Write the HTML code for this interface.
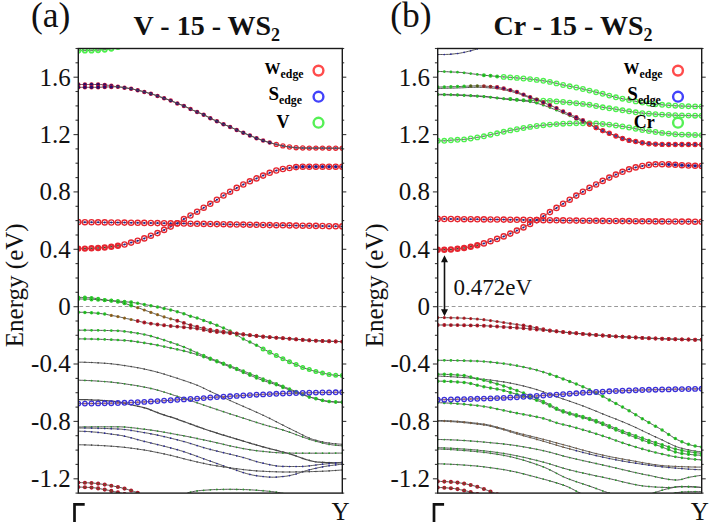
<!DOCTYPE html>
<html><head><meta charset="utf-8"><title>Band structure</title>
<style>html,body{margin:0;padding:0;background:#fff;}svg{display:block;}</style>
</head><body>
<svg width="712" height="526" viewBox="0 0 712 526">
<rect width="712" height="526" fill="#fff"/>
<defs>
<clipPath id="ca"><rect x="78.3" y="48.5" width="264" height="444.6"/></clipPath>
<clipPath id="cb"><rect x="437.7" y="48.5" width="264" height="444.6"/></clipPath>
</defs>
<line x1="79.3" y1="306.5" x2="342.3" y2="306.5" stroke="#999" stroke-width="1.1" stroke-dasharray="3.8 2.7"/>
<g clip-path="url(#ca)"><path d="M78.3,50.6 L79.8,50.6 L81.4,50.6 L82.9,50.6 L84.4,50.5 L85.9,50.5 L87.5,50.5 L89,50.5 L90.5,50.4 L92,50.4 L93.6,50.3 L95.1,50.3 L96.6,50.2 L98.1,50.1 L99.7,50 L101.2,49.9 L102.7,49.8 L104.2,49.6 L105.8,49.5 L107.3,49.3 L108.8,49 L110.3,48.8 L111.9,48.5 L113.4,48.2 L114.9,47.8 L116.4,47.4 L118,47 L119.5,46.6 L121,46.2 L122.5,45.7 L124.1,45.2 L125.6,44.8 L127.1,44.3 L128.6,43.8 L130.2,43.3 L131.7,42.8 L133.2,42.3 L134.7,41.7 L136.3,41.2 L137.8,40.7 L139.3,40.1 L140.8,39.5 L142.4,39 L143.9,38.4 L145.4,37.8 L146.9,37.2 L148.5,36.6 L150,36" fill="none" stroke="#525252" stroke-width="1.0"/><circle cx="78.3" cy="50.6" r="2.2" fill="none" stroke="#4ef04e" stroke-width="1.8"/><circle cx="78.3" cy="50.6" r="0.8" fill="#6a9a6a"/><circle cx="84.9" cy="50.5" r="2.2" fill="none" stroke="#4ef04e" stroke-width="1.8"/><circle cx="84.9" cy="50.5" r="0.8" fill="#6a9a6a"/><circle cx="91.5" cy="50.4" r="2.2" fill="none" stroke="#4ef04e" stroke-width="1.8"/><circle cx="91.5" cy="50.4" r="0.8" fill="#6a9a6a"/><circle cx="98.1" cy="50.1" r="2.2" fill="none" stroke="#4ef04e" stroke-width="1.8"/><circle cx="98.1" cy="50.1" r="0.8" fill="#6a9a6a"/><circle cx="104.7" cy="49.6" r="2.2" fill="none" stroke="#4ef04e" stroke-width="1.8"/><circle cx="104.7" cy="49.6" r="0.8" fill="#6a9a6a"/><circle cx="111.3" cy="48.6" r="2.2" fill="none" stroke="#4ef04e" stroke-width="1.8"/><circle cx="111.3" cy="48.6" r="0.8" fill="#6a9a6a"/><circle cx="117.9" cy="47" r="2.2" fill="none" stroke="#4ef04e" stroke-width="1.8"/><circle cx="117.9" cy="47" r="0.8" fill="#6a9a6a"/><circle cx="124.5" cy="45.1" r="2.2" fill="none" stroke="#4ef04e" stroke-width="1.8"/><circle cx="124.5" cy="45.1" r="0.8" fill="#6a9a6a"/><circle cx="131.1" cy="43" r="2.2" fill="none" stroke="#4ef04e" stroke-width="1.8"/><circle cx="131.1" cy="43" r="0.8" fill="#6a9a6a"/><circle cx="137.7" cy="40.7" r="2.2" fill="none" stroke="#4ef04e" stroke-width="1.8"/><circle cx="137.7" cy="40.7" r="0.8" fill="#6a9a6a"/><circle cx="144.3" cy="38.2" r="2.2" fill="none" stroke="#4ef04e" stroke-width="1.8"/><circle cx="144.3" cy="38.2" r="0.8" fill="#6a9a6a"/><path d="M78.3,84.5 L79.8,84.5 L81.3,84.5 L82.8,84.5 L84.3,84.5 L85.8,84.5 L87.3,84.5 L88.8,84.5 L90.3,84.5 L91.8,84.5 L93.3,84.5 L94.8,84.5 L96.3,84.5 L97.8,84.5 L99.3,84.5 L100.8,84.6 L102.3,84.7 L103.8,84.8 L105.3,85 L106.8,85.1 L108.3,85.3 L109.8,85.6 L111.3,85.8 L112.8,86 L114.3,86.3 L115.8,86.5 L117.3,86.7 L118.8,86.9 L120.3,87.1 L121.8,87.3 L123.3,87.5 L124.8,87.7 L126.3,88 L127.8,88.2 L129.3,88.5 L130.8,88.7 L132.3,89 L133.8,89.3 L135.3,89.7 L136.8,90 L138.3,90.3 L139.8,90.7 L141.3,91.1 L142.8,91.5 L144.3,91.9 L145.8,92.3 L147.3,92.7 L148.8,93.2 L150.3,93.6 L151.8,94.1 L153.3,94.5 L154.8,95 L156.3,95.5 L157.8,96 L159.3,96.5 L160.8,97.1 L162.3,97.6 L163.8,98.2 L165.3,98.7 L166.8,99.2 L168.3,99.7 L169.8,100.3 L171.3,100.8 L172.8,101.5 L174.3,102.1 L175.8,102.8 L177.3,103.4 L178.8,104 L180.3,104.5 L181.8,105.1 L183.3,105.7 L184.8,106.3 L186.3,107 L187.8,107.8 L189.3,108.5 L190.8,109.2 L192.3,109.9 L193.8,110.6 L195.3,111.2 L196.8,111.9 L198.3,112.5 L199.8,113.1 L201.3,113.7 L202.8,114.4 L204.3,115.1 L205.8,115.8 L207.3,116.6 L208.8,117.4 L210.3,118.2 L211.8,118.9 L213.3,119.6 L214.8,120.3 L216.3,120.9 L217.8,121.6 L219.3,122.3 L220.8,123.1 L222.3,123.8 L223.8,124.4 L225.3,125 L226.8,125.6 L228.3,126.2 L229.8,126.8 L231.3,127.4 L232.8,128.1 L234.3,128.9 L235.8,129.6 L237.3,130.3 L238.8,130.9 L240.3,131.6 L241.8,132.2 L243.3,132.8 L244.8,133.4 L246.3,134 L247.8,134.6 L249.3,135.3 L250.8,135.9 L252.3,136.5 L253.8,137.1 L255.3,137.7 L256.8,138.3 L258.3,138.9 L259.8,139.4 L261.3,140 L262.8,140.5 L264.3,141 L265.8,141.5 L267.3,141.9 L268.8,142.3 L270.3,142.8 L271.8,143.2 L273.3,143.6 L274.8,144 L276.3,144.4 L277.8,144.8 L279.3,145.1 L280.8,145.5 L282.3,145.8 L283.8,146.1 L285.3,146.3 L286.8,146.6 L288.3,146.8 L289.8,147 L291.3,147.2 L292.8,147.4 L294.3,147.6 L295.8,147.7 L297.3,147.8 L298.8,147.9 L300.3,147.9 L301.8,148 L303.3,148 L304.8,148 L306.3,148 L307.8,148.1 L309.3,148.1 L310.8,148.1 L312.3,148.1 L313.8,148.1 L315.3,148.1 L316.8,148.1 L318.3,148.1 L319.8,148.1 L321.3,148.1 L322.8,148.1 L324.3,148.1 L325.8,148.1 L327.3,148.2 L328.8,148.2 L330.3,148.2 L331.8,148.2 L333.3,148.2 L334.8,148.2 L336.3,148.2 L337.8,148.2 L339.3,148.2 L340.8,148.2 L342.3,148.2" fill="none" stroke="#525252" stroke-width="1.0"/><circle cx="78.3" cy="84.5" r="2.25" fill="#d0203c"/><circle cx="78.3" cy="84.5" r="1.7" fill="#2a0c6a"/><circle cx="84.9" cy="84.5" r="2.25" fill="#d0203c"/><circle cx="84.9" cy="84.5" r="1.7" fill="#2a0c6a"/><circle cx="91.5" cy="84.5" r="2.25" fill="#d0203c"/><circle cx="91.5" cy="84.5" r="1.7" fill="#2a0c6a"/><circle cx="98.1" cy="84.5" r="2.25" fill="#d0203c"/><circle cx="98.1" cy="84.5" r="1.7" fill="#2a0c6a"/><circle cx="104.7" cy="84.9" r="2.25" fill="#d0203c"/><circle cx="104.7" cy="84.9" r="1.7" fill="#2a0c6a"/><circle cx="111.3" cy="85.8" r="2.25" fill="#d0203c"/><circle cx="111.3" cy="85.8" r="1.7" fill="#2a0c6a"/><circle cx="117.9" cy="86.8" r="2.25" fill="#d0203c"/><circle cx="117.9" cy="86.8" r="1.7" fill="#2a0c6a"/><circle cx="124.5" cy="87.7" r="2.25" fill="#d0203c"/><circle cx="124.5" cy="87.7" r="1.7" fill="#2a0c6a"/><circle cx="131.1" cy="88.8" r="2.25" fill="#d0203c"/><circle cx="131.1" cy="88.8" r="1.7" fill="#2a0c6a"/><circle cx="137.7" cy="90.2" r="2.25" fill="#d0203c"/><circle cx="137.7" cy="90.2" r="1.7" fill="#2a0c6a"/><circle cx="144.3" cy="91.9" r="2.25" fill="#d0203c"/><circle cx="144.3" cy="91.9" r="1.7" fill="#2a0c6a"/><circle cx="150.9" cy="93.8" r="2.25" fill="#d0203c"/><circle cx="150.9" cy="93.8" r="1.7" fill="#2a0c6a"/><circle cx="157.5" cy="95.9" r="2.25" fill="#d0203c"/><circle cx="157.5" cy="95.9" r="1.7" fill="#2a0c6a"/><circle cx="164.1" cy="98.3" r="2.25" fill="#d0203c"/><circle cx="164.1" cy="98.3" r="1.7" fill="#2a0c6a"/><circle cx="170.7" cy="100.6" r="2.25" fill="#d0203c"/><circle cx="170.7" cy="100.6" r="1.7" fill="#2a0c6a"/><circle cx="177.3" cy="103.4" r="2.25" fill="#d0203c"/><circle cx="177.3" cy="103.4" r="1.7" fill="#2a0c6a"/><circle cx="183.9" cy="105.9" r="2.25" fill="#d0203c"/><circle cx="183.9" cy="105.9" r="1.7" fill="#2a0c6a"/><circle cx="190.5" cy="109.1" r="2.25" fill="#d0203c"/><circle cx="190.5" cy="109.1" r="1.7" fill="#2a0c6a"/><circle cx="197.1" cy="112" r="2.25" fill="#d0203c"/><circle cx="197.1" cy="112" r="1.7" fill="#2a0c6a"/><circle cx="203.7" cy="114.8" r="2.25" fill="#d0203c"/><circle cx="203.7" cy="114.8" r="1.7" fill="#2a0c6a"/><circle cx="210.3" cy="118.2" r="2.25" fill="#d0203c"/><circle cx="210.3" cy="118.2" r="1.7" fill="#2a0c6a"/><circle cx="216.9" cy="121.2" r="2.25" fill="#d0203c"/><circle cx="216.9" cy="121.2" r="1.7" fill="#2a0c6a"/><circle cx="223.5" cy="124.3" r="2.25" fill="#d0203c"/><circle cx="223.5" cy="124.3" r="1.7" fill="#2a0c6a"/><circle cx="230.1" cy="126.9" r="2.25" fill="#d0203c"/><circle cx="230.1" cy="126.9" r="1.7" fill="#2a0c6a"/><circle cx="236.7" cy="130" r="2.25" fill="#d0203c"/><circle cx="236.7" cy="130" r="1.7" fill="#2a0c6a"/><circle cx="243.3" cy="132.8" r="2.25" fill="#d0203c"/><circle cx="243.3" cy="132.8" r="1.7" fill="#2a0c6a"/><circle cx="249.9" cy="135.5" r="2.25" fill="#d0203c"/><circle cx="249.9" cy="135.5" r="1.7" fill="#2a0c6a"/><circle cx="256.5" cy="138.2" r="2.25" fill="#d0203c"/><circle cx="256.5" cy="138.2" r="1.7" fill="#2a0c6a"/><circle cx="263.1" cy="140.6" r="2.25" fill="#d0203c"/><circle cx="263.1" cy="140.6" r="1.7" fill="#2a0c6a"/><circle cx="269.7" cy="142.6" r="2.25" fill="#d0203c"/><circle cx="269.7" cy="142.6" r="1.7" fill="#2a0c6a"/><circle cx="276.3" cy="144.4" r="2.05" fill="none" stroke="#e62630" stroke-width="1.3"/><circle cx="276.3" cy="144.4" r="1.1" fill="#4a4aa0"/><circle cx="282.9" cy="145.9" r="2.05" fill="none" stroke="#e62630" stroke-width="1.3"/><circle cx="282.9" cy="145.9" r="1.1" fill="#4a4aa0"/><circle cx="289.5" cy="147" r="2.05" fill="none" stroke="#e62630" stroke-width="1.3"/><circle cx="289.5" cy="147" r="1.1" fill="#4a4aa0"/><circle cx="296.1" cy="147.7" r="2.05" fill="none" stroke="#e62630" stroke-width="1.3"/><circle cx="296.1" cy="147.7" r="1.1" fill="#4a4aa0"/><circle cx="302.7" cy="148" r="2.05" fill="none" stroke="#e62630" stroke-width="1.3"/><circle cx="302.7" cy="148" r="1.1" fill="#4a4aa0"/><circle cx="309.3" cy="148.1" r="2.05" fill="none" stroke="#e62630" stroke-width="1.3"/><circle cx="309.3" cy="148.1" r="1.1" fill="#4a4aa0"/><circle cx="315.9" cy="148.1" r="2.05" fill="none" stroke="#e62630" stroke-width="1.3"/><circle cx="315.9" cy="148.1" r="1.1" fill="#4a4aa0"/><circle cx="322.5" cy="148.1" r="2.05" fill="none" stroke="#e62630" stroke-width="1.3"/><circle cx="322.5" cy="148.1" r="1.1" fill="#4a4aa0"/><circle cx="329.1" cy="148.2" r="2.05" fill="none" stroke="#e62630" stroke-width="1.3"/><circle cx="329.1" cy="148.2" r="1.1" fill="#4a4aa0"/><circle cx="335.7" cy="148.2" r="2.05" fill="none" stroke="#e62630" stroke-width="1.3"/><circle cx="335.7" cy="148.2" r="1.1" fill="#4a4aa0"/><circle cx="342.3" cy="148.2" r="2.05" fill="none" stroke="#e62630" stroke-width="1.3"/><circle cx="342.3" cy="148.2" r="1.1" fill="#4a4aa0"/><path d="M78.3,87.3 L79.8,87.3 L81.3,87.3 L82.8,87.3 L84.3,87.3 L85.8,87.3 L87.3,87.3 L88.8,87.3 L90.3,87.3 L91.8,87.3 L93.3,87.3 L94.8,87.3 L96.3,87.3 L97.8,87.3 L99.3,87.3 L100.8,87.2 L102.3,87.1 L103.8,87 L105.3,87 L106.8,87 L108.3,86.9 L109.8,86.9 L111.3,86.9 L112.8,86.9 L114.3,86.8 L115.8,86.8 L117.3,86.8 L118.8,86.8 L120.3,87 L121.8,87.2 L123.3,87.5 L124.8,87.7 L126.3,88 L127.8,88.2 L129.3,88.5 L130.8,88.7 L132.3,89 L133.8,89.3 L135.3,89.7 L136.8,90 L138.3,90.3 L139.8,90.7 L141.3,91.1 L142.8,91.5 L144.3,91.9 L145.8,92.3 L147.3,92.7 L148.8,93.2 L150.3,93.6 L151.8,94.1 L153.3,94.5 L154.8,95 L156.3,95.5 L157.8,96 L159.3,96.5 L160.8,97.1 L162.3,97.6 L163.8,98.2 L165.3,98.7 L166.8,99.2 L168.3,99.7 L169.8,100.3 L171.3,100.8 L172.8,101.5 L174.3,102.1 L175.8,102.8 L177.3,103.4 L178.8,104 L180.3,104.5 L181.8,105.1 L183.3,105.7 L184.8,106.3 L186.3,107 L187.8,107.8 L189.3,108.5 L190.8,109.2 L192.3,109.9 L193.8,110.6 L195.3,111.2 L196.8,111.9 L198.3,112.5 L199.8,113.1 L201.3,113.7 L202.8,114.4 L204.3,115.1 L205.8,115.8 L207.3,116.6 L208.8,117.4 L210.3,118.2 L211.8,118.9 L213.3,119.6 L214.8,120.3 L216.3,120.9 L217.8,121.6 L219.3,122.3 L220.8,123.1 L222.3,123.8 L223.8,124.4 L225.3,125 L226.8,125.6 L228.3,126.2 L229.8,126.8 L231.3,127.4 L232.8,128.1 L234.3,128.9 L235.8,129.6 L237.3,130.3 L238.8,130.9 L240.3,131.6 L241.8,132.2 L243.3,132.8 L244.8,133.4 L246.3,134 L247.8,134.6 L249.3,135.3 L250.8,135.9 L252.3,136.5 L253.8,137.1 L255.3,137.7 L256.8,138.3 L258.3,138.9 L259.8,139.4 L261.3,140 L262.8,140.5 L264.3,141 L265.8,141.5 L267.3,141.9 L268.8,142.3 L270.3,142.8 L271.8,143.2 L273.3,143.6 L274.8,144 L276.3,144.4 L277.8,144.8 L279.3,145.1 L280.8,145.5 L282.3,145.8 L283.8,146.1 L285.3,146.3 L286.8,146.6 L288.3,146.8 L289.8,147 L291.3,147.2 L292.8,147.4 L294.3,147.6 L295.8,147.7 L297.3,147.8 L298.8,147.9 L300.3,147.9 L301.8,148 L303.3,148 L304.8,148 L306.3,148 L307.8,148.1 L309.3,148.1 L310.8,148.1 L312.3,148.1 L313.8,148.1 L315.3,148.1 L316.8,148.1 L318.3,148.1 L319.8,148.1 L321.3,148.1 L322.8,148.1 L324.3,148.1 L325.8,148.1 L327.3,148.2 L328.8,148.2 L330.3,148.2 L331.8,148.2 L333.3,148.2 L334.8,148.2 L336.3,148.2 L337.8,148.2 L339.3,148.2 L340.8,148.2 L342.3,148.2" fill="none" stroke="#525252" stroke-width="1.0"/><circle cx="78.3" cy="87.3" r="2.25" fill="#d0203c"/><circle cx="78.3" cy="87.3" r="1.7" fill="#2a0c6a"/><circle cx="84.9" cy="87.3" r="2.25" fill="#d0203c"/><circle cx="84.9" cy="87.3" r="1.7" fill="#2a0c6a"/><circle cx="91.5" cy="87.3" r="2.25" fill="#d0203c"/><circle cx="91.5" cy="87.3" r="1.7" fill="#2a0c6a"/><circle cx="98.1" cy="87.3" r="2.25" fill="#d0203c"/><circle cx="98.1" cy="87.3" r="1.7" fill="#2a0c6a"/><circle cx="104.7" cy="87" r="2.25" fill="#d0203c"/><circle cx="104.7" cy="87" r="1.7" fill="#2a0c6a"/><circle cx="111.3" cy="86.9" r="2.25" fill="#d0203c"/><circle cx="111.3" cy="86.9" r="1.7" fill="#2a0c6a"/><path d="M78.3,248.6 L79.8,248.6 L81.3,248.6 L82.8,248.6 L84.3,248.6 L85.8,248.6 L87.3,248.5 L88.8,248.5 L90.3,248.4 L91.8,248.3 L93.3,248.2 L94.8,248.2 L96.3,248.1 L97.8,248 L99.3,247.9 L100.8,247.8 L102.3,247.7 L103.8,247.6 L105.3,247.4 L106.8,247.3 L108.3,247.1 L109.8,246.9 L111.3,246.7 L112.8,246.5 L114.3,246.3 L115.8,246.1 L117.3,245.9 L118.8,245.7 L120.3,245.4 L121.8,245.1 L123.3,244.8 L124.8,244.4 L126.3,244 L127.8,243.6 L129.3,243.1 L130.8,242.7 L132.3,242.3 L133.8,241.8 L135.3,241.4 L136.8,241 L138.3,240.5 L139.8,240 L141.3,239.5 L142.8,239 L144.3,238.4 L145.8,237.8 L147.3,237.2 L148.8,236.6 L150.3,235.9 L151.8,235.3 L153.3,234.8 L154.8,234.2 L156.3,233.6 L157.8,233 L159.3,232.3 L160.8,231.5 L162.3,230.8 L163.8,230 L165.3,229.3 L166.8,228.6 L168.3,227.8 L169.8,227.1 L171.3,226.3 L172.8,225.5 L174.3,224.8 L175.8,224 L177.3,223.2 L178.8,222.3 L180.3,221.4 L181.8,220.4 L183.3,219.5 L184.8,218.6 L186.3,217.8 L187.8,217 L189.3,216.2 L190.8,215.3 L192.3,214.5 L193.8,213.6 L195.3,212.8 L196.8,211.9 L198.3,211 L199.8,210.1 L201.3,209.2 L202.8,208.2 L204.3,207.3 L205.8,206.5 L207.3,205.6 L208.8,204.7 L210.3,203.8 L211.8,202.9 L213.3,202 L214.8,201 L216.3,200.1 L217.8,199.1 L219.3,198.2 L220.8,197.2 L222.3,196.2 L223.8,195.3 L225.3,194.4 L226.8,193.6 L228.3,192.7 L229.8,191.9 L231.3,191 L232.8,190.1 L234.3,189.3 L235.8,188.4 L237.3,187.6 L238.8,186.8 L240.3,186 L241.8,185.3 L243.3,184.5 L244.8,183.8 L246.3,183 L247.8,182.3 L249.3,181.6 L250.8,180.9 L252.3,180.2 L253.8,179.6 L255.3,178.9 L256.8,178.3 L258.3,177.6 L259.8,177 L261.3,176.4 L262.8,175.7 L264.3,175.1 L265.8,174.4 L267.3,173.8 L268.8,173.2 L270.3,172.6 L271.8,172 L273.3,171.5 L274.8,170.9 L276.3,170.5 L277.8,170.1 L279.3,169.7 L280.8,169.4 L282.3,169.1 L283.8,168.8 L285.3,168.6 L286.8,168.4 L288.3,168.2 L289.8,168 L291.3,167.7 L292.8,167.5 L294.3,167.3 L295.8,167.1 L297.3,167 L298.8,166.9 L300.3,166.8 L301.8,166.7 L303.3,166.7 L304.8,166.7 L306.3,166.7 L307.8,166.7 L309.3,166.7 L310.8,166.7 L312.3,166.7 L313.8,166.7 L315.3,166.7 L316.8,166.7 L318.3,166.7 L319.8,166.7 L321.3,166.7 L322.8,166.7 L324.3,166.7 L325.8,166.7 L327.3,166.7 L328.8,166.7 L330.3,166.7 L331.8,166.7 L333.3,166.7 L334.8,166.7 L336.3,166.7 L337.8,166.7 L339.3,166.7 L340.8,166.7 L342.3,166.7" fill="none" stroke="#525252" stroke-width="1.0"/><circle cx="78.3" cy="248.6" r="2.1" fill="none" stroke="#e62630" stroke-width="2.2"/><circle cx="78.3" cy="248.6" r="0.8" fill="#3a4a2a"/><circle cx="84.9" cy="248.6" r="2.1" fill="none" stroke="#e62630" stroke-width="2.2"/><circle cx="84.9" cy="248.6" r="0.8" fill="#3a4a2a"/><circle cx="91.5" cy="248.3" r="2.1" fill="none" stroke="#e62630" stroke-width="2.2"/><circle cx="91.5" cy="248.3" r="0.8" fill="#3a4a2a"/><circle cx="98.1" cy="248" r="2.1" fill="none" stroke="#e62630" stroke-width="2.2"/><circle cx="98.1" cy="248" r="0.8" fill="#3a4a2a"/><circle cx="104.7" cy="247.5" r="2.1" fill="none" stroke="#e62630" stroke-width="2.2"/><circle cx="104.7" cy="247.5" r="0.8" fill="#3a4a2a"/><circle cx="111.3" cy="246.7" r="2.1" fill="none" stroke="#e62630" stroke-width="2.2"/><circle cx="111.3" cy="246.7" r="0.8" fill="#3a4a2a"/><circle cx="117.9" cy="245.8" r="2.1" fill="none" stroke="#e62630" stroke-width="2.2"/><circle cx="117.9" cy="245.8" r="0.8" fill="#3a4a2a"/><circle cx="124.5" cy="244.5" r="2.6" fill="none" stroke="#e62630" stroke-width="1.35"/><circle cx="124.5" cy="244.5" r="1.0" fill="#1e1e96"/><circle cx="131.1" cy="242.6" r="2.6" fill="none" stroke="#e62630" stroke-width="1.35"/><circle cx="131.1" cy="242.6" r="1.0" fill="#1e1e96"/><circle cx="137.7" cy="240.7" r="2.6" fill="none" stroke="#e62630" stroke-width="1.35"/><circle cx="137.7" cy="240.7" r="1.0" fill="#1e1e96"/><circle cx="144.3" cy="238.4" r="2.6" fill="none" stroke="#e62630" stroke-width="1.35"/><circle cx="144.3" cy="238.4" r="1.0" fill="#1e1e96"/><circle cx="150.9" cy="235.7" r="2.6" fill="none" stroke="#e62630" stroke-width="1.35"/><circle cx="150.9" cy="235.7" r="1.0" fill="#1e1e96"/><circle cx="157.5" cy="233.1" r="2.6" fill="none" stroke="#e62630" stroke-width="1.35"/><circle cx="157.5" cy="233.1" r="1.0" fill="#1e1e96"/><circle cx="164.1" cy="229.9" r="2.6" fill="none" stroke="#e62630" stroke-width="1.35"/><circle cx="164.1" cy="229.9" r="1.0" fill="#1e1e96"/><circle cx="170.7" cy="226.6" r="2.6" fill="none" stroke="#e62630" stroke-width="1.35"/><circle cx="170.7" cy="226.6" r="1.0" fill="#1e1e96"/><circle cx="177.3" cy="223.2" r="2.6" fill="none" stroke="#e62630" stroke-width="1.35"/><circle cx="177.3" cy="223.2" r="1.0" fill="#1e1e96"/><circle cx="183.9" cy="219.1" r="2.6" fill="none" stroke="#e62630" stroke-width="1.35"/><circle cx="183.9" cy="219.1" r="1.0" fill="#1e1e96"/><circle cx="190.5" cy="215.5" r="2.6" fill="none" stroke="#e62630" stroke-width="1.35"/><circle cx="190.5" cy="215.5" r="1.0" fill="#1e1e96"/><circle cx="197.1" cy="211.7" r="2.6" fill="none" stroke="#e62630" stroke-width="1.35"/><circle cx="197.1" cy="211.7" r="1.0" fill="#1e1e96"/><circle cx="203.7" cy="207.7" r="2.6" fill="none" stroke="#e62630" stroke-width="1.35"/><circle cx="203.7" cy="207.7" r="1.0" fill="#1e1e96"/><circle cx="210.3" cy="203.8" r="2.6" fill="none" stroke="#e62630" stroke-width="1.35"/><circle cx="210.3" cy="203.8" r="1.0" fill="#1e1e96"/><circle cx="216.9" cy="199.7" r="2.6" fill="none" stroke="#e62630" stroke-width="1.35"/><circle cx="216.9" cy="199.7" r="1.0" fill="#1e1e96"/><circle cx="223.5" cy="195.5" r="2.6" fill="none" stroke="#e62630" stroke-width="1.35"/><circle cx="223.5" cy="195.5" r="1.0" fill="#1e1e96"/><circle cx="230.1" cy="191.7" r="2.6" fill="none" stroke="#e62630" stroke-width="1.35"/><circle cx="230.1" cy="191.7" r="1.0" fill="#1e1e96"/><circle cx="236.7" cy="187.9" r="2.6" fill="none" stroke="#e62630" stroke-width="1.35"/><circle cx="236.7" cy="187.9" r="1.0" fill="#1e1e96"/><circle cx="243.3" cy="184.5" r="2.6" fill="none" stroke="#e62630" stroke-width="1.35"/><circle cx="243.3" cy="184.5" r="1.0" fill="#1e1e96"/><circle cx="249.9" cy="181.3" r="2.6" fill="none" stroke="#e62630" stroke-width="1.35"/><circle cx="249.9" cy="181.3" r="1.0" fill="#1e1e96"/><circle cx="256.5" cy="178.4" r="2.6" fill="none" stroke="#e62630" stroke-width="1.35"/><circle cx="256.5" cy="178.4" r="1.0" fill="#1e1e96"/><circle cx="263.1" cy="175.6" r="2.6" fill="none" stroke="#e62630" stroke-width="1.35"/><circle cx="263.1" cy="175.6" r="1.0" fill="#1e1e96"/><circle cx="269.7" cy="172.8" r="2.6" fill="none" stroke="#e62630" stroke-width="1.35"/><circle cx="269.7" cy="172.8" r="1.0" fill="#1e1e96"/><circle cx="276.3" cy="170.5" r="2.6" fill="none" stroke="#e62630" stroke-width="1.35"/><circle cx="276.3" cy="170.5" r="1.0" fill="#1e1e96"/><circle cx="282.9" cy="169" r="2.6" fill="none" stroke="#e62630" stroke-width="1.35"/><circle cx="282.9" cy="169" r="1.0" fill="#1e1e96"/><circle cx="289.5" cy="168" r="2.6" fill="none" stroke="#e62630" stroke-width="1.35"/><circle cx="289.5" cy="168" r="1.0" fill="#1e1e96"/><circle cx="296.1" cy="167.1" r="2.6" fill="none" stroke="#e62630" stroke-width="1.35"/><circle cx="296.1" cy="167.1" r="1.6" fill="#1e1e96"/><circle cx="302.7" cy="166.7" r="2.6" fill="none" stroke="#e62630" stroke-width="1.35"/><circle cx="302.7" cy="166.7" r="1.6" fill="#1e1e96"/><circle cx="309.3" cy="166.7" r="2.6" fill="none" stroke="#e62630" stroke-width="1.35"/><circle cx="309.3" cy="166.7" r="1.6" fill="#1e1e96"/><circle cx="315.9" cy="166.7" r="2.6" fill="none" stroke="#e62630" stroke-width="1.35"/><circle cx="315.9" cy="166.7" r="1.6" fill="#1e1e96"/><circle cx="322.5" cy="166.7" r="2.6" fill="none" stroke="#e62630" stroke-width="1.35"/><circle cx="322.5" cy="166.7" r="1.6" fill="#1e1e96"/><circle cx="329.1" cy="166.7" r="2.6" fill="none" stroke="#e62630" stroke-width="1.35"/><circle cx="329.1" cy="166.7" r="1.6" fill="#1e1e96"/><circle cx="335.7" cy="166.7" r="2.6" fill="none" stroke="#e62630" stroke-width="1.35"/><circle cx="335.7" cy="166.7" r="1.6" fill="#1e1e96"/><circle cx="342.3" cy="166.7" r="2.6" fill="none" stroke="#e62630" stroke-width="1.35"/><circle cx="342.3" cy="166.7" r="1.6" fill="#1e1e96"/><path d="M78.3,222.1 L79.8,222.1 L81.3,222.1 L82.8,222.1 L84.3,222.2 L85.8,222.2 L87.3,222.2 L88.8,222.2 L90.3,222.2 L91.8,222.2 L93.3,222.3 L94.8,222.3 L96.3,222.3 L97.8,222.3 L99.3,222.3 L100.8,222.3 L102.3,222.4 L103.8,222.4 L105.3,222.4 L106.8,222.4 L108.3,222.4 L109.8,222.4 L111.3,222.5 L112.8,222.5 L114.3,222.5 L115.8,222.5 L117.3,222.5 L118.8,222.6 L120.3,222.6 L121.8,222.6 L123.3,222.6 L124.8,222.6 L126.3,222.7 L127.8,222.7 L129.3,222.7 L130.8,222.7 L132.3,222.7 L133.8,222.8 L135.3,222.8 L136.8,222.8 L138.3,222.8 L139.8,222.8 L141.3,222.9 L142.8,222.9 L144.3,222.9 L145.8,222.9 L147.3,222.9 L148.8,223 L150.3,223 L151.8,223 L153.3,223 L154.8,223.1 L156.3,223.1 L157.8,223.1 L159.3,223.1 L160.8,223.1 L162.3,223.2 L163.8,223.2 L165.3,223.2 L166.8,223.2 L168.3,223.3 L169.8,223.3 L171.3,223.3 L172.8,223.3 L174.3,223.4 L175.8,223.4 L177.3,223.4 L178.8,223.4 L180.3,223.5 L181.8,223.5 L183.3,223.5 L184.8,223.6 L186.3,223.6 L187.8,223.6 L189.3,223.6 L190.8,223.7 L192.3,223.7 L193.8,223.7 L195.3,223.7 L196.8,223.8 L198.3,223.8 L199.8,223.8 L201.3,223.8 L202.8,223.9 L204.3,223.9 L205.8,223.9 L207.3,223.9 L208.8,224 L210.3,224 L211.8,224 L213.3,224.1 L214.8,224.1 L216.3,224.1 L217.8,224.1 L219.3,224.2 L220.8,224.2 L222.3,224.2 L223.8,224.2 L225.3,224.3 L226.8,224.3 L228.3,224.3 L229.8,224.3 L231.3,224.4 L232.8,224.4 L234.3,224.4 L235.8,224.5 L237.3,224.5 L238.8,224.5 L240.3,224.5 L241.8,224.6 L243.3,224.6 L244.8,224.6 L246.3,224.6 L247.8,224.7 L249.3,224.7 L250.8,224.7 L252.3,224.8 L253.8,224.8 L255.3,224.8 L256.8,224.8 L258.3,224.9 L259.8,224.9 L261.3,224.9 L262.8,225 L264.3,225 L265.8,225 L267.3,225 L268.8,225.1 L270.3,225.1 L271.8,225.1 L273.3,225.1 L274.8,225.2 L276.3,225.2 L277.8,225.2 L279.3,225.3 L280.8,225.3 L282.3,225.3 L283.8,225.3 L285.3,225.4 L286.8,225.4 L288.3,225.4 L289.8,225.4 L291.3,225.5 L292.8,225.5 L294.3,225.5 L295.8,225.6 L297.3,225.6 L298.8,225.6 L300.3,225.6 L301.8,225.7 L303.3,225.7 L304.8,225.7 L306.3,225.7 L307.8,225.8 L309.3,225.8 L310.8,225.8 L312.3,225.9 L313.8,225.9 L315.3,225.9 L316.8,225.9 L318.3,226 L319.8,226 L321.3,226 L322.8,226 L324.3,226.1 L325.8,226.1 L327.3,226.1 L328.8,226.2 L330.3,226.2 L331.8,226.2 L333.3,226.2 L334.8,226.3 L336.3,226.3 L337.8,226.3 L339.3,226.3 L340.8,226.4 L342.3,226.4" fill="none" stroke="#525252" stroke-width="1.0"/><circle cx="78.3" cy="222.1" r="2.6" fill="none" stroke="#e62630" stroke-width="1.35"/><circle cx="78.3" cy="222.1" r="1.0" fill="#1e1e96"/><circle cx="84.9" cy="222.2" r="2.6" fill="none" stroke="#e62630" stroke-width="1.35"/><circle cx="84.9" cy="222.2" r="1.0" fill="#1e1e96"/><circle cx="91.5" cy="222.2" r="2.6" fill="none" stroke="#e62630" stroke-width="1.35"/><circle cx="91.5" cy="222.2" r="1.0" fill="#1e1e96"/><circle cx="98.1" cy="222.3" r="2.6" fill="none" stroke="#e62630" stroke-width="1.35"/><circle cx="98.1" cy="222.3" r="1.0" fill="#1e1e96"/><circle cx="104.7" cy="222.4" r="2.6" fill="none" stroke="#e62630" stroke-width="1.35"/><circle cx="104.7" cy="222.4" r="1.0" fill="#1e1e96"/><circle cx="111.3" cy="222.5" r="2.6" fill="none" stroke="#e62630" stroke-width="1.35"/><circle cx="111.3" cy="222.5" r="1.0" fill="#1e1e96"/><circle cx="117.9" cy="222.5" r="2.6" fill="none" stroke="#e62630" stroke-width="1.35"/><circle cx="117.9" cy="222.5" r="1.0" fill="#1e1e96"/><circle cx="124.5" cy="222.6" r="2.6" fill="none" stroke="#e62630" stroke-width="1.35"/><circle cx="124.5" cy="222.6" r="1.0" fill="#1e1e96"/><circle cx="131.1" cy="222.7" r="2.6" fill="none" stroke="#e62630" stroke-width="1.35"/><circle cx="131.1" cy="222.7" r="1.0" fill="#1e1e96"/><circle cx="137.7" cy="222.8" r="2.6" fill="none" stroke="#e62630" stroke-width="1.35"/><circle cx="137.7" cy="222.8" r="1.0" fill="#1e1e96"/><circle cx="144.3" cy="222.9" r="2.6" fill="none" stroke="#e62630" stroke-width="1.35"/><circle cx="144.3" cy="222.9" r="1.0" fill="#1e1e96"/><circle cx="150.9" cy="223" r="2.6" fill="none" stroke="#e62630" stroke-width="1.35"/><circle cx="150.9" cy="223" r="1.0" fill="#1e1e96"/><circle cx="157.5" cy="223.1" r="2.6" fill="none" stroke="#e62630" stroke-width="1.35"/><circle cx="157.5" cy="223.1" r="1.0" fill="#1e1e96"/><circle cx="164.1" cy="223.2" r="2.6" fill="none" stroke="#e62630" stroke-width="1.35"/><circle cx="164.1" cy="223.2" r="1.0" fill="#1e1e96"/><circle cx="170.7" cy="223.3" r="2.6" fill="none" stroke="#e62630" stroke-width="1.35"/><circle cx="170.7" cy="223.3" r="1.0" fill="#1e1e96"/><circle cx="177.3" cy="223.4" r="2.6" fill="none" stroke="#e62630" stroke-width="1.35"/><circle cx="177.3" cy="223.4" r="1.0" fill="#1e1e96"/><circle cx="183.9" cy="223.5" r="2.6" fill="none" stroke="#e62630" stroke-width="1.35"/><circle cx="183.9" cy="223.5" r="1.0" fill="#1e1e96"/><circle cx="190.5" cy="223.7" r="2.6" fill="none" stroke="#e62630" stroke-width="1.35"/><circle cx="190.5" cy="223.7" r="1.0" fill="#1e1e96"/><circle cx="197.1" cy="223.8" r="2.6" fill="none" stroke="#e62630" stroke-width="1.35"/><circle cx="197.1" cy="223.8" r="1.0" fill="#1e1e96"/><circle cx="203.7" cy="223.9" r="2.6" fill="none" stroke="#e62630" stroke-width="1.35"/><circle cx="203.7" cy="223.9" r="1.0" fill="#1e1e96"/><circle cx="210.3" cy="224" r="2.6" fill="none" stroke="#e62630" stroke-width="1.35"/><circle cx="210.3" cy="224" r="1.0" fill="#1e1e96"/><circle cx="216.9" cy="224.1" r="2.6" fill="none" stroke="#e62630" stroke-width="1.35"/><circle cx="216.9" cy="224.1" r="1.0" fill="#1e1e96"/><circle cx="223.5" cy="224.2" r="2.6" fill="none" stroke="#e62630" stroke-width="1.35"/><circle cx="223.5" cy="224.2" r="1.0" fill="#1e1e96"/><circle cx="230.1" cy="224.4" r="2.6" fill="none" stroke="#e62630" stroke-width="1.35"/><circle cx="230.1" cy="224.4" r="1.0" fill="#1e1e96"/><circle cx="236.7" cy="224.5" r="2.6" fill="none" stroke="#e62630" stroke-width="1.35"/><circle cx="236.7" cy="224.5" r="1.0" fill="#1e1e96"/><circle cx="243.3" cy="224.6" r="2.6" fill="none" stroke="#e62630" stroke-width="1.35"/><circle cx="243.3" cy="224.6" r="1.0" fill="#1e1e96"/><circle cx="249.9" cy="224.7" r="2.6" fill="none" stroke="#e62630" stroke-width="1.35"/><circle cx="249.9" cy="224.7" r="1.0" fill="#1e1e96"/><circle cx="256.5" cy="224.8" r="2.6" fill="none" stroke="#e62630" stroke-width="1.35"/><circle cx="256.5" cy="224.8" r="1.0" fill="#1e1e96"/><circle cx="263.1" cy="225" r="2.6" fill="none" stroke="#e62630" stroke-width="1.35"/><circle cx="263.1" cy="225" r="1.0" fill="#1e1e96"/><circle cx="269.7" cy="225.1" r="2.6" fill="none" stroke="#e62630" stroke-width="1.35"/><circle cx="269.7" cy="225.1" r="1.0" fill="#1e1e96"/><circle cx="276.3" cy="225.2" r="2.6" fill="none" stroke="#e62630" stroke-width="1.35"/><circle cx="276.3" cy="225.2" r="1.0" fill="#1e1e96"/><circle cx="282.9" cy="225.3" r="2.6" fill="none" stroke="#e62630" stroke-width="1.35"/><circle cx="282.9" cy="225.3" r="1.0" fill="#1e1e96"/><circle cx="289.5" cy="225.4" r="2.6" fill="none" stroke="#e62630" stroke-width="1.35"/><circle cx="289.5" cy="225.4" r="1.0" fill="#1e1e96"/><circle cx="296.1" cy="225.6" r="2.6" fill="none" stroke="#e62630" stroke-width="1.35"/><circle cx="296.1" cy="225.6" r="1.0" fill="#1e1e96"/><circle cx="302.7" cy="225.7" r="2.6" fill="none" stroke="#e62630" stroke-width="1.35"/><circle cx="302.7" cy="225.7" r="1.0" fill="#1e1e96"/><circle cx="309.3" cy="225.8" r="2.6" fill="none" stroke="#e62630" stroke-width="1.35"/><circle cx="309.3" cy="225.8" r="1.0" fill="#1e1e96"/><circle cx="315.9" cy="225.9" r="2.6" fill="none" stroke="#e62630" stroke-width="1.35"/><circle cx="315.9" cy="225.9" r="1.0" fill="#1e1e96"/><circle cx="322.5" cy="226" r="2.6" fill="none" stroke="#e62630" stroke-width="1.35"/><circle cx="322.5" cy="226" r="1.0" fill="#1e1e96"/><circle cx="329.1" cy="226.2" r="2.6" fill="none" stroke="#e62630" stroke-width="1.35"/><circle cx="329.1" cy="226.2" r="1.0" fill="#1e1e96"/><circle cx="335.7" cy="226.3" r="2.6" fill="none" stroke="#e62630" stroke-width="1.35"/><circle cx="335.7" cy="226.3" r="1.0" fill="#1e1e96"/><circle cx="342.3" cy="226.4" r="2.6" fill="none" stroke="#e62630" stroke-width="1.35"/><circle cx="342.3" cy="226.4" r="1.0" fill="#1e1e96"/><path d="M78.3,297.4 L79.8,297.4 L81.3,297.4 L82.8,297.5 L84.3,297.5 L85.8,297.6 L87.3,297.7 L88.8,297.7 L90.3,297.8 L91.8,297.9 L93.3,298.1 L94.8,298.3 L96.3,298.5 L97.8,298.8 L99.3,299 L100.8,299.3 L102.3,299.6 L103.8,299.8 L105.3,300 L106.8,300.1 L108.3,300.3 L109.8,300.4 L111.3,300.5 L112.8,300.7 L114.3,300.8 L115.8,300.9 L117.3,301 L118.8,301.2 L120.3,301.3 L121.8,301.4 L123.3,301.6 L124.8,301.7 L126.3,301.8 L127.8,302 L129.3,302.1 L130.8,302.3 L132.3,302.5 L133.8,302.7 L135.3,302.9 L136.8,303.1 L138.3,303.4 L139.8,303.7 L141.3,304 L142.8,304.2 L144.3,304.5 L145.8,304.8 L147.3,305 L148.8,305.3 L150.3,305.6 L151.8,305.9 L153.3,306.2 L154.8,306.5 L156.3,306.8 L157.8,307.1 L159.3,307.4 L160.8,307.7 L162.3,308 L163.8,308.3 L165.3,308.6 L166.8,309 L168.3,309.3 L169.8,309.7 L171.3,310.1 L172.8,310.4 L174.3,310.8 L175.8,311.2 L177.3,311.7 L178.8,312.1 L180.3,312.6 L181.8,313 L183.3,313.5 L184.8,314 L186.3,314.6 L187.8,315.2 L189.3,315.8 L190.8,316.3 L192.3,316.7 L193.8,317.1 L195.3,317.5 L196.8,317.9 L198.3,318.4 L199.8,318.9 L201.3,319.5 L202.8,320.1 L204.3,320.6 L205.8,321.2 L207.3,321.7 L208.8,322.2 L210.3,322.8 L211.8,323.4 L213.3,323.9 L214.8,324.5 L216.3,325.1 L217.8,325.7 L219.3,326.3 L220.8,326.9 L222.3,327.6 L223.8,328.2 L225.3,328.8 L226.8,329.4 L228.3,330.1 L229.8,330.8 L231.3,331.5 L232.8,332.4 L234.3,333.4 L235.8,334.3 L237.3,335.3 L238.8,336.2 L240.3,337.1 L241.8,338.1 L243.3,338.9 L244.8,339.7 L246.3,340.4 L247.8,341.1 L249.3,341.8 L250.8,342.5 L252.3,343.2 L253.8,343.9 L255.3,344.6 L256.8,345.4 L258.3,346.2 L259.8,347 L261.3,347.9 L262.8,348.7 L264.3,349.5 L265.8,350.3 L267.3,351 L268.8,351.8 L270.3,352.5 L271.8,353.3 L273.3,354 L274.8,354.8 L276.3,355.5 L277.8,356.2 L279.3,357 L280.8,357.7 L282.3,358.4 L283.8,359.1 L285.3,359.9 L286.8,360.6 L288.3,361.3 L289.8,361.9 L291.3,362.6 L292.8,363.2 L294.3,363.8 L295.8,364.4 L297.3,365 L298.8,365.7 L300.3,366.4 L301.8,367 L303.3,367.6 L304.8,368.2 L306.3,368.7 L307.8,369.1 L309.3,369.6 L310.8,370.1 L312.3,370.5 L313.8,370.9 L315.3,371.3 L316.8,371.7 L318.3,372.1 L319.8,372.4 L321.3,372.7 L322.8,373.1 L324.3,373.4 L325.8,373.7 L327.3,374.1 L328.8,374.3 L330.3,374.6 L331.8,374.8 L333.3,375.1 L334.8,375.2 L336.3,375.3 L337.8,375.4 L339.3,375.5 L340.8,375.6 L342.3,375.6" fill="none" stroke="#525252" stroke-width="1.0"/><circle cx="78.3" cy="297.4" r="2.0" fill="#2ec82e"/><circle cx="78.3" cy="297.4" r="0.7" fill="#1a8a1a"/><circle cx="84.9" cy="297.6" r="2.0" fill="#2ec82e"/><circle cx="84.9" cy="297.6" r="0.7" fill="#1a8a1a"/><circle cx="91.5" cy="297.9" r="2.0" fill="#2ec82e"/><circle cx="91.5" cy="297.9" r="0.7" fill="#1a8a1a"/><circle cx="98.1" cy="298.8" r="2.0" fill="#2ec82e"/><circle cx="98.1" cy="298.8" r="0.7" fill="#1a8a1a"/><circle cx="104.7" cy="299.9" r="2.0" fill="#2ec82e"/><circle cx="104.7" cy="299.9" r="0.7" fill="#1a8a1a"/><circle cx="111.3" cy="300.5" r="2.0" fill="#2ec82e"/><circle cx="111.3" cy="300.5" r="0.7" fill="#1a8a1a"/><circle cx="117.9" cy="301.1" r="2.0" fill="#2ec82e"/><circle cx="117.9" cy="301.1" r="0.7" fill="#1a8a1a"/><circle cx="124.5" cy="301.7" r="2.0" fill="#2ec82e"/><circle cx="124.5" cy="301.7" r="0.7" fill="#1a8a1a"/><circle cx="131.1" cy="302.3" r="2.0" fill="#2ec82e"/><circle cx="131.1" cy="302.3" r="0.7" fill="#1a8a1a"/><circle cx="137.7" cy="303.3" r="1.75" fill="#2ec82e"/><circle cx="137.7" cy="303.3" r="0.6" fill="#1a8a1a"/><circle cx="144.3" cy="304.5" r="1.75" fill="#2ec82e"/><circle cx="144.3" cy="304.5" r="0.6" fill="#1a8a1a"/><circle cx="150.9" cy="305.7" r="1.75" fill="#2ec82e"/><circle cx="150.9" cy="305.7" r="0.6" fill="#1a8a1a"/><circle cx="157.5" cy="307" r="1.75" fill="#2ec82e"/><circle cx="157.5" cy="307" r="0.6" fill="#1a8a1a"/><circle cx="164.1" cy="308.4" r="1.75" fill="#2ec82e"/><circle cx="164.1" cy="308.4" r="0.6" fill="#1a8a1a"/><circle cx="170.7" cy="309.9" r="1.75" fill="#2ec82e"/><circle cx="170.7" cy="309.9" r="0.6" fill="#1a8a1a"/><circle cx="177.3" cy="311.7" r="1.75" fill="#2ec82e"/><circle cx="177.3" cy="311.7" r="0.6" fill="#1a8a1a"/><circle cx="183.9" cy="313.7" r="1.75" fill="#2ec82e"/><circle cx="183.9" cy="313.7" r="0.6" fill="#1a8a1a"/><circle cx="190.5" cy="316.2" r="1.75" fill="#2ec82e"/><circle cx="190.5" cy="316.2" r="0.6" fill="#1a8a1a"/><circle cx="197.1" cy="318" r="1.75" fill="#2ec82e"/><circle cx="197.1" cy="318" r="0.6" fill="#1a8a1a"/><circle cx="203.7" cy="320.4" r="1.75" fill="#2ec82e"/><circle cx="203.7" cy="320.4" r="0.6" fill="#1a8a1a"/><circle cx="210.3" cy="322.8" r="1.75" fill="#2ec82e"/><circle cx="210.3" cy="322.8" r="0.6" fill="#1a8a1a"/><circle cx="216.9" cy="325.3" r="1.75" fill="#2ec82e"/><circle cx="216.9" cy="325.3" r="0.6" fill="#1a8a1a"/><circle cx="223.5" cy="328.1" r="1.75" fill="#2ec82e"/><circle cx="223.5" cy="328.1" r="0.6" fill="#1a8a1a"/><circle cx="230.1" cy="330.9" r="1.75" fill="#2ec82e"/><circle cx="230.1" cy="330.9" r="0.6" fill="#1a8a1a"/><circle cx="236.7" cy="334.9" r="1.75" fill="#2ec82e"/><circle cx="236.7" cy="334.9" r="0.6" fill="#1a8a1a"/><circle cx="243.3" cy="338.9" r="1.75" fill="#2ec82e"/><circle cx="243.3" cy="338.9" r="0.6" fill="#1a8a1a"/><circle cx="249.9" cy="342.1" r="1.75" fill="#2ec82e"/><circle cx="249.9" cy="342.1" r="0.6" fill="#1a8a1a"/><circle cx="256.5" cy="345.2" r="1.75" fill="#2ec82e"/><circle cx="256.5" cy="345.2" r="0.6" fill="#1a8a1a"/><circle cx="263.1" cy="348.9" r="1.75" fill="none" stroke="#3ee03e" stroke-width="1.5"/><circle cx="263.1" cy="348.9" r="0.7" fill="#5a9a5a"/><circle cx="269.7" cy="352.2" r="1.75" fill="none" stroke="#3ee03e" stroke-width="1.5"/><circle cx="269.7" cy="352.2" r="0.7" fill="#5a9a5a"/><circle cx="276.3" cy="355.5" r="1.75" fill="none" stroke="#3ee03e" stroke-width="1.5"/><circle cx="276.3" cy="355.5" r="0.7" fill="#5a9a5a"/><circle cx="282.9" cy="358.7" r="1.75" fill="none" stroke="#3ee03e" stroke-width="1.5"/><circle cx="282.9" cy="358.7" r="0.7" fill="#5a9a5a"/><circle cx="289.5" cy="361.8" r="1.75" fill="none" stroke="#3ee03e" stroke-width="1.5"/><circle cx="289.5" cy="361.8" r="0.7" fill="#5a9a5a"/><circle cx="296.1" cy="364.5" r="1.75" fill="none" stroke="#3ee03e" stroke-width="1.5"/><circle cx="296.1" cy="364.5" r="0.7" fill="#5a9a5a"/><circle cx="302.7" cy="367.4" r="1.75" fill="none" stroke="#3ee03e" stroke-width="1.5"/><circle cx="302.7" cy="367.4" r="0.7" fill="#5a9a5a"/><circle cx="309.3" cy="369.6" r="1.75" fill="none" stroke="#3ee03e" stroke-width="1.5"/><circle cx="309.3" cy="369.6" r="0.7" fill="#5a9a5a"/><circle cx="315.9" cy="371.5" r="1.75" fill="none" stroke="#3ee03e" stroke-width="1.5"/><circle cx="315.9" cy="371.5" r="0.7" fill="#5a9a5a"/><circle cx="322.5" cy="373" r="1.75" fill="none" stroke="#3ee03e" stroke-width="1.5"/><circle cx="322.5" cy="373" r="0.7" fill="#5a9a5a"/><circle cx="329.1" cy="374.4" r="1.75" fill="none" stroke="#3ee03e" stroke-width="1.5"/><circle cx="329.1" cy="374.4" r="0.7" fill="#5a9a5a"/><circle cx="335.7" cy="375.3" r="1.75" fill="none" stroke="#3ee03e" stroke-width="1.5"/><circle cx="335.7" cy="375.3" r="0.7" fill="#5a9a5a"/><circle cx="342.3" cy="375.6" r="1.75" fill="none" stroke="#3ee03e" stroke-width="1.5"/><circle cx="342.3" cy="375.6" r="0.7" fill="#5a9a5a"/><path d="M78.3,298.9 L79.8,298.9 L81.3,299 L82.8,299 L84.3,299 L85.8,299.1 L87.3,299.2 L88.8,299.2 L90.3,299.3 L91.8,299.4 L93.3,299.4 L94.8,299.5 L96.3,299.6 L97.8,299.7 L99.3,299.8 L100.8,299.9 L102.3,300 L103.8,300.1 L105.3,300.2 L106.8,300.3 L108.3,300.5 L109.8,300.6 L111.3,300.8 L112.8,301 L114.3,301.2 L115.8,301.4 L117.3,301.7 L118.8,302 L120.3,302.3 L121.8,302.6 L123.3,303 L124.8,303.4 L126.3,303.9 L127.8,304.4 L129.3,305 L130.8,305.5 L132.3,306 L133.8,306.5 L135.3,306.9 L136.8,307.4 L138.3,307.9 L139.8,308.4 L141.3,308.9 L142.8,309.5 L144.3,310 L145.8,310.5 L147.3,311.1 L148.8,311.6 L150.3,312.2 L151.8,312.7 L153.3,313.2 L154.8,313.8 L156.3,314.3 L157.8,314.8 L159.3,315.3 L160.8,315.8 L162.3,316.3 L163.8,316.8 L165.3,317.3 L166.8,317.7 L168.3,318.1 L169.8,318.6 L171.3,319 L172.8,319.4 L174.3,319.8 L175.8,320.2 L177.3,320.7 L178.8,321.2 L180.3,321.7 L181.8,322.2 L183.3,322.7 L184.8,323.3 L186.3,323.8 L187.8,324.3 L189.3,324.7 L190.8,325.2 L192.3,325.6 L193.8,326 L195.3,326.3 L196.8,326.7 L198.3,327.1 L199.8,327.4 L201.3,327.7 L202.8,328.1 L204.3,328.4 L205.8,328.8 L207.3,329.2 L208.8,329.5 L210.3,329.8 L211.8,330.1 L213.3,330.3 L214.8,330.5 L216.3,330.7 L217.8,330.9 L219.3,331.1 L220.8,331.2 L222.3,331.4 L223.8,331.6 L225.3,331.8 L226.8,332.1 L228.3,332.3 L229.8,332.5 L231.3,332.7 L232.8,332.9 L234.3,333.1 L235.8,333.3 L237.3,333.5 L238.8,333.7 L240.3,333.9 L241.8,334.1 L243.3,334.3 L244.8,334.5 L246.3,334.7 L247.8,334.8 L249.3,335 L250.8,335.2 L252.3,335.4 L253.8,335.5 L255.3,335.7 L256.8,335.9 L258.3,336 L259.8,336.2 L261.3,336.3 L262.8,336.5 L264.3,336.6 L265.8,336.7 L267.3,336.9 L268.8,337 L270.3,337.1 L271.8,337.2 L273.3,337.4 L274.8,337.5 L276.3,337.6 L277.8,337.7 L279.3,337.8 L280.8,337.9 L282.3,338.1 L283.8,338.2 L285.3,338.3 L286.8,338.4 L288.3,338.5 L289.8,338.6 L291.3,338.7 L292.8,338.9 L294.3,339 L295.8,339.1 L297.3,339.3 L298.8,339.4 L300.3,339.5 L301.8,339.7 L303.3,339.8 L304.8,339.9 L306.3,340 L307.8,340.1 L309.3,340.2 L310.8,340.3 L312.3,340.4 L313.8,340.5 L315.3,340.5 L316.8,340.6 L318.3,340.7 L319.8,340.8 L321.3,340.8 L322.8,340.9 L324.3,341 L325.8,341.1 L327.3,341.1 L328.8,341.2 L330.3,341.2 L331.8,341.3 L333.3,341.4 L334.8,341.4 L336.3,341.5 L337.8,341.5 L339.3,341.5 L340.8,341.6 L342.3,341.6" fill="none" stroke="#525252" stroke-width="1.0"/><circle cx="78.3" cy="298.9" r="2.0" fill="#2ec82e"/><circle cx="78.3" cy="298.9" r="0.7" fill="#1a8a1a"/><circle cx="84.9" cy="299.1" r="2.0" fill="#2ec82e"/><circle cx="84.9" cy="299.1" r="0.7" fill="#1a8a1a"/><circle cx="91.5" cy="299.4" r="2.0" fill="#2ec82e"/><circle cx="91.5" cy="299.4" r="0.7" fill="#1a8a1a"/><circle cx="98.1" cy="299.7" r="2.0" fill="#2ec82e"/><circle cx="98.1" cy="299.7" r="0.7" fill="#1a8a1a"/><circle cx="104.7" cy="300.2" r="2.0" fill="#2ec82e"/><circle cx="104.7" cy="300.2" r="0.7" fill="#1a8a1a"/><circle cx="111.3" cy="300.8" r="2.0" fill="#2ec82e"/><circle cx="111.3" cy="300.8" r="0.7" fill="#1a8a1a"/><circle cx="117.9" cy="301.8" r="2.0" fill="#2ec82e"/><circle cx="117.9" cy="301.8" r="0.7" fill="#1a8a1a"/><circle cx="124.5" cy="303.3" r="2.0" fill="#2ec82e"/><circle cx="124.5" cy="303.3" r="0.7" fill="#1a8a1a"/><circle cx="131.1" cy="305.6" r="2.0" fill="#2ec82e"/><circle cx="131.1" cy="305.6" r="0.7" fill="#1a8a1a"/><circle cx="137.7" cy="307.7" r="1.6" fill="#9a6a1e"/><circle cx="137.7" cy="307.7" r="0.5" fill="#444"/><circle cx="144.3" cy="310" r="1.6" fill="#9a6a1e"/><circle cx="144.3" cy="310" r="0.5" fill="#444"/><circle cx="150.9" cy="312.4" r="1.6" fill="#9a6a1e"/><circle cx="150.9" cy="312.4" r="0.5" fill="#444"/><circle cx="157.5" cy="314.7" r="1.6" fill="#9a6a1e"/><circle cx="157.5" cy="314.7" r="0.5" fill="#444"/><circle cx="164.1" cy="316.9" r="1.6" fill="#9a6a1e"/><circle cx="164.1" cy="316.9" r="0.5" fill="#444"/><circle cx="170.7" cy="318.8" r="1.6" fill="#9a6a1e"/><circle cx="170.7" cy="318.8" r="0.5" fill="#444"/><circle cx="177.3" cy="320.7" r="1.95" fill="#b8222e"/><circle cx="177.3" cy="320.7" r="0.8" fill="#6a1020"/><circle cx="183.9" cy="322.9" r="1.95" fill="#b8222e"/><circle cx="183.9" cy="322.9" r="0.8" fill="#6a1020"/><circle cx="190.5" cy="325.1" r="1.95" fill="#b8222e"/><circle cx="190.5" cy="325.1" r="0.8" fill="#6a1020"/><circle cx="197.1" cy="326.8" r="1.95" fill="#b8222e"/><circle cx="197.1" cy="326.8" r="0.8" fill="#6a1020"/><circle cx="203.7" cy="328.3" r="1.95" fill="#b8222e"/><circle cx="203.7" cy="328.3" r="0.8" fill="#6a1020"/><circle cx="210.3" cy="329.8" r="1.95" fill="#b8222e"/><circle cx="210.3" cy="329.8" r="0.8" fill="#6a1020"/><circle cx="216.9" cy="330.8" r="1.95" fill="#b8222e"/><circle cx="216.9" cy="330.8" r="0.8" fill="#6a1020"/><circle cx="223.5" cy="331.6" r="1.95" fill="#b8222e"/><circle cx="223.5" cy="331.6" r="0.8" fill="#6a1020"/><circle cx="230.1" cy="332.5" r="1.95" fill="#b8222e"/><circle cx="230.1" cy="332.5" r="0.8" fill="#6a1020"/><circle cx="236.7" cy="333.4" r="1.95" fill="#b8222e"/><circle cx="236.7" cy="333.4" r="0.8" fill="#6a1020"/><circle cx="243.3" cy="334.3" r="1.95" fill="#b8222e"/><circle cx="243.3" cy="334.3" r="0.8" fill="#6a1020"/><circle cx="249.9" cy="335.1" r="1.95" fill="#b8222e"/><circle cx="249.9" cy="335.1" r="0.8" fill="#6a1020"/><circle cx="256.5" cy="335.8" r="1.95" fill="#b8222e"/><circle cx="256.5" cy="335.8" r="0.8" fill="#6a1020"/><circle cx="263.1" cy="336.5" r="1.95" fill="#b8222e"/><circle cx="263.1" cy="336.5" r="0.8" fill="#6a1020"/><circle cx="269.7" cy="337.1" r="1.95" fill="#b8222e"/><circle cx="269.7" cy="337.1" r="0.8" fill="#6a1020"/><circle cx="276.3" cy="337.6" r="1.95" fill="#b8222e"/><circle cx="276.3" cy="337.6" r="0.8" fill="#6a1020"/><circle cx="282.9" cy="338.1" r="1.95" fill="#b8222e"/><circle cx="282.9" cy="338.1" r="0.8" fill="#6a1020"/><circle cx="289.5" cy="338.6" r="1.95" fill="#b8222e"/><circle cx="289.5" cy="338.6" r="0.8" fill="#6a1020"/><circle cx="296.1" cy="339.2" r="1.95" fill="#b8222e"/><circle cx="296.1" cy="339.2" r="0.8" fill="#6a1020"/><circle cx="302.7" cy="339.7" r="1.95" fill="#b8222e"/><circle cx="302.7" cy="339.7" r="0.8" fill="#6a1020"/><circle cx="309.3" cy="340.2" r="1.95" fill="#b8222e"/><circle cx="309.3" cy="340.2" r="0.8" fill="#6a1020"/><circle cx="315.9" cy="340.6" r="1.95" fill="#b8222e"/><circle cx="315.9" cy="340.6" r="0.8" fill="#6a1020"/><circle cx="322.5" cy="340.9" r="1.95" fill="#b8222e"/><circle cx="322.5" cy="340.9" r="0.8" fill="#6a1020"/><circle cx="329.1" cy="341.2" r="1.95" fill="#b8222e"/><circle cx="329.1" cy="341.2" r="0.8" fill="#6a1020"/><circle cx="335.7" cy="341.4" r="1.95" fill="#b8222e"/><circle cx="335.7" cy="341.4" r="0.8" fill="#6a1020"/><circle cx="342.3" cy="341.6" r="1.95" fill="#b8222e"/><circle cx="342.3" cy="341.6" r="0.8" fill="#6a1020"/><path d="M78.3,312.2 L79.8,312.2 L81.3,312.3 L82.8,312.3 L84.3,312.4 L85.8,312.5 L87.3,312.6 L88.8,312.6 L90.3,312.7 L91.8,312.8 L93.3,312.9 L94.8,313 L96.3,313.2 L97.8,313.3 L99.3,313.4 L100.8,313.6 L102.3,313.8 L103.8,314 L105.3,314.2 L106.8,314.5 L108.3,314.8 L109.8,315.1 L111.3,315.4 L112.8,315.7 L114.3,315.9 L115.8,316.2 L117.3,316.5 L118.8,316.8 L120.3,317.1 L121.8,317.5 L123.3,317.8 L124.8,318.2 L126.3,318.5 L127.8,318.8 L129.3,319.1 L130.8,319.4 L132.3,319.8 L133.8,320.1 L135.3,320.5 L136.8,320.8 L138.3,321.1 L139.8,321.5 L141.3,321.9 L142.8,322.2 L144.3,322.5 L145.8,322.8 L147.3,323 L148.8,323.3 L150.3,323.5 L151.8,323.7 L153.3,323.9 L154.8,324.1 L156.3,324.3 L157.8,324.5 L159.3,324.7 L160.8,324.9 L162.3,325.1 L163.8,325.3 L165.3,325.4 L166.8,325.6 L168.3,325.8 L169.8,325.9 L171.3,326.1 L172.8,326.2 L174.3,326.3 L175.8,326.5 L177.3,326.6 L178.8,326.7 L180.3,326.9 L181.8,327 L183.3,327.1 L184.8,327.3 L186.3,327.4 L187.8,327.6 L189.3,327.7 L190.8,327.9 L192.3,328 L193.8,328.2 L195.3,328.4 L196.8,328.6 L198.3,328.8 L199.8,329.1 L201.3,329.4 L202.8,329.7 L204.3,330 L205.8,330.4 L207.3,330.7 L208.8,331 L210.3,331.2 L211.8,331.4 L213.3,331.6 L214.8,331.7 L216.3,331.9 L217.8,332.1 L219.3,332.2 L220.8,332.3 L222.3,332.5 L223.8,332.6 L225.3,332.8 L226.8,332.9 L228.3,333 L229.8,333.2 L231.3,333.3 L232.8,333.4 L234.3,333.6 L235.8,333.7 L237.3,333.9 L238.8,334 L240.3,334.2 L241.8,334.4 L243.3,334.5 L244.8,334.7 L246.3,334.9 L247.8,335.1 L249.3,335.2 L250.8,335.4 L252.3,335.6 L253.8,335.7 L255.3,335.9 L256.8,336.1 L258.3,336.2 L259.8,336.4 L261.3,336.5 L262.8,336.7 L264.3,336.8 L265.8,336.9 L267.3,337.1 L268.8,337.2 L270.3,337.3 L271.8,337.4 L273.3,337.6 L274.8,337.7 L276.3,337.8 L277.8,337.9 L279.3,338 L280.8,338.1 L282.3,338.3 L283.8,338.4 L285.3,338.5 L286.8,338.6 L288.3,338.7 L289.8,338.8 L291.3,338.9 L292.8,339.1 L294.3,339.2 L295.8,339.3 L297.3,339.5 L298.8,339.6 L300.3,339.7 L301.8,339.9 L303.3,340 L304.8,340.1 L306.3,340.2 L307.8,340.3 L309.3,340.4 L310.8,340.5 L312.3,340.6 L313.8,340.6 L315.3,340.7 L316.8,340.8 L318.3,340.9 L319.8,340.9 L321.3,341 L322.8,341.1 L324.3,341.1 L325.8,341.2 L327.3,341.2 L328.8,341.3 L330.3,341.3 L331.8,341.4 L333.3,341.4 L334.8,341.5 L336.3,341.5 L337.8,341.5 L339.3,341.6 L340.8,341.6 L342.3,341.6" fill="none" stroke="#525252" stroke-width="1.0"/><circle cx="78.3" cy="312.2" r="1.75" fill="#2ec82e"/><circle cx="78.3" cy="312.2" r="0.6" fill="#1a8a1a"/><circle cx="84.9" cy="312.4" r="1.75" fill="#2ec82e"/><circle cx="84.9" cy="312.4" r="0.6" fill="#1a8a1a"/><circle cx="91.5" cy="312.8" r="1.75" fill="#2ec82e"/><circle cx="91.5" cy="312.8" r="0.6" fill="#1a8a1a"/><circle cx="98.1" cy="313.3" r="1.75" fill="#2ec82e"/><circle cx="98.1" cy="313.3" r="0.6" fill="#1a8a1a"/><circle cx="104.7" cy="314.1" r="1.75" fill="#2ec82e"/><circle cx="104.7" cy="314.1" r="0.6" fill="#1a8a1a"/><circle cx="111.3" cy="315.4" r="1.6" fill="#9a6a1e"/><circle cx="111.3" cy="315.4" r="0.5" fill="#444"/><circle cx="117.9" cy="316.6" r="1.6" fill="#9a6a1e"/><circle cx="117.9" cy="316.6" r="0.5" fill="#444"/><circle cx="124.5" cy="318.1" r="1.6" fill="#9a6a1e"/><circle cx="124.5" cy="318.1" r="0.5" fill="#444"/><circle cx="131.1" cy="319.5" r="1.6" fill="#9a6a1e"/><circle cx="131.1" cy="319.5" r="0.5" fill="#444"/><circle cx="137.7" cy="321" r="1.95" fill="#b8222e"/><circle cx="137.7" cy="321" r="0.8" fill="#6a1020"/><circle cx="144.3" cy="322.5" r="1.95" fill="#b8222e"/><circle cx="144.3" cy="322.5" r="0.8" fill="#6a1020"/><circle cx="150.9" cy="323.6" r="1.95" fill="#b8222e"/><circle cx="150.9" cy="323.6" r="0.8" fill="#6a1020"/><circle cx="157.5" cy="324.5" r="1.95" fill="#b8222e"/><circle cx="157.5" cy="324.5" r="0.8" fill="#6a1020"/><circle cx="164.1" cy="325.3" r="1.95" fill="#b8222e"/><circle cx="164.1" cy="325.3" r="0.8" fill="#6a1020"/><circle cx="170.7" cy="326" r="1.95" fill="#b8222e"/><circle cx="170.7" cy="326" r="0.8" fill="#6a1020"/><circle cx="177.3" cy="326.6" r="1.95" fill="#b8222e"/><circle cx="177.3" cy="326.6" r="0.8" fill="#6a1020"/><circle cx="183.9" cy="327.2" r="1.95" fill="#b8222e"/><circle cx="183.9" cy="327.2" r="0.8" fill="#6a1020"/><circle cx="190.5" cy="327.8" r="1.95" fill="#b8222e"/><circle cx="190.5" cy="327.8" r="0.8" fill="#6a1020"/><circle cx="197.1" cy="328.6" r="1.95" fill="#b8222e"/><circle cx="197.1" cy="328.6" r="0.8" fill="#6a1020"/><circle cx="203.7" cy="329.9" r="1.95" fill="#b8222e"/><circle cx="203.7" cy="329.9" r="0.8" fill="#6a1020"/><circle cx="210.3" cy="331.2" r="1.95" fill="#b8222e"/><circle cx="210.3" cy="331.2" r="0.8" fill="#6a1020"/><circle cx="216.9" cy="332" r="1.95" fill="#b8222e"/><circle cx="216.9" cy="332" r="0.8" fill="#6a1020"/><circle cx="223.5" cy="332.6" r="1.95" fill="#b8222e"/><circle cx="223.5" cy="332.6" r="0.8" fill="#6a1020"/><circle cx="230.1" cy="333.2" r="1.95" fill="#b8222e"/><circle cx="230.1" cy="333.2" r="0.8" fill="#6a1020"/><circle cx="236.7" cy="333.8" r="1.95" fill="#b8222e"/><circle cx="236.7" cy="333.8" r="0.8" fill="#6a1020"/><circle cx="243.3" cy="334.5" r="1.95" fill="#b8222e"/><circle cx="243.3" cy="334.5" r="0.8" fill="#6a1020"/><circle cx="249.9" cy="335.3" r="1.95" fill="#b8222e"/><circle cx="249.9" cy="335.3" r="0.8" fill="#6a1020"/><circle cx="256.5" cy="336" r="1.95" fill="#b8222e"/><circle cx="256.5" cy="336" r="0.8" fill="#6a1020"/><circle cx="263.1" cy="336.7" r="1.95" fill="#b8222e"/><circle cx="263.1" cy="336.7" r="0.8" fill="#6a1020"/><circle cx="269.7" cy="337.3" r="1.95" fill="#b8222e"/><circle cx="269.7" cy="337.3" r="0.8" fill="#6a1020"/><circle cx="276.3" cy="337.8" r="1.95" fill="#b8222e"/><circle cx="276.3" cy="337.8" r="0.8" fill="#6a1020"/><circle cx="282.9" cy="338.3" r="1.95" fill="#b8222e"/><circle cx="282.9" cy="338.3" r="0.8" fill="#6a1020"/><circle cx="289.5" cy="338.8" r="1.95" fill="#b8222e"/><circle cx="289.5" cy="338.8" r="0.8" fill="#6a1020"/><circle cx="296.1" cy="339.4" r="1.95" fill="#b8222e"/><circle cx="296.1" cy="339.4" r="0.8" fill="#6a1020"/><circle cx="302.7" cy="339.9" r="1.95" fill="#b8222e"/><circle cx="302.7" cy="339.9" r="0.8" fill="#6a1020"/><circle cx="309.3" cy="340.4" r="1.95" fill="#b8222e"/><circle cx="309.3" cy="340.4" r="0.8" fill="#6a1020"/><circle cx="315.9" cy="340.7" r="1.95" fill="#b8222e"/><circle cx="315.9" cy="340.7" r="0.8" fill="#6a1020"/><circle cx="322.5" cy="341" r="1.95" fill="#b8222e"/><circle cx="322.5" cy="341" r="0.8" fill="#6a1020"/><circle cx="329.1" cy="341.3" r="1.95" fill="#b8222e"/><circle cx="329.1" cy="341.3" r="0.8" fill="#6a1020"/><circle cx="335.7" cy="341.5" r="1.95" fill="#b8222e"/><circle cx="335.7" cy="341.5" r="0.8" fill="#6a1020"/><circle cx="342.3" cy="341.6" r="1.95" fill="#b8222e"/><circle cx="342.3" cy="341.6" r="0.8" fill="#6a1020"/><path d="M78.3,330.2 L79.8,330.2 L81.3,330.2 L82.8,330.2 L84.3,330.2 L85.8,330.2 L87.3,330.2 L88.8,330.2 L90.3,330.3 L91.8,330.3 L93.3,330.3 L94.8,330.3 L96.3,330.3 L97.8,330.3 L99.3,330.4 L100.8,330.4 L102.3,330.4 L103.8,330.4 L105.3,330.5 L106.8,330.5 L108.3,330.5 L109.8,330.6 L111.3,330.6 L112.8,330.7 L114.3,330.7 L115.8,330.7 L117.3,330.8 L118.8,330.8 L120.3,330.9 L121.8,331.1 L123.3,331.2 L124.8,331.4 L126.3,331.6 L127.8,331.8 L129.3,332 L130.8,332.3 L132.3,332.5 L133.8,332.7 L135.3,332.9 L136.8,333.1 L138.3,333.4 L139.8,333.6 L141.3,333.9 L142.8,334.2 L144.3,334.5 L145.8,334.8 L147.3,335.2 L148.8,335.5 L150.3,335.9 L151.8,336.4 L153.3,336.8 L154.8,337.2 L156.3,337.6 L157.8,338.1 L159.3,338.5 L160.8,339 L162.3,339.5 L163.8,340 L165.3,340.5 L166.8,341 L168.3,341.5 L169.8,342 L171.3,342.5 L172.8,343 L174.3,343.5 L175.8,344 L177.3,344.6 L178.8,345.1 L180.3,345.6 L181.8,346.2 L183.3,346.8 L184.8,347.4 L186.3,348 L187.8,348.6 L189.3,349.3 L190.8,350 L192.3,350.7 L193.8,351.4 L195.3,352 L196.8,352.7 L198.3,353.3 L199.8,353.9 L201.3,354.6 L202.8,355.2 L204.3,355.8 L205.8,356.4 L207.3,357 L208.8,357.6 L210.3,358.2 L211.8,358.8 L213.3,359.4 L214.8,360 L216.3,360.6 L217.8,361.1 L219.3,361.7 L220.8,362.3 L222.3,362.9 L223.8,363.4 L225.3,364 L226.8,364.6 L228.3,365.2 L229.8,365.7 L231.3,366.3 L232.8,366.9 L234.3,367.5 L235.8,368 L237.3,368.6 L238.8,369.2 L240.3,369.8 L241.8,370.4 L243.3,371 L244.8,371.6 L246.3,372.2 L247.8,372.8 L249.3,373.5 L250.8,374.1 L252.3,374.7 L253.8,375.3 L255.3,375.9 L256.8,376.5 L258.3,377.1 L259.8,377.6 L261.3,378.2 L262.8,378.8 L264.3,379.3 L265.8,379.9 L267.3,380.4 L268.8,381 L270.3,381.5 L271.8,382 L273.3,382.6 L274.8,383.1 L276.3,383.7 L277.8,384.3 L279.3,384.9 L280.8,385.5 L282.3,386.1 L283.8,386.7 L285.3,387.3 L286.8,387.9 L288.3,388.5 L289.8,389.1 L291.3,389.7 L292.8,390.3 L294.3,390.9 L295.8,391.5 L297.3,392 L298.8,392.6 L300.3,393.1 L301.8,393.7 L303.3,394.2 L304.8,394.9 L306.3,395.7 L307.8,396.3 L309.3,396.9 L310.8,397.3 L312.3,397.7 L313.8,398 L315.3,398.4 L316.8,398.7 L318.3,399.2 L319.8,399.6 L321.3,400 L322.8,400.4 L324.3,400.7 L325.8,400.9 L327.3,401.2 L328.8,401.4 L330.3,401.5 L331.8,401.7 L333.3,401.8 L334.8,401.9 L336.3,401.9 L337.8,402 L339.3,402 L340.8,402.1 L342.3,402.1" fill="none" stroke="#525252" stroke-width="1.0"/><circle cx="78.3" cy="330.2" r="1.35" fill="#2ab82a"/><circle cx="84.9" cy="330.2" r="1.35" fill="#2ab82a"/><circle cx="91.5" cy="330.3" r="1.35" fill="#2ab82a"/><circle cx="98.1" cy="330.3" r="1.35" fill="#2ab82a"/><circle cx="104.7" cy="330.5" r="1.35" fill="#2ab82a"/><circle cx="111.3" cy="330.6" r="1.35" fill="#2ab82a"/><circle cx="117.9" cy="330.8" r="1.35" fill="#2ab82a"/><circle cx="124.5" cy="331.4" r="1.35" fill="#2ab82a"/><circle cx="131.1" cy="332.3" r="1.35" fill="#2ab82a"/><circle cx="137.7" cy="333.3" r="1.35" fill="#2ab82a"/><circle cx="144.3" cy="334.5" r="1.35" fill="#2ab82a"/><circle cx="150.9" cy="336.1" r="1.35" fill="#2ab82a"/><circle cx="157.5" cy="338" r="1.35" fill="#2ab82a"/><circle cx="164.1" cy="340.1" r="1.35" fill="#2ab82a"/><circle cx="170.7" cy="342.3" r="1.35" fill="#2ab82a"/><circle cx="177.3" cy="344.6" r="1.35" fill="#2ab82a"/><circle cx="183.9" cy="347" r="1.35" fill="#2ab82a"/><circle cx="190.5" cy="349.8" r="1.35" fill="#2ab82a"/><circle cx="197.1" cy="352.8" r="1.35" fill="#2ab82a"/><circle cx="203.7" cy="355.5" r="1.75" fill="#2ec82e"/><circle cx="203.7" cy="355.5" r="0.6" fill="#1a8a1a"/><circle cx="210.3" cy="358.2" r="1.75" fill="#2ec82e"/><circle cx="210.3" cy="358.2" r="0.6" fill="#1a8a1a"/><circle cx="216.9" cy="360.8" r="1.75" fill="#2ec82e"/><circle cx="216.9" cy="360.8" r="0.6" fill="#1a8a1a"/><circle cx="223.5" cy="363.3" r="1.75" fill="#2ec82e"/><circle cx="223.5" cy="363.3" r="0.6" fill="#1a8a1a"/><circle cx="230.1" cy="365.8" r="1.75" fill="#2ec82e"/><circle cx="230.1" cy="365.8" r="0.6" fill="#1a8a1a"/><circle cx="236.7" cy="368.4" r="1.75" fill="#2ec82e"/><circle cx="236.7" cy="368.4" r="0.6" fill="#1a8a1a"/><circle cx="243.3" cy="371" r="1.75" fill="#2ec82e"/><circle cx="243.3" cy="371" r="0.6" fill="#1a8a1a"/><circle cx="249.9" cy="373.7" r="1.75" fill="#2ec82e"/><circle cx="249.9" cy="373.7" r="0.6" fill="#1a8a1a"/><circle cx="256.5" cy="376.3" r="1.75" fill="#2ec82e"/><circle cx="256.5" cy="376.3" r="0.6" fill="#1a8a1a"/><circle cx="263.1" cy="378.9" r="1.75" fill="#2ec82e"/><circle cx="263.1" cy="378.9" r="0.6" fill="#1a8a1a"/><circle cx="269.7" cy="381.3" r="1.75" fill="#2ec82e"/><circle cx="269.7" cy="381.3" r="0.6" fill="#1a8a1a"/><circle cx="276.3" cy="383.7" r="1.75" fill="#2ec82e"/><circle cx="276.3" cy="383.7" r="0.6" fill="#1a8a1a"/><circle cx="282.9" cy="386.3" r="1.75" fill="#2ec82e"/><circle cx="282.9" cy="386.3" r="0.6" fill="#1a8a1a"/><circle cx="289.5" cy="389" r="1.75" fill="#2ec82e"/><circle cx="289.5" cy="389" r="0.6" fill="#1a8a1a"/><circle cx="296.1" cy="391.6" r="1.75" fill="#2ec82e"/><circle cx="296.1" cy="391.6" r="0.6" fill="#1a8a1a"/><circle cx="302.7" cy="394" r="1.75" fill="#2ec82e"/><circle cx="302.7" cy="394" r="0.6" fill="#1a8a1a"/><circle cx="309.3" cy="396.9" r="1.75" fill="#2ec82e"/><circle cx="309.3" cy="396.9" r="0.6" fill="#1a8a1a"/><circle cx="315.9" cy="398.5" r="1.75" fill="#2ec82e"/><circle cx="315.9" cy="398.5" r="0.6" fill="#1a8a1a"/><circle cx="322.5" cy="400.3" r="1.75" fill="#2ec82e"/><circle cx="322.5" cy="400.3" r="0.6" fill="#1a8a1a"/><circle cx="329.1" cy="401.4" r="1.75" fill="#2ec82e"/><circle cx="329.1" cy="401.4" r="0.6" fill="#1a8a1a"/><circle cx="335.7" cy="401.9" r="1.75" fill="#2ec82e"/><circle cx="335.7" cy="401.9" r="0.6" fill="#1a8a1a"/><circle cx="342.3" cy="402.1" r="1.75" fill="#2ec82e"/><circle cx="342.3" cy="402.1" r="0.6" fill="#1a8a1a"/><path d="M78.3,338.9 L79.8,338.9 L81.3,338.9 L82.8,338.9 L84.3,338.9 L85.8,338.9 L87.3,339 L88.8,339 L90.3,339 L91.8,339.1 L93.3,339.1 L94.8,339.1 L96.3,339.2 L97.8,339.2 L99.3,339.3 L100.8,339.3 L102.3,339.4 L103.8,339.4 L105.3,339.5 L106.8,339.5 L108.3,339.6 L109.8,339.7 L111.3,339.7 L112.8,339.8 L114.3,339.9 L115.8,339.9 L117.3,340 L118.8,340.1 L120.3,340.2 L121.8,340.3 L123.3,340.3 L124.8,340.4 L126.3,340.5 L127.8,340.6 L129.3,340.8 L130.8,341 L132.3,341.1 L133.8,341.3 L135.3,341.5 L136.8,341.8 L138.3,342 L139.8,342.2 L141.3,342.4 L142.8,342.7 L144.3,342.9 L145.8,343.1 L147.3,343.4 L148.8,343.6 L150.3,343.9 L151.8,344.1 L153.3,344.4 L154.8,344.7 L156.3,345 L157.8,345.3 L159.3,345.6 L160.8,345.9 L162.3,346.2 L163.8,346.5 L165.3,346.8 L166.8,347.1 L168.3,347.5 L169.8,347.8 L171.3,348.1 L172.8,348.4 L174.3,348.8 L175.8,349.1 L177.3,349.4 L178.8,349.7 L180.3,350.1 L181.8,350.4 L183.3,350.8 L184.8,351.1 L186.3,351.5 L187.8,351.9 L189.3,352.3 L190.8,352.7 L192.3,353.2 L193.8,353.6 L195.3,354 L196.8,354.5 L198.3,355 L199.8,355.5 L201.3,356 L202.8,356.5 L204.3,357 L205.8,357.6 L207.3,358.1 L208.8,358.6 L210.3,359.2 L211.8,359.8 L213.3,360.3 L214.8,360.9 L216.3,361.5 L217.8,362 L219.3,362.6 L220.8,363.2 L222.3,363.8 L223.8,364.4 L225.3,365 L226.8,365.6 L228.3,366.2 L229.8,366.8 L231.3,367.4 L232.8,368 L234.3,368.6 L235.8,369.2 L237.3,369.8 L238.8,370.5 L240.3,371.1 L241.8,371.7 L243.3,372.4 L244.8,373 L246.3,373.6 L247.8,374.3 L249.3,374.9 L250.8,375.6 L252.3,376.2 L253.8,376.8 L255.3,377.5 L256.8,378.1 L258.3,378.7 L259.8,379.3 L261.3,379.8 L262.8,380.4 L264.3,380.9 L265.8,381.4 L267.3,381.9 L268.8,382.4 L270.3,382.8 L271.8,383.3 L273.3,383.8 L274.8,384.3 L276.3,384.8 L277.8,385.3 L279.3,385.9 L280.8,386.5 L282.3,387.1 L283.8,387.7 L285.3,388.3 L286.8,388.9 L288.3,389.5 L289.8,390.1 L291.3,390.7 L292.8,391.2 L294.3,391.8 L295.8,392.4 L297.3,392.9 L298.8,393.5 L300.3,394 L301.8,394.5 L303.3,395 L304.8,395.5 L306.3,396 L307.8,396.5 L309.3,396.9 L310.8,397.4 L312.3,397.8 L313.8,398.3 L315.3,398.6 L316.8,399 L318.3,399.4 L319.8,399.8 L321.3,400.2 L322.8,400.5 L324.3,400.9 L325.8,401.2 L327.3,401.4 L328.8,401.6 L330.3,401.7 L331.8,401.8 L333.3,401.9 L334.8,402 L336.3,402.1 L337.8,402.2 L339.3,402.3 L340.8,402.3 L342.3,402.3" fill="none" stroke="#525252" stroke-width="1.0"/><circle cx="78.3" cy="338.9" r="1.35" fill="#2ab82a"/><circle cx="84.9" cy="338.9" r="1.35" fill="#2ab82a"/><circle cx="91.5" cy="339" r="1.35" fill="#2ab82a"/><circle cx="98.1" cy="339.2" r="1.35" fill="#2ab82a"/><circle cx="104.7" cy="339.4" r="1.35" fill="#2ab82a"/><circle cx="111.3" cy="339.7" r="1.35" fill="#2ab82a"/><circle cx="117.9" cy="340" r="1.35" fill="#2ab82a"/><circle cx="124.5" cy="340.4" r="1.35" fill="#2ab82a"/><circle cx="131.1" cy="341" r="1.35" fill="#2ab82a"/><circle cx="137.7" cy="341.9" r="1.35" fill="#2ab82a"/><circle cx="144.3" cy="342.9" r="1.35" fill="#2ab82a"/><circle cx="150.9" cy="344" r="1.35" fill="#2ab82a"/><circle cx="157.5" cy="345.2" r="1.35" fill="#2ab82a"/><circle cx="164.1" cy="346.6" r="1.35" fill="#2ab82a"/><circle cx="170.7" cy="348" r="1.35" fill="#2ab82a"/><circle cx="177.3" cy="349.4" r="1.35" fill="#2ab82a"/><circle cx="183.9" cy="350.9" r="1.35" fill="#2ab82a"/><circle cx="190.5" cy="352.6" r="1.35" fill="#2ab82a"/><circle cx="197.1" cy="354.6" r="1.35" fill="#2ab82a"/><circle cx="203.7" cy="356.8" r="1.75" fill="#2ec82e"/><circle cx="203.7" cy="356.8" r="0.6" fill="#1a8a1a"/><circle cx="210.3" cy="359.2" r="1.75" fill="#2ec82e"/><circle cx="210.3" cy="359.2" r="0.6" fill="#1a8a1a"/><circle cx="216.9" cy="361.7" r="1.75" fill="#2ec82e"/><circle cx="216.9" cy="361.7" r="0.6" fill="#1a8a1a"/><circle cx="223.5" cy="364.3" r="1.75" fill="#2ec82e"/><circle cx="223.5" cy="364.3" r="0.6" fill="#1a8a1a"/><circle cx="230.1" cy="366.9" r="1.75" fill="#2ec82e"/><circle cx="230.1" cy="366.9" r="0.6" fill="#1a8a1a"/><circle cx="236.7" cy="369.6" r="1.75" fill="#2ec82e"/><circle cx="236.7" cy="369.6" r="0.6" fill="#1a8a1a"/><circle cx="243.3" cy="372.4" r="1.75" fill="#2ec82e"/><circle cx="243.3" cy="372.4" r="0.6" fill="#1a8a1a"/><circle cx="249.9" cy="375.2" r="1.75" fill="#2ec82e"/><circle cx="249.9" cy="375.2" r="0.6" fill="#1a8a1a"/><circle cx="256.5" cy="378" r="1.75" fill="#2ec82e"/><circle cx="256.5" cy="378" r="0.6" fill="#1a8a1a"/><circle cx="263.1" cy="380.5" r="1.75" fill="#2ec82e"/><circle cx="263.1" cy="380.5" r="0.6" fill="#1a8a1a"/><circle cx="269.7" cy="382.7" r="1.75" fill="#2ec82e"/><circle cx="269.7" cy="382.7" r="0.6" fill="#1a8a1a"/><circle cx="276.3" cy="384.8" r="1.75" fill="#2ec82e"/><circle cx="276.3" cy="384.8" r="0.6" fill="#1a8a1a"/><circle cx="282.9" cy="387.4" r="1.75" fill="#2ec82e"/><circle cx="282.9" cy="387.4" r="0.6" fill="#1a8a1a"/><circle cx="289.5" cy="390" r="1.75" fill="#2ec82e"/><circle cx="289.5" cy="390" r="0.6" fill="#1a8a1a"/><circle cx="296.1" cy="392.5" r="1.75" fill="#2ec82e"/><circle cx="296.1" cy="392.5" r="0.6" fill="#1a8a1a"/><circle cx="302.7" cy="394.8" r="1.75" fill="#2ec82e"/><circle cx="302.7" cy="394.8" r="0.6" fill="#1a8a1a"/><circle cx="309.3" cy="396.9" r="1.75" fill="#2ec82e"/><circle cx="309.3" cy="396.9" r="0.6" fill="#1a8a1a"/><circle cx="315.9" cy="398.8" r="1.75" fill="#2ec82e"/><circle cx="315.9" cy="398.8" r="0.6" fill="#1a8a1a"/><circle cx="322.5" cy="400.5" r="1.75" fill="#2ec82e"/><circle cx="322.5" cy="400.5" r="0.6" fill="#1a8a1a"/><circle cx="329.1" cy="401.6" r="1.75" fill="#2ec82e"/><circle cx="329.1" cy="401.6" r="0.6" fill="#1a8a1a"/><circle cx="335.7" cy="402.1" r="1.75" fill="#2ec82e"/><circle cx="335.7" cy="402.1" r="0.6" fill="#1a8a1a"/><circle cx="342.3" cy="402.3" r="1.75" fill="#2ec82e"/><circle cx="342.3" cy="402.3" r="0.6" fill="#1a8a1a"/><path d="M78.3,362.2 L79.8,362.2 L81.3,362.2 L82.8,362.2 L84.3,362.3 L85.8,362.3 L87.3,362.4 L88.8,362.4 L90.3,362.5 L91.8,362.5 L93.3,362.6 L94.8,362.7 L96.3,362.8 L97.8,362.8 L99.3,362.9 L100.8,363 L102.3,363.1 L103.8,363.2 L105.3,363.3 L106.8,363.4 L108.3,363.5 L109.8,363.7 L111.3,363.8 L112.8,364 L114.3,364.2 L115.8,364.3 L117.3,364.5 L118.8,364.7 L120.3,364.9 L121.8,365.2 L123.3,365.4 L124.8,365.6 L126.3,365.8 L127.8,366.1 L129.3,366.3 L130.8,366.5 L132.3,366.8 L133.8,367 L135.3,367.3 L136.8,367.6 L138.3,367.8 L139.8,368.1 L141.3,368.4 L142.8,368.7 L144.3,369.1 L145.8,369.4 L147.3,369.7 L148.8,370.1 L150.3,370.4 L151.8,370.8 L153.3,371.1 L154.8,371.5 L156.3,371.9 L157.8,372.3 L159.3,372.7 L160.8,373.1 L162.3,373.6 L163.8,374 L165.3,374.5 L166.8,375 L168.3,375.4 L169.8,375.9 L171.3,376.4 L172.8,376.9 L174.3,377.3 L175.8,377.8 L177.3,378.3 L178.8,378.8 L180.3,379.3 L181.8,379.8 L183.3,380.3 L184.8,380.8 L186.3,381.3 L187.8,381.8 L189.3,382.3 L190.8,382.8 L192.3,383.4 L193.8,383.9 L195.3,384.5 L196.8,385.1 L198.3,385.7 L199.8,386.4 L201.3,387 L202.8,387.8 L204.3,388.5 L205.8,389.2 L207.3,390 L208.8,390.7 L210.3,391.4 L211.8,392.1 L213.3,392.8 L214.8,393.5 L216.3,394.2 L217.8,394.9 L219.3,395.6 L220.8,396.3 L222.3,397 L223.8,397.7 L225.3,398.4 L226.8,399 L228.3,399.7 L229.8,400.4 L231.3,401.1 L232.8,401.8 L234.3,402.4 L235.8,403.1 L237.3,403.8 L238.8,404.4 L240.3,405.1 L241.8,405.7 L243.3,406.4 L244.8,407 L246.3,407.7 L247.8,408.4 L249.3,409 L250.8,409.7 L252.3,410.3 L253.8,411 L255.3,411.7 L256.8,412.4 L258.3,413 L259.8,413.7 L261.3,414.4 L262.8,415.1 L264.3,415.8 L265.8,416.5 L267.3,417.3 L268.8,418 L270.3,418.7 L271.8,419.5 L273.3,420.2 L274.8,421 L276.3,421.8 L277.8,422.5 L279.3,423.3 L280.8,424.1 L282.3,424.8 L283.8,425.6 L285.3,426.4 L286.8,427.1 L288.3,427.9 L289.8,428.6 L291.3,429.3 L292.8,430.1 L294.3,430.8 L295.8,431.5 L297.3,432.3 L298.8,433 L300.3,433.8 L301.8,434.6 L303.3,435.3 L304.8,436.1 L306.3,436.8 L307.8,437.4 L309.3,438.1 L310.8,438.7 L312.3,439.2 L313.8,439.7 L315.3,440.1 L316.8,440.5 L318.3,440.9 L319.8,441.3 L321.3,441.6 L322.8,442 L324.3,442.3 L325.8,442.6 L327.3,442.8 L328.8,443 L330.3,443.2 L331.8,443.4 L333.3,443.6 L334.8,443.8 L336.3,443.9 L337.8,444 L339.3,444.1 L340.8,444.2 L342.3,444.3" fill="none" stroke="#525252" stroke-width="1.0"/><circle cx="78.3" cy="362.2" r="0.8" fill="#444"/><circle cx="84.9" cy="362.3" r="0.8" fill="#444"/><circle cx="91.5" cy="362.5" r="0.8" fill="#444"/><circle cx="98.1" cy="362.9" r="0.8" fill="#444"/><circle cx="104.7" cy="363.2" r="0.8" fill="#444"/><circle cx="111.3" cy="363.8" r="0.8" fill="#444"/><circle cx="117.9" cy="364.6" r="0.8" fill="#444"/><circle cx="124.5" cy="365.6" r="0.8" fill="#444"/><circle cx="131.1" cy="366.6" r="0.8" fill="#444"/><circle cx="137.7" cy="367.7" r="0.8" fill="#444"/><circle cx="144.3" cy="369.1" r="0.8" fill="#444"/><circle cx="150.9" cy="370.5" r="0.8" fill="#444"/><circle cx="157.5" cy="372.2" r="0.8" fill="#444"/><circle cx="164.1" cy="374.1" r="0.8" fill="#444"/><circle cx="170.7" cy="376.2" r="0.8" fill="#444"/><circle cx="177.3" cy="378.3" r="0.8" fill="#444"/><circle cx="183.9" cy="380.5" r="0.8" fill="#444"/><circle cx="190.5" cy="382.7" r="0.8" fill="#444"/><circle cx="197.1" cy="385.2" r="0.8" fill="#444"/><circle cx="203.7" cy="388.2" r="0.8" fill="#444"/><circle cx="210.3" cy="391.4" r="0.8" fill="#444"/><circle cx="216.9" cy="394.5" r="0.8" fill="#444"/><circle cx="223.5" cy="397.5" r="0.8" fill="#444"/><circle cx="230.1" cy="400.5" r="0.8" fill="#444"/><circle cx="236.7" cy="403.5" r="0.8" fill="#444"/><circle cx="243.3" cy="406.4" r="0.8" fill="#444"/><circle cx="249.9" cy="409.3" r="0.8" fill="#444"/><circle cx="256.5" cy="412.2" r="0.8" fill="#444"/><circle cx="263.1" cy="415.3" r="0.8" fill="#444"/><circle cx="269.7" cy="418.4" r="0.8" fill="#444"/><circle cx="276.3" cy="421.8" r="0.8" fill="#444"/><circle cx="282.9" cy="425.1" r="0.8" fill="#444"/><circle cx="289.5" cy="428.5" r="0.8" fill="#444"/><circle cx="296.1" cy="431.7" r="0.8" fill="#444"/><circle cx="302.7" cy="435" r="0.8" fill="#444"/><circle cx="309.3" cy="438.1" r="0.8" fill="#444"/><circle cx="315.9" cy="440.3" r="0.8" fill="#444"/><circle cx="322.5" cy="441.9" r="0.8" fill="#444"/><circle cx="329.1" cy="443.1" r="0.8" fill="#444"/><circle cx="335.7" cy="443.8" r="0.8" fill="#444"/><circle cx="342.3" cy="444.3" r="0.8" fill="#444"/><path d="M78.3,380.2 L79.8,380.2 L81.3,380.3 L82.8,380.3 L84.3,380.4 L85.8,380.4 L87.3,380.5 L88.8,380.6 L90.3,380.6 L91.8,380.7 L93.3,380.8 L94.8,380.9 L96.3,381 L97.8,381.1 L99.3,381.2 L100.8,381.3 L102.3,381.4 L103.8,381.5 L105.3,381.6 L106.8,381.7 L108.3,381.9 L109.8,382 L111.3,382.1 L112.8,382.3 L114.3,382.5 L115.8,382.7 L117.3,382.8 L118.8,383 L120.3,383.2 L121.8,383.4 L123.3,383.6 L124.8,383.8 L126.3,384.1 L127.8,384.3 L129.3,384.5 L130.8,384.7 L132.3,384.9 L133.8,385.2 L135.3,385.4 L136.8,385.7 L138.3,385.9 L139.8,386.2 L141.3,386.5 L142.8,386.8 L144.3,387.1 L145.8,387.4 L147.3,387.7 L148.8,388 L150.3,388.3 L151.8,388.7 L153.3,389 L154.8,389.4 L156.3,389.8 L157.8,390.2 L159.3,390.6 L160.8,391.1 L162.3,391.5 L163.8,392 L165.3,392.4 L166.8,392.9 L168.3,393.4 L169.8,393.9 L171.3,394.4 L172.8,394.9 L174.3,395.4 L175.8,395.8 L177.3,396.3 L178.8,396.8 L180.3,397.3 L181.8,397.8 L183.3,398.2 L184.8,398.7 L186.3,399.2 L187.8,399.7 L189.3,400.2 L190.8,400.7 L192.3,401.2 L193.8,401.7 L195.3,402.2 L196.8,402.7 L198.3,403.2 L199.8,403.7 L201.3,404.2 L202.8,404.8 L204.3,405.3 L205.8,405.8 L207.3,406.3 L208.8,406.8 L210.3,407.3 L211.8,407.8 L213.3,408.3 L214.8,408.8 L216.3,409.3 L217.8,409.8 L219.3,410.3 L220.8,410.8 L222.3,411.3 L223.8,411.8 L225.3,412.3 L226.8,412.8 L228.3,413.3 L229.8,413.8 L231.3,414.3 L232.8,414.8 L234.3,415.2 L235.8,415.7 L237.3,416.2 L238.8,416.7 L240.3,417.2 L241.8,417.7 L243.3,418.2 L244.8,418.6 L246.3,419.1 L247.8,419.6 L249.3,420.1 L250.8,420.6 L252.3,421.1 L253.8,421.5 L255.3,422 L256.8,422.5 L258.3,423 L259.8,423.4 L261.3,423.9 L262.8,424.4 L264.3,424.8 L265.8,425.2 L267.3,425.7 L268.8,426.1 L270.3,426.5 L271.8,426.9 L273.3,427.3 L274.8,427.7 L276.3,428.1 L277.8,428.5 L279.3,429 L280.8,429.4 L282.3,429.8 L283.8,430.3 L285.3,430.8 L286.8,431.3 L288.3,431.8 L289.8,432.3 L291.3,432.8 L292.8,433.4 L294.3,433.9 L295.8,434.5 L297.3,435.1 L298.8,435.6 L300.3,436.2 L301.8,436.7 L303.3,437.3 L304.8,437.8 L306.3,438.3 L307.8,438.8 L309.3,439.3 L310.8,439.8 L312.3,440.3 L313.8,440.7 L315.3,441.1 L316.8,441.5 L318.3,441.9 L319.8,442.3 L321.3,442.7 L322.8,443.1 L324.3,443.4 L325.8,443.8 L327.3,444.1 L328.8,444.3 L330.3,444.5 L331.8,444.8 L333.3,445 L334.8,445.1 L336.3,445.3 L337.8,445.5 L339.3,445.6 L340.8,445.7 L342.3,445.8" fill="none" stroke="#525252" stroke-width="1.0"/><circle cx="78.3" cy="380.2" r="0.9" fill="#2a9a2a"/><circle cx="84.9" cy="380.4" r="0.9" fill="#2a9a2a"/><circle cx="91.5" cy="380.7" r="0.9" fill="#2a9a2a"/><circle cx="98.1" cy="381.1" r="0.9" fill="#2a9a2a"/><circle cx="104.7" cy="381.6" r="0.9" fill="#2a9a2a"/><circle cx="111.3" cy="382.1" r="0.9" fill="#2a9a2a"/><circle cx="117.9" cy="382.9" r="0.9" fill="#2a9a2a"/><circle cx="124.5" cy="383.8" r="0.9" fill="#2a9a2a"/><circle cx="131.1" cy="384.8" r="0.9" fill="#2a9a2a"/><circle cx="137.7" cy="385.8" r="0.9" fill="#2a9a2a"/><circle cx="144.3" cy="387.1" r="0.9" fill="#2a9a2a"/><circle cx="150.9" cy="388.5" r="0.9" fill="#2a9a2a"/><circle cx="157.5" cy="390.1" r="0.9" fill="#2a9a2a"/><circle cx="164.1" cy="392.1" r="0.9" fill="#2a9a2a"/><circle cx="170.7" cy="394.2" r="0.9" fill="#2a9a2a"/><circle cx="177.3" cy="396.3" r="0.9" fill="#2a9a2a"/><circle cx="183.9" cy="398.4" r="0.9" fill="#2a9a2a"/><circle cx="190.5" cy="400.6" r="0.9" fill="#2a9a2a"/><circle cx="197.1" cy="402.8" r="0.9" fill="#2a9a2a"/><circle cx="203.7" cy="405.1" r="0.9" fill="#2a9a2a"/><circle cx="210.3" cy="407.3" r="0.9" fill="#2a9a2a"/><circle cx="216.9" cy="409.5" r="0.9" fill="#2a9a2a"/><circle cx="223.5" cy="411.7" r="0.9" fill="#2a9a2a"/><circle cx="230.1" cy="413.9" r="0.9" fill="#2a9a2a"/><circle cx="236.7" cy="416" r="0.9" fill="#2a9a2a"/><circle cx="243.3" cy="418.2" r="0.9" fill="#2a9a2a"/><circle cx="249.9" cy="420.3" r="0.9" fill="#2a9a2a"/><circle cx="256.5" cy="422.4" r="0.9" fill="#2a9a2a"/><circle cx="263.1" cy="424.4" r="0.9" fill="#2a9a2a"/><circle cx="269.7" cy="426.3" r="0.9" fill="#2a9a2a"/><circle cx="276.3" cy="428.1" r="0.9" fill="#2a9a2a"/><circle cx="282.9" cy="430" r="0.9" fill="#2a9a2a"/><circle cx="289.5" cy="432.2" r="0.9" fill="#2a9a2a"/><circle cx="296.1" cy="434.6" r="0.9" fill="#2a9a2a"/><circle cx="302.7" cy="437" r="0.9" fill="#2a9a2a"/><circle cx="309.3" cy="439.3" r="0.9" fill="#2a9a2a"/><circle cx="315.9" cy="441.3" r="0.9" fill="#2a9a2a"/><circle cx="322.5" cy="443" r="0.9" fill="#2a9a2a"/><circle cx="329.1" cy="444.4" r="0.9" fill="#2a9a2a"/><circle cx="335.7" cy="445.2" r="0.9" fill="#2a9a2a"/><circle cx="342.3" cy="445.8" r="0.9" fill="#2a9a2a"/><path d="M78.3,399.6 L79.8,399.6 L81.3,399.6 L82.8,399.6 L84.3,399.7 L85.8,399.7 L87.3,399.7 L88.8,399.8 L90.3,399.8 L91.8,399.9 L93.3,400 L94.8,400 L96.3,400.1 L97.8,400.2 L99.3,400.2 L100.8,400.3 L102.3,400.4 L103.8,400.5 L105.3,400.6 L106.8,400.7 L108.3,400.8 L109.8,400.9 L111.3,401.1 L112.8,401.2 L114.3,401.4 L115.8,401.6 L117.3,401.8 L118.8,402 L120.3,402.3 L121.8,402.6 L123.3,402.9 L124.8,403.3 L126.3,403.6 L127.8,404 L129.3,404.3 L130.8,404.7 L132.3,405 L133.8,405.3 L135.3,405.7 L136.8,406 L138.3,406.3 L139.8,406.7 L141.3,407 L142.8,407.4 L144.3,407.8 L145.8,408.2 L147.3,408.7 L148.8,409.2 L150.3,409.8 L151.8,410.4 L153.3,411 L154.8,411.6 L156.3,412.2 L157.8,412.7 L159.3,413.3 L160.8,413.8 L162.3,414.3 L163.8,414.8 L165.3,415.3 L166.8,415.8 L168.3,416.3 L169.8,416.7 L171.3,417.2 L172.8,417.7 L174.3,418.2 L175.8,418.7 L177.3,419.2 L178.8,419.8 L180.3,420.3 L181.8,420.8 L183.3,421.4 L184.8,421.9 L186.3,422.5 L187.8,423 L189.3,423.6 L190.8,424.1 L192.3,424.7 L193.8,425.2 L195.3,425.8 L196.8,426.3 L198.3,426.8 L199.8,427.4 L201.3,427.9 L202.8,428.4 L204.3,429 L205.8,429.5 L207.3,430 L208.8,430.5 L210.3,431 L211.8,431.4 L213.3,431.9 L214.8,432.4 L216.3,432.9 L217.8,433.4 L219.3,433.8 L220.8,434.3 L222.3,434.8 L223.8,435.2 L225.3,435.7 L226.8,436.1 L228.3,436.6 L229.8,437 L231.3,437.5 L232.8,437.9 L234.3,438.4 L235.8,438.8 L237.3,439.3 L238.8,439.7 L240.3,440.2 L241.8,440.6 L243.3,441.1 L244.8,441.5 L246.3,442 L247.8,442.4 L249.3,442.9 L250.8,443.3 L252.3,443.8 L253.8,444.2 L255.3,444.7 L256.8,445.1 L258.3,445.5 L259.8,445.9 L261.3,446.4 L262.8,446.8 L264.3,447.2 L265.8,447.6 L267.3,448 L268.8,448.4 L270.3,448.8 L271.8,449.1 L273.3,449.5 L274.8,449.9 L276.3,450.3 L277.8,450.7 L279.3,451.1 L280.8,451.5 L282.3,451.8 L283.8,452.2 L285.3,452.6 L286.8,453 L288.3,453.5 L289.8,453.9 L291.3,454.4 L292.8,454.9 L294.3,455.4 L295.8,455.9 L297.3,456.5 L298.8,457 L300.3,457.5 L301.8,458.1 L303.3,458.6 L304.8,459.1 L306.3,459.6 L307.8,460 L309.3,460.4 L310.8,460.8 L312.3,461.2 L313.8,461.5 L315.3,461.8 L316.8,462 L318.3,462.1 L319.8,462.2 L321.3,462.3 L322.8,462.4 L324.3,462.4 L325.8,462.5 L327.3,462.6 L328.8,462.6 L330.3,462.7 L331.8,462.7 L333.3,462.8 L334.8,462.8 L336.3,462.8 L337.8,462.9 L339.3,462.9 L340.8,462.9 L342.3,462.9" fill="none" stroke="#4a4a4a" stroke-width="1.25"/><circle cx="78.3" cy="399.6" r="0.8" fill="#444"/><circle cx="84.9" cy="399.7" r="0.8" fill="#444"/><circle cx="91.5" cy="399.9" r="0.8" fill="#444"/><circle cx="98.1" cy="400.2" r="0.8" fill="#444"/><circle cx="104.7" cy="400.5" r="0.8" fill="#444"/><circle cx="111.3" cy="401.1" r="0.8" fill="#444"/><circle cx="117.9" cy="401.9" r="0.8" fill="#444"/><circle cx="124.5" cy="403.2" r="0.8" fill="#444"/><circle cx="131.1" cy="404.7" r="0.8" fill="#444"/><circle cx="137.7" cy="406.2" r="0.8" fill="#444"/><circle cx="144.3" cy="407.8" r="0.8" fill="#444"/><circle cx="150.9" cy="410" r="0.8" fill="#444"/><circle cx="157.5" cy="412.6" r="0.8" fill="#444"/><circle cx="164.1" cy="414.9" r="0.8" fill="#444"/><circle cx="170.7" cy="417" r="0.8" fill="#444"/><circle cx="177.3" cy="419.2" r="0.8" fill="#444"/><circle cx="183.9" cy="421.6" r="0.8" fill="#444"/><circle cx="190.5" cy="424" r="0.8" fill="#444"/><circle cx="197.1" cy="426.4" r="0.8" fill="#444"/><circle cx="203.7" cy="428.7" r="0.8" fill="#444"/><circle cx="210.3" cy="431" r="0.8" fill="#444"/><circle cx="216.9" cy="433.1" r="0.8" fill="#444"/><circle cx="223.5" cy="435.1" r="0.8" fill="#444"/><circle cx="230.1" cy="437.1" r="0.8" fill="#444"/><circle cx="236.7" cy="439.1" r="0.8" fill="#444"/><circle cx="243.3" cy="441.1" r="0.8" fill="#444"/><circle cx="249.9" cy="443.1" r="0.8" fill="#444"/><circle cx="256.5" cy="445" r="0.8" fill="#444"/><circle cx="263.1" cy="446.9" r="0.8" fill="#444"/><circle cx="269.7" cy="448.6" r="0.8" fill="#444"/><circle cx="276.3" cy="450.3" r="0.8" fill="#444"/><circle cx="282.9" cy="452" r="0.8" fill="#444"/><circle cx="289.5" cy="453.8" r="0.8" fill="#444"/><circle cx="296.1" cy="456" r="0.8" fill="#444"/><circle cx="302.7" cy="458.4" r="0.8" fill="#444"/><circle cx="309.3" cy="460.4" r="0.8" fill="#444"/><circle cx="315.9" cy="461.8" r="0.8" fill="#444"/><circle cx="322.5" cy="462.4" r="0.8" fill="#444"/><circle cx="329.1" cy="462.6" r="0.8" fill="#444"/><circle cx="335.7" cy="462.8" r="0.8" fill="#444"/><circle cx="342.3" cy="462.9" r="0.8" fill="#444"/><path d="M78.3,427 L79.8,427 L81.3,427 L82.8,426.9 L84.3,426.9 L85.8,426.9 L87.3,426.9 L88.8,426.9 L90.3,426.9 L91.8,426.9 L93.3,426.8 L94.8,426.8 L96.3,426.8 L97.8,426.8 L99.3,426.8 L100.8,426.8 L102.3,426.8 L103.8,426.8 L105.3,426.8 L106.8,426.8 L108.3,426.8 L109.8,426.8 L111.3,426.8 L112.8,426.8 L114.3,426.8 L115.8,426.8 L117.3,426.8 L118.8,426.8 L120.3,426.8 L121.8,426.9 L123.3,427 L124.8,427 L126.3,427.2 L127.8,427.3 L129.3,427.4 L130.8,427.6 L132.3,427.8 L133.8,427.9 L135.3,428.1 L136.8,428.3 L138.3,428.5 L139.8,428.7 L141.3,428.9 L142.8,429.1 L144.3,429.2 L145.8,429.4 L147.3,429.6 L148.8,429.8 L150.3,430 L151.8,430.2 L153.3,430.4 L154.8,430.7 L156.3,430.9 L157.8,431.1 L159.3,431.4 L160.8,431.6 L162.3,431.9 L163.8,432.2 L165.3,432.4 L166.8,432.7 L168.3,433 L169.8,433.2 L171.3,433.5 L172.8,433.8 L174.3,434.1 L175.8,434.3 L177.3,434.6 L178.8,434.9 L180.3,435.2 L181.8,435.4 L183.3,435.7 L184.8,436 L186.3,436.3 L187.8,436.6 L189.3,436.9 L190.8,437.2 L192.3,437.5 L193.8,437.8 L195.3,438.1 L196.8,438.4 L198.3,438.8 L199.8,439.1 L201.3,439.4 L202.8,439.7 L204.3,440 L205.8,440.3 L207.3,440.7 L208.8,441 L210.3,441.3 L211.8,441.6 L213.3,442 L214.8,442.3 L216.3,442.6 L217.8,443 L219.3,443.3 L220.8,443.7 L222.3,444 L223.8,444.4 L225.3,444.8 L226.8,445.1 L228.3,445.5 L229.8,445.8 L231.3,446.1 L232.8,446.5 L234.3,446.8 L235.8,447.1 L237.3,447.4 L238.8,447.7 L240.3,448 L241.8,448.3 L243.3,448.6 L244.8,448.9 L246.3,449.1 L247.8,449.4 L249.3,449.6 L250.8,449.9 L252.3,450.1 L253.8,450.3 L255.3,450.5 L256.8,450.7 L258.3,450.9 L259.8,451.1 L261.3,451.2 L262.8,451.4 L264.3,451.5 L265.8,451.7 L267.3,451.8 L268.8,452 L270.3,452.1 L271.8,452.3 L273.3,452.4 L274.8,452.5 L276.3,452.6 L277.8,452.7 L279.3,452.8 L280.8,452.9 L282.3,453 L283.8,453 L285.3,453.1 L286.8,453.1 L288.3,453.1 L289.8,453.1 L291.3,453.1 L292.8,453.1 L294.3,453.2 L295.8,453.2 L297.3,453.2 L298.8,453.2 L300.3,453.2 L301.8,453.2 L303.3,453.2 L304.8,453.2 L306.3,453.2 L307.8,453.2 L309.3,453.2 L310.8,453.2 L312.3,453.2 L313.8,453.2 L315.3,453.2 L316.8,453.2 L318.3,453.2 L319.8,453.2 L321.3,453.2 L322.8,453.2 L324.3,453.2 L325.8,453.2 L327.3,453.2 L328.8,453.2 L330.3,453.2 L331.8,453.2 L333.3,453.2 L334.8,453.1 L336.3,453.1 L337.8,453.1 L339.3,453.1 L340.8,453.1 L342.3,453.1" fill="none" stroke="#525252" stroke-width="1.0"/><circle cx="78.3" cy="427" r="0.9" fill="#2a9a2a"/><circle cx="84.9" cy="426.9" r="0.9" fill="#2a9a2a"/><circle cx="91.5" cy="426.9" r="0.9" fill="#2a9a2a"/><circle cx="98.1" cy="426.8" r="0.9" fill="#2a9a2a"/><circle cx="104.7" cy="426.8" r="0.9" fill="#2a9a2a"/><circle cx="111.3" cy="426.8" r="0.9" fill="#2a9a2a"/><circle cx="117.9" cy="426.8" r="0.9" fill="#2a9a2a"/><circle cx="124.5" cy="427" r="0.9" fill="#2a9a2a"/><circle cx="131.1" cy="427.6" r="0.9" fill="#2a9a2a"/><circle cx="137.7" cy="428.4" r="0.9" fill="#2a9a2a"/><circle cx="144.3" cy="429.2" r="0.9" fill="#2a9a2a"/><circle cx="150.9" cy="430.1" r="0.9" fill="#2a9a2a"/><circle cx="157.5" cy="431.1" r="0.9" fill="#2a9a2a"/><circle cx="164.1" cy="432.2" r="0.9" fill="#2a9a2a"/><circle cx="170.7" cy="433.4" r="0.9" fill="#2a9a2a"/><circle cx="177.3" cy="434.6" r="0.9" fill="#2a9a2a"/><circle cx="183.9" cy="435.8" r="0.9" fill="#2a9a2a"/><circle cx="190.5" cy="437.1" r="0.9" fill="#2a9a2a"/><circle cx="197.1" cy="438.5" r="0.9" fill="#2a9a2a"/><circle cx="203.7" cy="439.9" r="0.9" fill="#2a9a2a"/><circle cx="210.3" cy="441.3" r="0.9" fill="#2a9a2a"/><circle cx="216.9" cy="442.8" r="0.9" fill="#2a9a2a"/><circle cx="223.5" cy="444.3" r="0.9" fill="#2a9a2a"/><circle cx="230.1" cy="445.9" r="0.9" fill="#2a9a2a"/><circle cx="236.7" cy="447.3" r="0.9" fill="#2a9a2a"/><circle cx="243.3" cy="448.6" r="0.9" fill="#2a9a2a"/><circle cx="249.9" cy="449.7" r="0.9" fill="#2a9a2a"/><circle cx="256.5" cy="450.7" r="0.9" fill="#2a9a2a"/><circle cx="263.1" cy="451.4" r="0.9" fill="#2a9a2a"/><circle cx="269.7" cy="452.1" r="0.9" fill="#2a9a2a"/><circle cx="276.3" cy="452.6" r="0.9" fill="#2a9a2a"/><circle cx="282.9" cy="453" r="0.9" fill="#2a9a2a"/><circle cx="289.5" cy="453.1" r="0.9" fill="#2a9a2a"/><circle cx="296.1" cy="453.2" r="0.9" fill="#2a9a2a"/><circle cx="302.7" cy="453.2" r="0.9" fill="#2a9a2a"/><circle cx="309.3" cy="453.2" r="0.9" fill="#2a9a2a"/><circle cx="315.9" cy="453.2" r="0.9" fill="#2a9a2a"/><circle cx="322.5" cy="453.2" r="0.9" fill="#2a9a2a"/><circle cx="329.1" cy="453.2" r="0.9" fill="#2a9a2a"/><circle cx="335.7" cy="453.1" r="0.9" fill="#2a9a2a"/><circle cx="342.3" cy="453.1" r="0.9" fill="#2a9a2a"/><path d="M78.3,428 L79.8,428 L81.3,428 L82.8,428 L84.3,428 L85.8,428 L87.3,428.1 L88.8,428.1 L90.3,428.1 L91.8,428.1 L93.3,428.2 L94.8,428.2 L96.3,428.2 L97.8,428.3 L99.3,428.3 L100.8,428.4 L102.3,428.4 L103.8,428.4 L105.3,428.5 L106.8,428.5 L108.3,428.6 L109.8,428.7 L111.3,428.7 L112.8,428.8 L114.3,428.8 L115.8,428.9 L117.3,429 L118.8,429 L120.3,429.1 L121.8,429.2 L123.3,429.4 L124.8,429.5 L126.3,429.7 L127.8,429.9 L129.3,430.1 L130.8,430.3 L132.3,430.6 L133.8,430.8 L135.3,431.1 L136.8,431.3 L138.3,431.6 L139.8,431.8 L141.3,432.1 L142.8,432.4 L144.3,432.6 L145.8,432.9 L147.3,433.1 L148.8,433.4 L150.3,433.7 L151.8,434 L153.3,434.3 L154.8,434.6 L156.3,434.9 L157.8,435.2 L159.3,435.5 L160.8,435.9 L162.3,436.2 L163.8,436.5 L165.3,436.9 L166.8,437.2 L168.3,437.6 L169.8,438 L171.3,438.3 L172.8,438.7 L174.3,439.1 L175.8,439.4 L177.3,439.8 L178.8,440.2 L180.3,440.6 L181.8,441 L183.3,441.4 L184.8,441.8 L186.3,442.2 L187.8,442.7 L189.3,443.1 L190.8,443.6 L192.3,444.1 L193.8,444.5 L195.3,445 L196.8,445.5 L198.3,445.9 L199.8,446.4 L201.3,446.9 L202.8,447.3 L204.3,447.8 L205.8,448.2 L207.3,448.6 L208.8,449 L210.3,449.4 L211.8,449.8 L213.3,450.2 L214.8,450.6 L216.3,450.9 L217.8,451.3 L219.3,451.7 L220.8,452 L222.3,452.4 L223.8,452.7 L225.3,453.1 L226.8,453.5 L228.3,453.8 L229.8,454.2 L231.3,454.5 L232.8,454.9 L234.3,455.2 L235.8,455.6 L237.3,456 L238.8,456.4 L240.3,456.7 L241.8,457.1 L243.3,457.5 L244.8,457.9 L246.3,458.4 L247.8,458.8 L249.3,459.3 L250.8,459.8 L252.3,460.3 L253.8,460.8 L255.3,461.2 L256.8,461.7 L258.3,462.1 L259.8,462.5 L261.3,462.8 L262.8,463.1 L264.3,463.5 L265.8,463.8 L267.3,464.2 L268.8,464.5 L270.3,464.8 L271.8,465.1 L273.3,465.4 L274.8,465.6 L276.3,465.9 L277.8,466.1 L279.3,466.2 L280.8,466.3 L282.3,466.4 L283.8,466.4 L285.3,466.4 L286.8,466.4 L288.3,466.5 L289.8,466.5 L291.3,466.5 L292.8,466.5 L294.3,466.5 L295.8,466.5 L297.3,466.5 L298.8,466.5 L300.3,466.5 L301.8,466.5 L303.3,466.4 L304.8,466.3 L306.3,466.2 L307.8,466 L309.3,465.8 L310.8,465.7 L312.3,465.5 L313.8,465.3 L315.3,465.1 L316.8,464.9 L318.3,464.7 L319.8,464.5 L321.3,464.4 L322.8,464.2 L324.3,464.1 L325.8,463.9 L327.3,463.8 L328.8,463.6 L330.3,463.4 L331.8,463.3 L333.3,463.1 L334.8,463 L336.3,462.8 L337.8,462.7 L339.3,462.5 L340.8,462.4 L342.3,462.2" fill="none" stroke="#525252" stroke-width="1.0"/><circle cx="78.3" cy="428" r="0.85" fill="#2a2a9a"/><circle cx="84.9" cy="428" r="0.85" fill="#2a2a9a"/><circle cx="91.5" cy="428.1" r="0.85" fill="#2a2a9a"/><circle cx="98.1" cy="428.3" r="0.85" fill="#2a2a9a"/><circle cx="104.7" cy="428.5" r="0.85" fill="#2a2a9a"/><circle cx="111.3" cy="428.7" r="0.85" fill="#2a2a9a"/><circle cx="117.9" cy="429" r="0.85" fill="#2a2a9a"/><circle cx="124.5" cy="429.5" r="0.85" fill="#2a2a9a"/><circle cx="131.1" cy="430.4" r="0.85" fill="#2a2a9a"/><circle cx="137.7" cy="431.5" r="0.85" fill="#2a2a9a"/><circle cx="144.3" cy="432.6" r="0.85" fill="#2a2a9a"/><circle cx="150.9" cy="433.8" r="0.85" fill="#2a2a9a"/><circle cx="157.5" cy="435.1" r="0.85" fill="#2a2a9a"/><circle cx="164.1" cy="436.6" r="0.85" fill="#2a2a9a"/><circle cx="170.7" cy="438.2" r="0.85" fill="#2a2a9a"/><circle cx="177.3" cy="439.8" r="0.85" fill="#2a2a9a"/><circle cx="183.9" cy="441.5" r="0.85" fill="#2a2a9a"/><circle cx="190.5" cy="443.5" r="0.85" fill="#2a2a9a"/><circle cx="197.1" cy="445.6" r="0.85" fill="#2a2a9a"/><circle cx="203.7" cy="447.6" r="0.85" fill="#2a2a9a"/><circle cx="210.3" cy="449.4" r="0.85" fill="#2a2a9a"/><circle cx="216.9" cy="451.1" r="0.85" fill="#2a2a9a"/><circle cx="223.5" cy="452.7" r="0.85" fill="#2a2a9a"/><circle cx="230.1" cy="454.2" r="0.85" fill="#2a2a9a"/><circle cx="236.7" cy="455.8" r="0.85" fill="#2a2a9a"/><circle cx="243.3" cy="457.5" r="0.85" fill="#2a2a9a"/><circle cx="249.9" cy="459.5" r="0.85" fill="#2a2a9a"/><circle cx="256.5" cy="461.6" r="0.85" fill="#2a2a9a"/><circle cx="263.1" cy="463.2" r="0.85" fill="#2a2a9a"/><circle cx="269.7" cy="464.7" r="0.85" fill="#2a2a9a"/><circle cx="276.3" cy="465.9" r="0.85" fill="#2a2a9a"/><circle cx="282.9" cy="466.4" r="0.85" fill="#2a2a9a"/><circle cx="289.5" cy="466.5" r="0.85" fill="#2a2a9a"/><circle cx="296.1" cy="466.5" r="0.85" fill="#2a2a9a"/><circle cx="302.7" cy="466.4" r="0.85" fill="#2a2a9a"/><circle cx="309.3" cy="465.8" r="0.85" fill="#2a2a9a"/><circle cx="315.9" cy="465" r="0.85" fill="#2a2a9a"/><circle cx="322.5" cy="464.2" r="0.85" fill="#2a2a9a"/><circle cx="329.1" cy="463.6" r="0.85" fill="#2a2a9a"/><circle cx="335.7" cy="462.9" r="0.85" fill="#2a2a9a"/><circle cx="342.3" cy="462.2" r="0.85" fill="#2a2a9a"/><path d="M78.3,431.2 L79.8,431.2 L81.3,431.3 L82.8,431.3 L84.3,431.4 L85.8,431.4 L87.3,431.5 L88.8,431.6 L90.3,431.7 L91.8,431.8 L93.3,432 L94.8,432.1 L96.3,432.2 L97.8,432.4 L99.3,432.6 L100.8,432.7 L102.3,432.9 L103.8,433.1 L105.3,433.3 L106.8,433.5 L108.3,433.7 L109.8,433.9 L111.3,434.1 L112.8,434.3 L114.3,434.5 L115.8,434.7 L117.3,434.9 L118.8,435.1 L120.3,435.4 L121.8,435.6 L123.3,435.9 L124.8,436.3 L126.3,436.6 L127.8,437 L129.3,437.3 L130.8,437.7 L132.3,438.1 L133.8,438.5 L135.3,439 L136.8,439.4 L138.3,439.8 L139.8,440.2 L141.3,440.6 L142.8,441 L144.3,441.4 L145.8,441.7 L147.3,442.1 L148.8,442.5 L150.3,442.8 L151.8,443.2 L153.3,443.6 L154.8,443.9 L156.3,444.3 L157.8,444.7 L159.3,445 L160.8,445.4 L162.3,445.8 L163.8,446.1 L165.3,446.5 L166.8,446.9 L168.3,447.3 L169.8,447.7 L171.3,448.1 L172.8,448.5 L174.3,448.9 L175.8,449.3 L177.3,449.7 L178.8,450.1 L180.3,450.6 L181.8,451 L183.3,451.5 L184.8,452 L186.3,452.5 L187.8,453 L189.3,453.5 L190.8,454.1 L192.3,454.6 L193.8,455.1 L195.3,455.7 L196.8,456.2 L198.3,456.8 L199.8,457.3 L201.3,457.9 L202.8,458.4 L204.3,459 L205.8,459.5 L207.3,460.1 L208.8,460.6 L210.3,461.1 L211.8,461.6 L213.3,462.2 L214.8,462.7 L216.3,463.3 L217.8,463.8 L219.3,464.3 L220.8,464.9 L222.3,465.4 L223.8,465.9 L225.3,466.5 L226.8,467 L228.3,467.5 L229.8,468 L231.3,468.5 L232.8,469 L234.3,469.5 L235.8,470 L237.3,470.6 L238.8,471.1 L240.3,471.6 L241.8,472.1 L243.3,472.6 L244.8,473 L246.3,473.5 L247.8,473.9 L249.3,474.3 L250.8,474.6 L252.3,475 L253.8,475.3 L255.3,475.5 L256.8,475.8 L258.3,476 L259.8,476.2 L261.3,476.3 L262.8,476.5 L264.3,476.7 L265.8,476.8 L267.3,477 L268.8,477.1 L270.3,477.1 L271.8,477.2 L273.3,477.2 L274.8,477.2 L276.3,477.1 L277.8,477 L279.3,476.9 L280.8,476.7 L282.3,476.6 L283.8,476.4 L285.3,476.3 L286.8,476.1 L288.3,475.8 L289.8,475.5 L291.3,475.2 L292.8,474.8 L294.3,474.5 L295.8,474.1 L297.3,473.6 L298.8,473.1 L300.3,472.6 L301.8,472 L303.3,471.5 L304.8,471.1 L306.3,470.6 L307.8,470.2 L309.3,469.8 L310.8,469.5 L312.3,469.1 L313.8,468.7 L315.3,468.4 L316.8,468.1 L318.3,467.7 L319.8,467.4 L321.3,467.1 L322.8,466.8 L324.3,466.5 L325.8,466.3 L327.3,466 L328.8,465.8 L330.3,465.6 L331.8,465.4 L333.3,465.2 L334.8,465 L336.3,464.8 L337.8,464.7 L339.3,464.5 L340.8,464.4 L342.3,464.3" fill="none" stroke="#525252" stroke-width="1.0"/><circle cx="78.3" cy="431.2" r="0.85" fill="#2a2a9a"/><circle cx="84.9" cy="431.4" r="0.85" fill="#2a2a9a"/><circle cx="91.5" cy="431.8" r="0.85" fill="#2a2a9a"/><circle cx="98.1" cy="432.4" r="0.85" fill="#2a2a9a"/><circle cx="104.7" cy="433.2" r="0.85" fill="#2a2a9a"/><circle cx="111.3" cy="434.1" r="0.85" fill="#2a2a9a"/><circle cx="117.9" cy="435" r="0.85" fill="#2a2a9a"/><circle cx="124.5" cy="436.2" r="0.85" fill="#2a2a9a"/><circle cx="131.1" cy="437.8" r="0.85" fill="#2a2a9a"/><circle cx="137.7" cy="439.6" r="0.85" fill="#2a2a9a"/><circle cx="144.3" cy="441.4" r="0.85" fill="#2a2a9a"/><circle cx="150.9" cy="443" r="0.85" fill="#2a2a9a"/><circle cx="157.5" cy="444.6" r="0.85" fill="#2a2a9a"/><circle cx="164.1" cy="446.2" r="0.85" fill="#2a2a9a"/><circle cx="170.7" cy="447.9" r="0.85" fill="#2a2a9a"/><circle cx="177.3" cy="449.7" r="0.85" fill="#2a2a9a"/><circle cx="183.9" cy="451.7" r="0.85" fill="#2a2a9a"/><circle cx="190.5" cy="454" r="0.85" fill="#2a2a9a"/><circle cx="197.1" cy="456.3" r="0.85" fill="#2a2a9a"/><circle cx="203.7" cy="458.8" r="0.85" fill="#2a2a9a"/><circle cx="210.3" cy="461.1" r="0.85" fill="#2a2a9a"/><circle cx="216.9" cy="463.5" r="0.85" fill="#2a2a9a"/><circle cx="223.5" cy="465.8" r="0.85" fill="#2a2a9a"/><circle cx="230.1" cy="468.1" r="0.85" fill="#2a2a9a"/><circle cx="236.7" cy="470.3" r="0.85" fill="#2a2a9a"/><circle cx="243.3" cy="472.6" r="0.85" fill="#2a2a9a"/><circle cx="249.9" cy="474.4" r="0.85" fill="#2a2a9a"/><circle cx="256.5" cy="475.7" r="0.85" fill="#2a2a9a"/><circle cx="263.1" cy="476.5" r="0.85" fill="#2a2a9a"/><circle cx="269.7" cy="477.1" r="0.85" fill="#2a2a9a"/><circle cx="276.3" cy="477.1" r="0.85" fill="#2a2a9a"/><circle cx="282.9" cy="476.5" r="0.85" fill="#2a2a9a"/><circle cx="289.5" cy="475.6" r="0.85" fill="#2a2a9a"/><circle cx="296.1" cy="474" r="0.85" fill="#2a2a9a"/><circle cx="302.7" cy="471.7" r="0.85" fill="#2a2a9a"/><circle cx="309.3" cy="469.8" r="0.85" fill="#2a2a9a"/><circle cx="315.9" cy="468.3" r="0.85" fill="#2a2a9a"/><circle cx="322.5" cy="466.9" r="0.85" fill="#2a2a9a"/><circle cx="329.1" cy="465.7" r="0.85" fill="#2a2a9a"/><circle cx="335.7" cy="464.9" r="0.85" fill="#2a2a9a"/><circle cx="342.3" cy="464.3" r="0.85" fill="#2a2a9a"/><path d="M78.3,444.8 L79.8,444.8 L81.3,444.8 L82.8,444.8 L84.3,444.9 L85.8,444.9 L87.3,445 L88.8,445 L90.3,445.1 L91.8,445.1 L93.3,445.2 L94.8,445.3 L96.3,445.3 L97.8,445.4 L99.3,445.5 L100.8,445.6 L102.3,445.6 L103.8,445.7 L105.3,445.8 L106.8,445.9 L108.3,446 L109.8,446.1 L111.3,446.2 L112.8,446.3 L114.3,446.4 L115.8,446.5 L117.3,446.6 L118.8,446.8 L120.3,446.9 L121.8,447.1 L123.3,447.2 L124.8,447.4 L126.3,447.6 L127.8,447.7 L129.3,447.9 L130.8,448.1 L132.3,448.3 L133.8,448.5 L135.3,448.7 L136.8,448.9 L138.3,449.2 L139.8,449.4 L141.3,449.6 L142.8,449.8 L144.3,450 L145.8,450.3 L147.3,450.5 L148.8,450.8 L150.3,451.1 L151.8,451.4 L153.3,451.7 L154.8,452 L156.3,452.3 L157.8,452.6 L159.3,452.9 L160.8,453.2 L162.3,453.5 L163.8,453.9 L165.3,454.2 L166.8,454.5 L168.3,454.9 L169.8,455.2 L171.3,455.5 L172.8,455.9 L174.3,456.3 L175.8,456.7 L177.3,457 L178.8,457.4 L180.3,457.8 L181.8,458.2 L183.3,458.6 L184.8,459 L186.3,459.4 L187.8,459.8 L189.3,460.1 L190.8,460.5 L192.3,460.8 L193.8,461.2 L195.3,461.5 L196.8,461.9 L198.3,462.2 L199.8,462.6 L201.3,462.9 L202.8,463.2 L204.3,463.5 L205.8,463.9 L207.3,464.2 L208.8,464.5 L210.3,464.7 L211.8,465 L213.3,465.3 L214.8,465.5 L216.3,465.8 L217.8,466 L219.3,466.3 L220.8,466.5 L222.3,466.7 L223.8,467 L225.3,467.2 L226.8,467.4 L228.3,467.6 L229.8,467.8 L231.3,468 L232.8,468.2 L234.3,468.4 L235.8,468.6 L237.3,468.8 L238.8,469 L240.3,469.2 L241.8,469.4 L243.3,469.6 L244.8,469.8 L246.3,469.9 L247.8,470.1 L249.3,470.3 L250.8,470.4 L252.3,470.5 L253.8,470.7 L255.3,470.8 L256.8,470.9 L258.3,471 L259.8,471.1 L261.3,471.2 L262.8,471.2 L264.3,471.3 L265.8,471.4 L267.3,471.5 L268.8,471.5 L270.3,471.6 L271.8,471.7 L273.3,471.7 L274.8,471.8 L276.3,471.8 L277.8,471.9 L279.3,471.9 L280.8,471.9 L282.3,472 L283.8,472 L285.3,472 L286.8,472 L288.3,472 L289.8,472 L291.3,472 L292.8,472 L294.3,472 L295.8,471.9 L297.3,471.9 L298.8,471.9 L300.3,471.9 L301.8,471.8 L303.3,471.8 L304.8,471.8 L306.3,471.7 L307.8,471.7 L309.3,471.7 L310.8,471.6 L312.3,471.6 L313.8,471.5 L315.3,471.5 L316.8,471.4 L318.3,471.4 L319.8,471.3 L321.3,471.3 L322.8,471.2 L324.3,471.1 L325.8,471.1 L327.3,471 L328.8,470.9 L330.3,470.8 L331.8,470.7 L333.3,470.6 L334.8,470.5 L336.3,470.4 L337.8,470.3 L339.3,470.2 L340.8,470.1 L342.3,470" fill="none" stroke="#525252" stroke-width="1.0"/><circle cx="78.3" cy="444.8" r="0.8" fill="#444"/><circle cx="84.9" cy="444.9" r="0.8" fill="#444"/><circle cx="91.5" cy="445.1" r="0.8" fill="#444"/><circle cx="98.1" cy="445.4" r="0.8" fill="#444"/><circle cx="104.7" cy="445.8" r="0.8" fill="#444"/><circle cx="111.3" cy="446.2" r="0.8" fill="#444"/><circle cx="117.9" cy="446.7" r="0.8" fill="#444"/><circle cx="124.5" cy="447.3" r="0.8" fill="#444"/><circle cx="131.1" cy="448.2" r="0.8" fill="#444"/><circle cx="137.7" cy="449.1" r="0.8" fill="#444"/><circle cx="144.3" cy="450" r="0.8" fill="#444"/><circle cx="150.9" cy="451.2" r="0.8" fill="#444"/><circle cx="157.5" cy="452.5" r="0.8" fill="#444"/><circle cx="164.1" cy="453.9" r="0.8" fill="#444"/><circle cx="170.7" cy="455.4" r="0.8" fill="#444"/><circle cx="177.3" cy="457" r="0.8" fill="#444"/><circle cx="183.9" cy="458.8" r="0.8" fill="#444"/><circle cx="190.5" cy="460.4" r="0.8" fill="#444"/><circle cx="197.1" cy="462" r="0.8" fill="#444"/><circle cx="203.7" cy="463.4" r="0.8" fill="#444"/><circle cx="210.3" cy="464.7" r="0.8" fill="#444"/><circle cx="216.9" cy="465.9" r="0.8" fill="#444"/><circle cx="223.5" cy="466.9" r="0.8" fill="#444"/><circle cx="230.1" cy="467.8" r="0.8" fill="#444"/><circle cx="236.7" cy="468.7" r="0.8" fill="#444"/><circle cx="243.3" cy="469.6" r="0.8" fill="#444"/><circle cx="249.9" cy="470.3" r="0.8" fill="#444"/><circle cx="256.5" cy="470.9" r="0.8" fill="#444"/><circle cx="263.1" cy="471.3" r="0.8" fill="#444"/><circle cx="269.7" cy="471.6" r="0.8" fill="#444"/><circle cx="276.3" cy="471.8" r="0.8" fill="#444"/><circle cx="282.9" cy="472" r="0.8" fill="#444"/><circle cx="289.5" cy="472" r="0.8" fill="#444"/><circle cx="296.1" cy="471.9" r="0.8" fill="#444"/><circle cx="302.7" cy="471.8" r="0.8" fill="#444"/><circle cx="309.3" cy="471.7" r="0.8" fill="#444"/><circle cx="315.9" cy="471.5" r="0.8" fill="#444"/><circle cx="322.5" cy="471.2" r="0.8" fill="#444"/><circle cx="329.1" cy="470.9" r="0.8" fill="#444"/><circle cx="335.7" cy="470.5" r="0.8" fill="#444"/><circle cx="342.3" cy="470" r="0.8" fill="#444"/><path d="M185,494.5 L186.5,493.6 L188,492.8 L189.5,492.4 L191.1,492 L192.6,491.7 L194.1,491.4 L195.6,491.1 L197.1,490.9 L198.6,490.7 L200.2,490.6 L201.7,490.4 L203.2,490.3 L204.7,490.2 L206.2,490.1 L207.7,490 L209.2,489.9 L210.8,489.8 L212.3,489.7 L213.8,489.6 L215.3,489.6 L216.8,489.5 L218.3,489.5 L219.8,489.5 L221.4,489.4 L222.9,489.4 L224.4,489.4 L225.9,489.3 L227.4,489.3 L228.9,489.3 L230.5,489.3 L232,489.3 L233.5,489.3 L235,489.3 L236.5,489.4 L238,489.4 L239.5,489.4 L241.1,489.5 L242.6,489.5 L244.1,489.6 L245.6,489.6 L247.1,489.7 L248.6,489.7 L250.2,489.8 L251.7,489.9 L253.2,490 L254.7,490.1 L256.2,490.2 L257.7,490.3 L259.2,490.4 L260.8,490.6 L262.3,490.7 L263.8,490.8 L265.3,490.9 L266.8,491.1 L268.3,491.2 L269.8,491.4 L271.4,491.5 L272.9,491.7 L274.4,491.9 L275.9,492.1 L277.4,492.3 L278.9,492.6 L280.5,492.9 L282,493.2 L283.5,493.6 L285,494" fill="none" stroke="#525252" stroke-width="1.0"/><circle cx="190.5" cy="492.1" r="0.9" fill="#2a9a2a"/><circle cx="197.1" cy="490.9" r="0.9" fill="#2a9a2a"/><circle cx="203.7" cy="490.3" r="0.9" fill="#2a9a2a"/><circle cx="210.3" cy="489.8" r="0.9" fill="#2a9a2a"/><circle cx="216.9" cy="489.5" r="0.9" fill="#2a9a2a"/><circle cx="223.5" cy="489.4" r="0.9" fill="#2a9a2a"/><circle cx="230.1" cy="489.3" r="0.9" fill="#2a9a2a"/><circle cx="236.7" cy="489.4" r="0.9" fill="#2a9a2a"/><circle cx="243.3" cy="489.5" r="0.9" fill="#2a9a2a"/><circle cx="249.9" cy="489.8" r="0.9" fill="#2a9a2a"/><circle cx="256.5" cy="490.2" r="0.9" fill="#2a9a2a"/><circle cx="263.1" cy="490.7" r="0.9" fill="#2a9a2a"/><circle cx="269.7" cy="491.4" r="0.9" fill="#2a9a2a"/><circle cx="276.3" cy="492.2" r="0.9" fill="#2a9a2a"/><circle cx="282.9" cy="493.5" r="0.9" fill="#2a9a2a"/><path d="M78.3,482.6 L79.8,482.6 L81.4,482.6 L82.9,482.7 L84.4,482.7 L85.9,482.8 L87.5,482.8 L89,482.9 L90.5,483 L92,483 L93.6,483.1 L95.1,483.3 L96.6,483.4 L98.1,483.6 L99.7,483.9 L101.2,484.1 L102.7,484.3 L104.2,484.5 L105.8,484.8 L107.3,485 L108.8,485.2 L110.3,485.5 L111.9,485.8 L113.4,486.1 L114.9,486.4 L116.4,486.7 L118,487 L119.5,487.4 L121,487.7 L122.5,488.1 L124.1,488.5 L125.6,488.9 L127.1,489.3 L128.6,489.8 L130.2,490.2 L131.7,490.7 L133.2,491.2 L134.7,491.7 L136.3,492.2 L137.8,492.7 L139.3,493.3 L140.8,493.8 L142.4,494.3 L143.9,494.8 L145.4,495.4 L146.9,495.9 L148.5,496.5 L150,497" fill="none" stroke="#525252" stroke-width="1.0"/><circle cx="78.3" cy="482.6" r="2.05" fill="#aa1a2c"/><circle cx="78.3" cy="482.6" r="0.75" fill="#4a6a2a"/><circle cx="84.9" cy="482.7" r="2.05" fill="#aa1a2c"/><circle cx="84.9" cy="482.7" r="0.75" fill="#4a6a2a"/><circle cx="91.5" cy="483" r="2.05" fill="#aa1a2c"/><circle cx="91.5" cy="483" r="0.75" fill="#4a6a2a"/><circle cx="98.1" cy="483.6" r="2.05" fill="#aa1a2c"/><circle cx="98.1" cy="483.6" r="0.75" fill="#4a6a2a"/><circle cx="104.7" cy="484.6" r="2.05" fill="#aa1a2c"/><circle cx="104.7" cy="484.6" r="0.75" fill="#4a6a2a"/><circle cx="111.3" cy="485.7" r="2.05" fill="#aa1a2c"/><circle cx="111.3" cy="485.7" r="0.75" fill="#4a6a2a"/><circle cx="117.9" cy="487" r="2.05" fill="#aa1a2c"/><circle cx="117.9" cy="487" r="0.75" fill="#4a6a2a"/><circle cx="124.5" cy="488.6" r="2.05" fill="#aa1a2c"/><circle cx="124.5" cy="488.6" r="0.75" fill="#4a6a2a"/><circle cx="131.1" cy="490.5" r="2.05" fill="#aa1a2c"/><circle cx="131.1" cy="490.5" r="0.75" fill="#4a6a2a"/><circle cx="137.7" cy="492.7" r="2.05" fill="#aa1a2c"/><circle cx="137.7" cy="492.7" r="0.75" fill="#4a6a2a"/><circle cx="144.3" cy="495" r="2.05" fill="#aa1a2c"/><circle cx="144.3" cy="495" r="0.75" fill="#4a6a2a"/><path d="M78.3,487.1 L79.8,487.1 L81.3,487.1 L82.8,487.2 L84.3,487.2 L85.8,487.3 L87.4,487.4 L88.9,487.4 L90.4,487.5 L91.9,487.6 L93.4,487.8 L94.9,487.9 L96.4,488.1 L97.9,488.4 L99.4,488.6 L100.9,488.9 L102.4,489.2 L103.9,489.5 L105.5,489.7 L107,490 L108.5,490.3 L110,490.6 L111.5,490.9 L113,491.3 L114.5,491.6 L116,492 L117.5,492.3 L119,492.7 L120.5,493 L122,493.4 L123.6,493.8 L125.1,494.2 L126.6,494.7 L128.1,495.1 L129.6,495.5 L131.1,496" fill="none" stroke="#525252" stroke-width="1.0"/><circle cx="78.3" cy="487.1" r="2.05" fill="#aa1a2c"/><circle cx="78.3" cy="487.1" r="0.75" fill="#4a6a2a"/><circle cx="84.9" cy="487.3" r="2.05" fill="#aa1a2c"/><circle cx="84.9" cy="487.3" r="0.75" fill="#4a6a2a"/><circle cx="91.5" cy="487.6" r="2.05" fill="#aa1a2c"/><circle cx="91.5" cy="487.6" r="0.75" fill="#4a6a2a"/><circle cx="98.1" cy="488.4" r="2.05" fill="#aa1a2c"/><circle cx="98.1" cy="488.4" r="0.75" fill="#4a6a2a"/><circle cx="104.7" cy="489.6" r="2.05" fill="#aa1a2c"/><circle cx="104.7" cy="489.6" r="0.75" fill="#4a6a2a"/><circle cx="111.3" cy="490.9" r="2.05" fill="#aa1a2c"/><circle cx="111.3" cy="490.9" r="0.75" fill="#4a6a2a"/><circle cx="117.9" cy="492.4" r="2.05" fill="#aa1a2c"/><circle cx="117.9" cy="492.4" r="0.75" fill="#4a6a2a"/><circle cx="124.5" cy="494.1" r="2.05" fill="#aa1a2c"/><circle cx="124.5" cy="494.1" r="0.75" fill="#4a6a2a"/><circle cx="131.1" cy="496" r="2.05" fill="#aa1a2c"/><circle cx="131.1" cy="496" r="0.75" fill="#4a6a2a"/><path d="M78.3,403.6 L79.8,403.6 L81.3,403.6 L82.8,403.6 L84.3,403.6 L85.8,403.6 L87.3,403.6 L88.8,403.5 L90.3,403.5 L91.8,403.5 L93.3,403.5 L94.8,403.5 L96.3,403.5 L97.8,403.4 L99.3,403.4 L100.8,403.4 L102.3,403.4 L103.8,403.3 L105.3,403.3 L106.8,403.3 L108.3,403.3 L109.8,403.2 L111.3,403.2 L112.8,403.2 L114.3,403.1 L115.8,403.1 L117.3,403.1 L118.8,403 L120.3,403 L121.8,402.9 L123.3,402.9 L124.8,402.8 L126.3,402.7 L127.8,402.7 L129.3,402.6 L130.8,402.5 L132.3,402.5 L133.8,402.4 L135.3,402.3 L136.8,402.3 L138.3,402.2 L139.8,402.1 L141.3,402 L142.8,402 L144.3,401.9 L145.8,401.8 L147.3,401.7 L148.8,401.7 L150.3,401.6 L151.8,401.5 L153.3,401.4 L154.8,401.3 L156.3,401.2 L157.8,401.1 L159.3,401 L160.8,400.9 L162.3,400.8 L163.8,400.7 L165.3,400.6 L166.8,400.5 L168.3,400.4 L169.8,400.3 L171.3,400.2 L172.8,400.1 L174.3,400 L175.8,399.9 L177.3,399.8 L178.8,399.7 L180.3,399.6 L181.8,399.5 L183.3,399.5 L184.8,399.4 L186.3,399.3 L187.8,399.2 L189.3,399.1 L190.8,399 L192.3,398.9 L193.8,398.8 L195.3,398.7 L196.8,398.6 L198.3,398.5 L199.8,398.4 L201.3,398.3 L202.8,398.1 L204.3,398 L205.8,397.9 L207.3,397.7 L208.8,397.6 L210.3,397.5 L211.8,397.4 L213.3,397.3 L214.8,397.2 L216.3,397.1 L217.8,397 L219.3,396.9 L220.8,396.8 L222.3,396.7 L223.8,396.6 L225.3,396.6 L226.8,396.5 L228.3,396.4 L229.8,396.3 L231.3,396.2 L232.8,396.1 L234.3,396 L235.8,396 L237.3,395.9 L238.8,395.8 L240.3,395.7 L241.8,395.6 L243.3,395.5 L244.8,395.4 L246.3,395.3 L247.8,395.2 L249.3,395.2 L250.8,395.1 L252.3,395 L253.8,394.9 L255.3,394.8 L256.8,394.7 L258.3,394.6 L259.8,394.6 L261.3,394.5 L262.8,394.4 L264.3,394.3 L265.8,394.3 L267.3,394.2 L268.8,394.1 L270.3,394.1 L271.8,394 L273.3,393.9 L274.8,393.9 L276.3,393.8 L277.8,393.7 L279.3,393.7 L280.8,393.6 L282.3,393.6 L283.8,393.5 L285.3,393.4 L286.8,393.4 L288.3,393.3 L289.8,393.3 L291.3,393.2 L292.8,393.2 L294.3,393.1 L295.8,393.1 L297.3,393.1 L298.8,393 L300.3,393 L301.8,392.9 L303.3,392.9 L304.8,392.8 L306.3,392.8 L307.8,392.8 L309.3,392.7 L310.8,392.7 L312.3,392.7 L313.8,392.6 L315.3,392.6 L316.8,392.6 L318.3,392.6 L319.8,392.5 L321.3,392.5 L322.8,392.5 L324.3,392.5 L325.8,392.5 L327.3,392.4 L328.8,392.4 L330.3,392.4 L331.8,392.4 L333.3,392.4 L334.8,392.3 L336.3,392.3 L337.8,392.3 L339.3,392.3 L340.8,392.3 L342.3,392.3" fill="none" stroke="#525252" stroke-width="1.0"/><circle cx="78.3" cy="403.6" r="2.3" fill="none" stroke="#3c30d8" stroke-width="1.3"/><circle cx="78.3" cy="403.6" r="0.9" fill="#b06070"/><circle cx="84.9" cy="403.6" r="2.3" fill="none" stroke="#3c30d8" stroke-width="1.3"/><circle cx="84.9" cy="403.6" r="0.9" fill="#b06070"/><circle cx="91.5" cy="403.5" r="2.3" fill="none" stroke="#3c30d8" stroke-width="1.3"/><circle cx="91.5" cy="403.5" r="0.9" fill="#b06070"/><circle cx="98.1" cy="403.4" r="2.3" fill="none" stroke="#3c30d8" stroke-width="1.3"/><circle cx="98.1" cy="403.4" r="0.9" fill="#b06070"/><circle cx="104.7" cy="403.3" r="2.3" fill="none" stroke="#3c30d8" stroke-width="1.3"/><circle cx="104.7" cy="403.3" r="0.9" fill="#b06070"/><circle cx="111.3" cy="403.2" r="2.3" fill="none" stroke="#3c30d8" stroke-width="1.3"/><circle cx="111.3" cy="403.2" r="0.9" fill="#b06070"/><circle cx="117.9" cy="403" r="2.3" fill="none" stroke="#3c30d8" stroke-width="1.3"/><circle cx="117.9" cy="403" r="0.9" fill="#b06070"/><circle cx="124.5" cy="402.8" r="2.3" fill="none" stroke="#3c30d8" stroke-width="1.3"/><circle cx="124.5" cy="402.8" r="0.9" fill="#b06070"/><circle cx="131.1" cy="402.5" r="2.3" fill="none" stroke="#3c30d8" stroke-width="1.3"/><circle cx="131.1" cy="402.5" r="0.9" fill="#b06070"/><circle cx="137.7" cy="402.2" r="2.3" fill="none" stroke="#3c30d8" stroke-width="1.3"/><circle cx="137.7" cy="402.2" r="0.9" fill="#b06070"/><circle cx="144.3" cy="401.9" r="2.3" fill="none" stroke="#3c30d8" stroke-width="1.3"/><circle cx="144.3" cy="401.9" r="0.9" fill="#b06070"/><circle cx="150.9" cy="401.5" r="2.3" fill="none" stroke="#3c30d8" stroke-width="1.3"/><circle cx="150.9" cy="401.5" r="0.9" fill="#b06070"/><circle cx="157.5" cy="401.1" r="2.3" fill="none" stroke="#3c30d8" stroke-width="1.3"/><circle cx="157.5" cy="401.1" r="0.9" fill="#b06070"/><circle cx="164.1" cy="400.6" r="2.3" fill="none" stroke="#3c30d8" stroke-width="1.3"/><circle cx="164.1" cy="400.6" r="0.9" fill="#b06070"/><circle cx="170.7" cy="400.2" r="2.3" fill="none" stroke="#3c30d8" stroke-width="1.3"/><circle cx="170.7" cy="400.2" r="0.9" fill="#b06070"/><circle cx="177.3" cy="399.8" r="2.3" fill="none" stroke="#3c30d8" stroke-width="1.3"/><circle cx="177.3" cy="399.8" r="0.9" fill="#b06070"/><circle cx="183.9" cy="399.4" r="2.3" fill="none" stroke="#3c30d8" stroke-width="1.3"/><circle cx="183.9" cy="399.4" r="0.9" fill="#b06070"/><circle cx="190.5" cy="399" r="2.3" fill="none" stroke="#3c30d8" stroke-width="1.3"/><circle cx="190.5" cy="399" r="0.9" fill="#b06070"/><circle cx="197.1" cy="398.6" r="2.3" fill="none" stroke="#3c30d8" stroke-width="1.3"/><circle cx="197.1" cy="398.6" r="0.9" fill="#b06070"/><circle cx="203.7" cy="398.1" r="2.3" fill="none" stroke="#3c30d8" stroke-width="1.3"/><circle cx="203.7" cy="398.1" r="0.9" fill="#b06070"/><circle cx="210.3" cy="397.5" r="2.3" fill="none" stroke="#3c30d8" stroke-width="1.3"/><circle cx="210.3" cy="397.5" r="0.9" fill="#b06070"/><circle cx="216.9" cy="397.1" r="2.3" fill="none" stroke="#3c30d8" stroke-width="1.3"/><circle cx="216.9" cy="397.1" r="0.9" fill="#b06070"/><circle cx="223.5" cy="396.7" r="2.3" fill="none" stroke="#3c30d8" stroke-width="1.3"/><circle cx="223.5" cy="396.7" r="0.9" fill="#b06070"/><circle cx="230.1" cy="396.3" r="2.3" fill="none" stroke="#3c30d8" stroke-width="1.3"/><circle cx="230.1" cy="396.3" r="0.9" fill="#b06070"/><circle cx="236.7" cy="395.9" r="2.3" fill="none" stroke="#3c30d8" stroke-width="1.3"/><circle cx="236.7" cy="395.9" r="0.9" fill="#b06070"/><circle cx="243.3" cy="395.5" r="2.3" fill="none" stroke="#3c30d8" stroke-width="1.3"/><circle cx="243.3" cy="395.5" r="0.9" fill="#b06070"/><circle cx="249.9" cy="395.1" r="2.3" fill="none" stroke="#3c30d8" stroke-width="1.3"/><circle cx="249.9" cy="395.1" r="0.9" fill="#b06070"/><circle cx="256.5" cy="394.7" r="2.3" fill="none" stroke="#3c30d8" stroke-width="1.3"/><circle cx="256.5" cy="394.7" r="0.9" fill="#b06070"/><circle cx="263.1" cy="394.4" r="2.3" fill="none" stroke="#3c30d8" stroke-width="1.3"/><circle cx="263.1" cy="394.4" r="0.9" fill="#b06070"/><circle cx="269.7" cy="394.1" r="2.3" fill="none" stroke="#3c30d8" stroke-width="1.3"/><circle cx="269.7" cy="394.1" r="0.9" fill="#b06070"/><circle cx="276.3" cy="393.8" r="2.3" fill="none" stroke="#3c30d8" stroke-width="1.3"/><circle cx="276.3" cy="393.8" r="0.9" fill="#b06070"/><circle cx="282.9" cy="393.5" r="2.3" fill="none" stroke="#3c30d8" stroke-width="1.3"/><circle cx="282.9" cy="393.5" r="0.9" fill="#b06070"/><circle cx="289.5" cy="393.3" r="2.3" fill="none" stroke="#3c30d8" stroke-width="1.3"/><circle cx="289.5" cy="393.3" r="0.9" fill="#b06070"/><circle cx="296.1" cy="393.1" r="2.3" fill="none" stroke="#3c30d8" stroke-width="1.3"/><circle cx="296.1" cy="393.1" r="0.9" fill="#b06070"/><circle cx="302.7" cy="392.9" r="2.3" fill="none" stroke="#3c30d8" stroke-width="1.3"/><circle cx="302.7" cy="392.9" r="0.9" fill="#b06070"/><circle cx="309.3" cy="392.7" r="2.3" fill="none" stroke="#3c30d8" stroke-width="1.3"/><circle cx="309.3" cy="392.7" r="0.9" fill="#b06070"/><circle cx="315.9" cy="392.6" r="2.3" fill="none" stroke="#3c30d8" stroke-width="1.3"/><circle cx="315.9" cy="392.6" r="0.9" fill="#b06070"/><circle cx="322.5" cy="392.5" r="2.3" fill="none" stroke="#3c30d8" stroke-width="1.3"/><circle cx="322.5" cy="392.5" r="0.9" fill="#b06070"/><circle cx="329.1" cy="392.4" r="2.3" fill="none" stroke="#3c30d8" stroke-width="1.3"/><circle cx="329.1" cy="392.4" r="0.9" fill="#b06070"/><circle cx="335.7" cy="392.3" r="2.3" fill="none" stroke="#3c30d8" stroke-width="1.3"/><circle cx="335.7" cy="392.3" r="0.9" fill="#b06070"/><circle cx="342.3" cy="392.3" r="2.3" fill="none" stroke="#3c30d8" stroke-width="1.3"/><circle cx="342.3" cy="392.3" r="0.9" fill="#b06070"/></g>
<g stroke="#3a3a3a" stroke-width="1.1"><line x1="75.5" y1="493.1" x2="78.3" y2="493.1"/><line x1="342.3" y1="493.1" x2="344.2" y2="493.1"/><line x1="73.5" y1="478.8" x2="78.3" y2="478.8"/><line x1="342.3" y1="478.8" x2="346.3" y2="478.8"/><line x1="75.5" y1="464.4" x2="78.3" y2="464.4"/><line x1="342.3" y1="464.4" x2="344.2" y2="464.4"/><line x1="75.5" y1="450.1" x2="78.3" y2="450.1"/><line x1="342.3" y1="450.1" x2="344.2" y2="450.1"/><line x1="75.5" y1="435.7" x2="78.3" y2="435.7"/><line x1="342.3" y1="435.7" x2="344.2" y2="435.7"/><line x1="73.5" y1="421.4" x2="78.3" y2="421.4"/><line x1="342.3" y1="421.4" x2="346.3" y2="421.4"/><line x1="75.5" y1="407.1" x2="78.3" y2="407.1"/><line x1="342.3" y1="407.1" x2="344.2" y2="407.1"/><line x1="75.5" y1="392.7" x2="78.3" y2="392.7"/><line x1="342.3" y1="392.7" x2="344.2" y2="392.7"/><line x1="75.5" y1="378.4" x2="78.3" y2="378.4"/><line x1="342.3" y1="378.4" x2="344.2" y2="378.4"/><line x1="73.5" y1="364" x2="78.3" y2="364"/><line x1="342.3" y1="364" x2="346.3" y2="364"/><line x1="75.5" y1="349.7" x2="78.3" y2="349.7"/><line x1="342.3" y1="349.7" x2="344.2" y2="349.7"/><line x1="75.5" y1="335.3" x2="78.3" y2="335.3"/><line x1="342.3" y1="335.3" x2="344.2" y2="335.3"/><line x1="75.5" y1="321" x2="78.3" y2="321"/><line x1="342.3" y1="321" x2="344.2" y2="321"/><line x1="73.5" y1="306.7" x2="78.3" y2="306.7"/><line x1="342.3" y1="306.7" x2="346.3" y2="306.7"/><line x1="75.5" y1="292.3" x2="78.3" y2="292.3"/><line x1="342.3" y1="292.3" x2="344.2" y2="292.3"/><line x1="75.5" y1="278" x2="78.3" y2="278"/><line x1="342.3" y1="278" x2="344.2" y2="278"/><line x1="75.5" y1="263.6" x2="78.3" y2="263.6"/><line x1="342.3" y1="263.6" x2="344.2" y2="263.6"/><line x1="73.5" y1="249.3" x2="78.3" y2="249.3"/><line x1="342.3" y1="249.3" x2="346.3" y2="249.3"/><line x1="75.5" y1="235" x2="78.3" y2="235"/><line x1="342.3" y1="235" x2="344.2" y2="235"/><line x1="75.5" y1="220.6" x2="78.3" y2="220.6"/><line x1="342.3" y1="220.6" x2="344.2" y2="220.6"/><line x1="75.5" y1="206.3" x2="78.3" y2="206.3"/><line x1="342.3" y1="206.3" x2="344.2" y2="206.3"/><line x1="73.5" y1="191.9" x2="78.3" y2="191.9"/><line x1="342.3" y1="191.9" x2="346.3" y2="191.9"/><line x1="75.5" y1="177.6" x2="78.3" y2="177.6"/><line x1="342.3" y1="177.6" x2="344.2" y2="177.6"/><line x1="75.5" y1="163.2" x2="78.3" y2="163.2"/><line x1="342.3" y1="163.2" x2="344.2" y2="163.2"/><line x1="75.5" y1="148.9" x2="78.3" y2="148.9"/><line x1="342.3" y1="148.9" x2="344.2" y2="148.9"/><line x1="73.5" y1="134.6" x2="78.3" y2="134.6"/><line x1="342.3" y1="134.6" x2="346.3" y2="134.6"/><line x1="75.5" y1="120.2" x2="78.3" y2="120.2"/><line x1="342.3" y1="120.2" x2="344.2" y2="120.2"/><line x1="75.5" y1="105.9" x2="78.3" y2="105.9"/><line x1="342.3" y1="105.9" x2="344.2" y2="105.9"/><line x1="75.5" y1="91.5" x2="78.3" y2="91.5"/><line x1="342.3" y1="91.5" x2="344.2" y2="91.5"/><line x1="73.5" y1="77.2" x2="78.3" y2="77.2"/><line x1="342.3" y1="77.2" x2="346.3" y2="77.2"/><line x1="75.5" y1="62.8" x2="78.3" y2="62.8"/><line x1="342.3" y1="62.8" x2="344.2" y2="62.8"/><line x1="75.5" y1="48.5" x2="78.3" y2="48.5"/><line x1="342.3" y1="48.5" x2="344.2" y2="48.5"/></g>
<rect x="78.3" y="48.5" width="264" height="444.6" fill="none" stroke="#1a1a1a" stroke-width="1.4"/>
<g font-family="Liberation Serif, serif" font-size="25" fill="#111"><text x="70.7" y="487.1" text-anchor="end">-1.2</text><text x="70.7" y="429.7" text-anchor="end">-0.8</text><text x="70.7" y="372.3" text-anchor="end">-0.4</text><text x="70.7" y="315" text-anchor="end">0</text><text x="70.7" y="257.6" text-anchor="end">0.4</text><text x="70.7" y="200.2" text-anchor="end">0.8</text><text x="70.7" y="142.9" text-anchor="end">1.2</text><text x="70.7" y="85.5" text-anchor="end">1.6</text></g>
<line x1="438.7" y1="306.5" x2="701.7" y2="306.5" stroke="#999" stroke-width="1.1" stroke-dasharray="3.8 2.7"/>
<g clip-path="url(#cb)"><path d="M437.7,54.5 L439.2,54.5 L440.8,54.5 L442.3,54.5 L443.9,54.5 L445.4,54.5 L446.9,54.4 L448.5,54.4 L450,54.3 L451.5,54.1 L453.1,54 L454.6,53.8 L456.2,53.6 L457.7,53.5 L459.2,53.3 L460.8,53 L462.3,52.7 L463.9,52.4 L465.4,52.1 L466.9,51.7 L468.5,51.3 L470,51 L471.5,50.5 L473.1,50.1 L474.6,49.7 L476.2,49.2 L477.7,48.7 L479.2,48.2 L480.8,47.7 L482.3,47.1 L483.8,46.5 L485.4,45.9 L486.9,45.3 L488.5,44.7 L490,44" fill="none" stroke="#525252" stroke-width="1.0"/><circle cx="437.7" cy="54.5" r="0.85" fill="#2a2a9a"/><circle cx="444.3" cy="54.5" r="0.85" fill="#2a2a9a"/><circle cx="450.9" cy="54.2" r="0.85" fill="#2a2a9a"/><circle cx="457.5" cy="53.5" r="0.85" fill="#2a2a9a"/><circle cx="464.1" cy="52.3" r="0.85" fill="#2a2a9a"/><circle cx="470.7" cy="50.8" r="0.85" fill="#2a2a9a"/><circle cx="477.3" cy="48.8" r="0.85" fill="#2a2a9a"/><circle cx="483.9" cy="46.5" r="0.85" fill="#2a2a9a"/><path d="M437.7,71.5 L439.2,71.5 L440.7,71.5 L442.2,71.6 L443.7,71.6 L445.2,71.7 L446.7,71.7 L448.2,71.8 L449.7,71.8 L451.2,71.9 L452.7,72 L454.2,72.1 L455.7,72.1 L457.2,72.2 L458.7,72.3 L460.2,72.4 L461.7,72.5 L463.2,72.7 L464.7,72.8 L466.2,73 L467.7,73.2 L469.2,73.4 L470.7,73.6 L472.2,73.8 L473.7,74 L475.2,74.2 L476.7,74.4 L478.2,74.6 L479.7,74.7 L481.2,74.9 L482.7,75.1 L484.2,75.2 L485.7,75.4 L487.2,75.5 L488.7,75.7 L490.2,75.8 L491.7,75.9 L493.2,76.1 L494.7,76.2 L496.2,76.3 L497.7,76.5 L499.2,76.6 L500.7,76.7 L502.2,76.8 L503.7,76.9 L505.2,77 L506.7,77.1 L508.2,77.3 L509.7,77.4 L511.2,77.5 L512.7,77.6 L514.2,77.7 L515.7,77.8 L517.2,78 L518.7,78.1 L520.2,78.2 L521.7,78.3 L523.2,78.5 L524.7,78.6 L526.2,78.8 L527.7,78.9 L529.2,79.1 L530.7,79.2 L532.2,79.4 L533.7,79.5 L535.2,79.7 L536.7,79.9 L538.2,80.1 L539.7,80.3 L541.2,80.5 L542.7,80.7 L544.2,80.9 L545.7,81.2 L547.2,81.4 L548.7,81.7 L550.2,81.9 L551.7,82.2 L553.2,82.6 L554.7,82.9 L556.2,83.3 L557.7,83.7 L559.2,84.1 L560.7,84.5 L562.2,84.8 L563.7,85.1 L565.2,85.4 L566.7,85.7 L568.2,86 L569.7,86.3 L571.2,86.5 L572.7,86.8 L574.2,87.1 L575.7,87.4 L577.2,87.7 L578.7,88 L580.2,88.4 L581.7,88.7 L583.2,89.1 L584.7,89.4 L586.2,89.8 L587.7,90.1 L589.2,90.5 L590.7,90.9 L592.2,91.2 L593.7,91.6 L595.2,92 L596.7,92.3 L598.2,92.7 L599.7,93.1 L601.2,93.4 L602.7,93.8 L604.2,94.2 L605.7,94.6 L607.2,95 L608.7,95.4 L610.2,95.9 L611.7,96.3 L613.2,96.7 L614.7,97 L616.2,97.4 L617.7,97.7 L619.2,98.1 L620.7,98.4 L622.2,98.7 L623.7,99 L625.2,99.3 L626.7,99.6 L628.2,99.9 L629.7,100.2 L631.2,100.5 L632.7,100.8 L634.2,101.1 L635.7,101.4 L637.2,101.7 L638.7,102 L640.2,102.3 L641.7,102.5 L643.2,102.7 L644.7,102.9 L646.2,103.1 L647.7,103.3 L649.2,103.5 L650.7,103.7 L652.2,103.8 L653.7,104 L655.2,104.2 L656.7,104.3 L658.2,104.4 L659.7,104.6 L661.2,104.7 L662.7,104.8 L664.2,105 L665.7,105.1 L667.2,105.2 L668.7,105.3 L670.2,105.4 L671.7,105.5 L673.2,105.6 L674.7,105.7 L676.2,105.8 L677.7,105.9 L679.2,105.9 L680.7,106 L682.2,106.1 L683.7,106.1 L685.2,106.2 L686.7,106.2 L688.2,106.3 L689.7,106.3 L691.2,106.3 L692.7,106.4 L694.2,106.4 L695.7,106.4 L697.2,106.5 L698.7,106.5 L700.2,106.5 L701.7,106.5" fill="none" stroke="#525252" stroke-width="1.0"/><circle cx="437.7" cy="71.5" r="1.35" fill="#2ab82a"/><circle cx="444.3" cy="71.6" r="1.35" fill="#2ab82a"/><circle cx="450.9" cy="71.9" r="1.35" fill="#2ab82a"/><circle cx="457.5" cy="72.2" r="1.35" fill="#2ab82a"/><circle cx="464.1" cy="72.8" r="1.35" fill="#2ab82a"/><circle cx="470.7" cy="73.6" r="1.35" fill="#2ab82a"/><circle cx="477.3" cy="74.4" r="1.35" fill="#2ab82a"/><circle cx="483.9" cy="75.2" r="2.0" fill="#2ec82e"/><circle cx="483.9" cy="75.2" r="0.7" fill="#1a8a1a"/><circle cx="490.5" cy="75.8" r="2.0" fill="#2ec82e"/><circle cx="490.5" cy="75.8" r="0.7" fill="#1a8a1a"/><circle cx="497.1" cy="76.4" r="2.0" fill="#2ec82e"/><circle cx="497.1" cy="76.4" r="0.7" fill="#1a8a1a"/><circle cx="503.7" cy="76.9" r="2.3" fill="none" stroke="#4ef04e" stroke-width="1.3"/><circle cx="503.7" cy="76.9" r="0.8" fill="#8a8a8a"/><circle cx="510.3" cy="77.4" r="2.3" fill="none" stroke="#4ef04e" stroke-width="1.3"/><circle cx="510.3" cy="77.4" r="0.8" fill="#8a8a8a"/><circle cx="516.9" cy="77.9" r="2.3" fill="none" stroke="#4ef04e" stroke-width="1.3"/><circle cx="516.9" cy="77.9" r="0.8" fill="#8a8a8a"/><circle cx="523.5" cy="78.5" r="2.3" fill="none" stroke="#4ef04e" stroke-width="1.3"/><circle cx="523.5" cy="78.5" r="0.8" fill="#8a8a8a"/><circle cx="530.1" cy="79.1" r="2.3" fill="none" stroke="#4ef04e" stroke-width="1.3"/><circle cx="530.1" cy="79.1" r="0.8" fill="#8a8a8a"/><circle cx="536.7" cy="79.9" r="2.3" fill="none" stroke="#4ef04e" stroke-width="1.3"/><circle cx="536.7" cy="79.9" r="0.8" fill="#8a8a8a"/><circle cx="543.3" cy="80.8" r="2.3" fill="none" stroke="#4ef04e" stroke-width="1.3"/><circle cx="543.3" cy="80.8" r="0.8" fill="#8a8a8a"/><circle cx="549.9" cy="81.9" r="2.3" fill="none" stroke="#4ef04e" stroke-width="1.3"/><circle cx="549.9" cy="81.9" r="0.8" fill="#8a8a8a"/><circle cx="556.5" cy="83.4" r="2.3" fill="none" stroke="#4ef04e" stroke-width="1.3"/><circle cx="556.5" cy="83.4" r="0.8" fill="#8a8a8a"/><circle cx="563.1" cy="85" r="2.3" fill="none" stroke="#4ef04e" stroke-width="1.3"/><circle cx="563.1" cy="85" r="0.8" fill="#8a8a8a"/><circle cx="569.7" cy="86.3" r="2.3" fill="none" stroke="#4ef04e" stroke-width="1.3"/><circle cx="569.7" cy="86.3" r="0.8" fill="#8a8a8a"/><circle cx="576.3" cy="87.5" r="2.3" fill="none" stroke="#4ef04e" stroke-width="1.3"/><circle cx="576.3" cy="87.5" r="0.8" fill="#8a8a8a"/><circle cx="582.9" cy="89" r="2.3" fill="none" stroke="#4ef04e" stroke-width="1.3"/><circle cx="582.9" cy="89" r="0.8" fill="#8a8a8a"/><circle cx="589.5" cy="90.6" r="2.3" fill="none" stroke="#4ef04e" stroke-width="1.3"/><circle cx="589.5" cy="90.6" r="0.8" fill="#8a8a8a"/><circle cx="596.1" cy="92.2" r="2.3" fill="none" stroke="#4ef04e" stroke-width="1.3"/><circle cx="596.1" cy="92.2" r="0.8" fill="#8a8a8a"/><circle cx="602.7" cy="93.8" r="2.3" fill="none" stroke="#4ef04e" stroke-width="1.3"/><circle cx="602.7" cy="93.8" r="0.8" fill="#8a8a8a"/><circle cx="609.3" cy="95.6" r="2.3" fill="none" stroke="#4ef04e" stroke-width="1.3"/><circle cx="609.3" cy="95.6" r="0.8" fill="#8a8a8a"/><circle cx="615.9" cy="97.3" r="2.3" fill="none" stroke="#4ef04e" stroke-width="1.3"/><circle cx="615.9" cy="97.3" r="0.8" fill="#8a8a8a"/><circle cx="622.5" cy="98.7" r="2.3" fill="none" stroke="#4ef04e" stroke-width="1.3"/><circle cx="622.5" cy="98.7" r="0.8" fill="#8a8a8a"/><circle cx="629.1" cy="100.1" r="2.3" fill="none" stroke="#4ef04e" stroke-width="1.3"/><circle cx="629.1" cy="100.1" r="0.8" fill="#8a8a8a"/><circle cx="635.7" cy="101.4" r="2.3" fill="none" stroke="#4ef04e" stroke-width="1.3"/><circle cx="635.7" cy="101.4" r="0.8" fill="#8a8a8a"/><circle cx="642.3" cy="102.6" r="2.3" fill="none" stroke="#4ef04e" stroke-width="1.3"/><circle cx="642.3" cy="102.6" r="0.8" fill="#8a8a8a"/><circle cx="648.9" cy="103.5" r="2.3" fill="none" stroke="#4ef04e" stroke-width="1.3"/><circle cx="648.9" cy="103.5" r="0.8" fill="#8a8a8a"/><circle cx="655.5" cy="104.2" r="2.3" fill="none" stroke="#4ef04e" stroke-width="1.3"/><circle cx="655.5" cy="104.2" r="0.8" fill="#8a8a8a"/><circle cx="662.1" cy="104.8" r="2.3" fill="none" stroke="#4ef04e" stroke-width="1.3"/><circle cx="662.1" cy="104.8" r="0.8" fill="#8a8a8a"/><circle cx="668.7" cy="105.3" r="2.3" fill="none" stroke="#4ef04e" stroke-width="1.3"/><circle cx="668.7" cy="105.3" r="0.8" fill="#8a8a8a"/><circle cx="675.3" cy="105.7" r="2.3" fill="none" stroke="#4ef04e" stroke-width="1.3"/><circle cx="675.3" cy="105.7" r="0.8" fill="#8a8a8a"/><circle cx="681.9" cy="106" r="2.3" fill="none" stroke="#4ef04e" stroke-width="1.3"/><circle cx="681.9" cy="106" r="0.8" fill="#8a8a8a"/><circle cx="688.5" cy="106.3" r="2.3" fill="none" stroke="#4ef04e" stroke-width="1.3"/><circle cx="688.5" cy="106.3" r="0.8" fill="#8a8a8a"/><circle cx="695.1" cy="106.4" r="2.3" fill="none" stroke="#4ef04e" stroke-width="1.3"/><circle cx="695.1" cy="106.4" r="0.8" fill="#8a8a8a"/><circle cx="701.7" cy="106.5" r="2.3" fill="none" stroke="#4ef04e" stroke-width="1.3"/><circle cx="701.7" cy="106.5" r="0.8" fill="#8a8a8a"/><path d="M437.7,94.3 L439.2,94.3 L440.7,94.3 L442.2,94.3 L443.7,94.3 L445.2,94.4 L446.7,94.4 L448.2,94.4 L449.7,94.5 L451.2,94.5 L452.7,94.6 L454.2,94.6 L455.7,94.7 L457.2,94.7 L458.7,94.8 L460.2,94.9 L461.7,94.9 L463.2,95 L464.7,95.1 L466.2,95.2 L467.7,95.3 L469.2,95.3 L470.7,95.4 L472.2,95.5 L473.7,95.6 L475.2,95.7 L476.7,95.8 L478.2,95.9 L479.7,96 L481.2,96.1 L482.7,96.2 L484.2,96.3 L485.7,96.4 L487.2,96.6 L488.7,96.8 L490.2,97 L491.7,97.2 L493.2,97.4 L494.7,97.6 L496.2,97.8 L497.7,98 L499.2,98.1 L500.7,98.3 L502.2,98.4 L503.7,98.5 L505.2,98.7 L506.7,98.8 L508.2,98.9 L509.7,99.1 L511.2,99.2 L512.7,99.4 L514.2,99.5 L515.7,99.7 L517.2,99.9 L518.7,100 L520.2,100.1 L521.7,100.2 L523.2,100.3 L524.7,100.3 L526.2,100.4 L527.7,100.4 L529.2,100.4 L530.7,100.4 L532.2,100.4 L533.7,100.5 L535.2,100.5 L536.7,100.5 L538.2,100.5 L539.7,100.6 L541.2,100.6 L542.7,100.6 L544.2,100.7 L545.7,100.7 L547.2,100.8 L548.7,100.8 L550.2,100.9 L551.7,101 L553.2,101.1 L554.7,101.2 L556.2,101.4 L557.7,101.5 L559.2,101.6 L560.7,101.8 L562.2,101.9 L563.7,102.1 L565.2,102.2 L566.7,102.3 L568.2,102.4 L569.7,102.6 L571.2,102.7 L572.7,102.8 L574.2,103 L575.7,103.1 L577.2,103.3 L578.7,103.5 L580.2,103.6 L581.7,103.8 L583.2,104 L584.7,104.2 L586.2,104.4 L587.7,104.6 L589.2,104.8 L590.7,105 L592.2,105.3 L593.7,105.5 L595.2,105.8 L596.7,106.1 L598.2,106.4 L599.7,106.7 L601.2,107 L602.7,107.3 L604.2,107.5 L605.7,107.7 L607.2,107.9 L608.7,108.2 L610.2,108.4 L611.7,108.6 L613.2,108.8 L614.7,109 L616.2,109.3 L617.7,109.5 L619.2,109.7 L620.7,110 L622.2,110.2 L623.7,110.5 L625.2,110.7 L626.7,111 L628.2,111.2 L629.7,111.4 L631.2,111.6 L632.7,111.9 L634.2,112.1 L635.7,112.3 L637.2,112.5 L638.7,112.7 L640.2,112.8 L641.7,113 L643.2,113.2 L644.7,113.3 L646.2,113.4 L647.7,113.6 L649.2,113.7 L650.7,113.8 L652.2,113.9 L653.7,114 L655.2,114.1 L656.7,114.2 L658.2,114.4 L659.7,114.5 L661.2,114.5 L662.7,114.6 L664.2,114.7 L665.7,114.8 L667.2,114.9 L668.7,115 L670.2,115 L671.7,115.1 L673.2,115.2 L674.7,115.2 L676.2,115.3 L677.7,115.3 L679.2,115.4 L680.7,115.4 L682.2,115.4 L683.7,115.5 L685.2,115.5 L686.7,115.5 L688.2,115.6 L689.7,115.6 L691.2,115.6 L692.7,115.6 L694.2,115.7 L695.7,115.7 L697.2,115.7 L698.7,115.7 L700.2,115.7 L701.7,115.7" fill="none" stroke="#525252" stroke-width="1.0"/><circle cx="437.7" cy="94.3" r="1.35" fill="#2ab82a"/><circle cx="444.3" cy="94.4" r="1.35" fill="#2ab82a"/><circle cx="450.9" cy="94.5" r="1.35" fill="#2ab82a"/><circle cx="457.5" cy="94.7" r="1.35" fill="#2ab82a"/><circle cx="464.1" cy="95.1" r="1.35" fill="#2ab82a"/><circle cx="470.7" cy="95.4" r="1.35" fill="#2ab82a"/><circle cx="477.3" cy="95.8" r="1.35" fill="#2ab82a"/><circle cx="483.9" cy="96.3" r="1.35" fill="#2ab82a"/><circle cx="490.5" cy="97" r="1.35" fill="#2ab82a"/><circle cx="497.1" cy="97.9" r="1.35" fill="#2ab82a"/><circle cx="503.7" cy="98.5" r="1.35" fill="#2ab82a"/><circle cx="510.3" cy="99.1" r="2.0" fill="#2ec82e"/><circle cx="510.3" cy="99.1" r="0.7" fill="#1a8a1a"/><circle cx="516.9" cy="99.8" r="2.0" fill="#2ec82e"/><circle cx="516.9" cy="99.8" r="0.7" fill="#1a8a1a"/><circle cx="523.5" cy="100.3" r="2.0" fill="#2ec82e"/><circle cx="523.5" cy="100.3" r="0.7" fill="#1a8a1a"/><circle cx="530.1" cy="100.4" r="2.0" fill="#2ec82e"/><circle cx="530.1" cy="100.4" r="0.7" fill="#1a8a1a"/><circle cx="536.7" cy="100.5" r="2.3" fill="none" stroke="#4ef04e" stroke-width="1.3"/><circle cx="536.7" cy="100.5" r="0.8" fill="#8a8a8a"/><circle cx="543.3" cy="100.7" r="2.3" fill="none" stroke="#4ef04e" stroke-width="1.3"/><circle cx="543.3" cy="100.7" r="0.8" fill="#8a8a8a"/><circle cx="549.9" cy="100.9" r="2.3" fill="none" stroke="#4ef04e" stroke-width="1.3"/><circle cx="549.9" cy="100.9" r="0.8" fill="#8a8a8a"/><circle cx="556.5" cy="101.4" r="2.3" fill="none" stroke="#4ef04e" stroke-width="1.3"/><circle cx="556.5" cy="101.4" r="0.8" fill="#8a8a8a"/><circle cx="563.1" cy="102" r="2.3" fill="none" stroke="#4ef04e" stroke-width="1.3"/><circle cx="563.1" cy="102" r="0.8" fill="#8a8a8a"/><circle cx="569.7" cy="102.6" r="2.3" fill="none" stroke="#4ef04e" stroke-width="1.3"/><circle cx="569.7" cy="102.6" r="0.8" fill="#8a8a8a"/><circle cx="576.3" cy="103.2" r="2.3" fill="none" stroke="#4ef04e" stroke-width="1.3"/><circle cx="576.3" cy="103.2" r="0.8" fill="#8a8a8a"/><circle cx="582.9" cy="103.9" r="2.3" fill="none" stroke="#4ef04e" stroke-width="1.3"/><circle cx="582.9" cy="103.9" r="0.8" fill="#8a8a8a"/><circle cx="589.5" cy="104.8" r="2.3" fill="none" stroke="#4ef04e" stroke-width="1.3"/><circle cx="589.5" cy="104.8" r="0.8" fill="#8a8a8a"/><circle cx="596.1" cy="106" r="2.3" fill="none" stroke="#4ef04e" stroke-width="1.3"/><circle cx="596.1" cy="106" r="0.8" fill="#8a8a8a"/><circle cx="602.7" cy="107.3" r="2.3" fill="none" stroke="#4ef04e" stroke-width="1.3"/><circle cx="602.7" cy="107.3" r="0.8" fill="#8a8a8a"/><circle cx="609.3" cy="108.3" r="2.3" fill="none" stroke="#4ef04e" stroke-width="1.3"/><circle cx="609.3" cy="108.3" r="0.8" fill="#8a8a8a"/><circle cx="615.9" cy="109.2" r="2.3" fill="none" stroke="#4ef04e" stroke-width="1.3"/><circle cx="615.9" cy="109.2" r="0.8" fill="#8a8a8a"/><circle cx="622.5" cy="110.3" r="2.3" fill="none" stroke="#4ef04e" stroke-width="1.3"/><circle cx="622.5" cy="110.3" r="0.8" fill="#8a8a8a"/><circle cx="629.1" cy="111.3" r="2.3" fill="none" stroke="#4ef04e" stroke-width="1.3"/><circle cx="629.1" cy="111.3" r="0.8" fill="#8a8a8a"/><circle cx="635.7" cy="112.3" r="2.3" fill="none" stroke="#4ef04e" stroke-width="1.3"/><circle cx="635.7" cy="112.3" r="0.8" fill="#8a8a8a"/><circle cx="642.3" cy="113.1" r="2.3" fill="none" stroke="#4ef04e" stroke-width="1.3"/><circle cx="642.3" cy="113.1" r="0.8" fill="#8a8a8a"/><circle cx="648.9" cy="113.7" r="2.3" fill="none" stroke="#4ef04e" stroke-width="1.3"/><circle cx="648.9" cy="113.7" r="0.8" fill="#8a8a8a"/><circle cx="655.5" cy="114.2" r="2.3" fill="none" stroke="#4ef04e" stroke-width="1.3"/><circle cx="655.5" cy="114.2" r="0.8" fill="#8a8a8a"/><circle cx="662.1" cy="114.6" r="2.3" fill="none" stroke="#4ef04e" stroke-width="1.3"/><circle cx="662.1" cy="114.6" r="0.8" fill="#8a8a8a"/><circle cx="668.7" cy="115" r="2.3" fill="none" stroke="#4ef04e" stroke-width="1.3"/><circle cx="668.7" cy="115" r="0.8" fill="#8a8a8a"/><circle cx="675.3" cy="115.2" r="2.3" fill="none" stroke="#4ef04e" stroke-width="1.3"/><circle cx="675.3" cy="115.2" r="0.8" fill="#8a8a8a"/><circle cx="681.9" cy="115.4" r="2.3" fill="none" stroke="#4ef04e" stroke-width="1.3"/><circle cx="681.9" cy="115.4" r="0.8" fill="#8a8a8a"/><circle cx="688.5" cy="115.6" r="2.3" fill="none" stroke="#4ef04e" stroke-width="1.3"/><circle cx="688.5" cy="115.6" r="0.8" fill="#8a8a8a"/><circle cx="695.1" cy="115.7" r="2.3" fill="none" stroke="#4ef04e" stroke-width="1.3"/><circle cx="695.1" cy="115.7" r="0.8" fill="#8a8a8a"/><circle cx="701.7" cy="115.7" r="2.3" fill="none" stroke="#4ef04e" stroke-width="1.3"/><circle cx="701.7" cy="115.7" r="0.8" fill="#8a8a8a"/><path d="M437.7,94.8 L439.2,94.8 L440.7,94.8 L442.2,94.8 L443.7,94.9 L445.2,94.9 L446.7,94.9 L448.2,95 L449.7,95 L451.2,95 L452.7,95.1 L454.2,95.2 L455.7,95.2 L457.2,95.3 L458.7,95.3 L460.2,95.4 L461.7,95.5 L463.2,95.6 L464.7,95.6 L466.2,95.7 L467.7,95.8 L469.2,95.9 L470.7,96 L472.2,96.1 L473.7,96.2 L475.2,96.2 L476.7,96.3 L478.2,96.4 L479.7,96.5 L481.2,96.6 L482.7,96.7 L484.2,96.8 L485.7,96.9 L487.2,97 L488.7,97.2 L490.2,97.3 L491.7,97.5 L493.2,97.6 L494.7,97.8 L496.2,98 L497.7,98.2 L499.2,98.4 L500.7,98.5 L502.2,98.7 L503.7,98.9 L505.2,99.1 L506.7,99.3 L508.2,99.4 L509.7,99.6 L511.2,99.7 L512.7,99.8 L514.2,100 L515.7,100.1 L517.2,100.2 L518.7,100.3 L520.2,100.5 L521.7,100.6 L523.2,100.8 L524.7,101 L526.2,101.2 L527.7,101.4 L529.2,101.7 L530.7,101.9 L532.2,102.2 L533.7,102.5 L535.2,102.8 L536.7,103.2 L538.2,103.6 L539.7,104 L541.2,104.5 L542.7,105 L544.2,105.5 L545.7,106 L547.2,106.6 L548.7,107.1 L550.2,107.7 L551.7,108.3 L553.2,108.9 L554.7,109.5 L556.2,110.1 L557.7,110.7 L559.2,111.4 L560.7,112 L562.2,112.7 L563.7,113.3 L565.2,113.9 L566.7,114.5 L568.2,115.2 L569.7,115.8 L571.2,116.4 L572.7,117.1 L574.2,117.7 L575.7,118.3 L577.2,119 L578.7,119.6 L580.2,120.3 L581.7,120.9 L583.2,121.6 L584.7,122.3 L586.2,123 L587.7,123.7 L589.2,124.4 L590.7,125.2 L592.2,125.9 L593.7,126.7 L595.2,127.5 L596.7,128.2 L598.2,128.9 L599.7,129.6 L601.2,130.2 L602.7,130.9 L604.2,131.5 L605.7,132.1 L607.2,132.7 L608.7,133.2 L610.2,133.8 L611.7,134.3 L613.2,134.9 L614.7,135.4 L616.2,135.9 L617.7,136.4 L619.2,137 L620.7,137.5 L622.2,138 L623.7,138.5 L625.2,138.9 L626.7,139.4 L628.2,139.8 L629.7,140.2 L631.2,140.6 L632.7,140.9 L634.2,141.3 L635.7,141.7 L637.2,142 L638.7,142.3 L640.2,142.6 L641.7,142.8 L643.2,143.1 L644.7,143.3 L646.2,143.5 L647.7,143.6 L649.2,143.8 L650.7,144 L652.2,144.1 L653.7,144.2 L655.2,144.3 L656.7,144.3 L658.2,144.3 L659.7,144.4 L661.2,144.4 L662.7,144.4 L664.2,144.4 L665.7,144.5 L667.2,144.5 L668.7,144.5 L670.2,144.5 L671.7,144.5 L673.2,144.6 L674.7,144.6 L676.2,144.6 L677.7,144.6 L679.2,144.6 L680.7,144.6 L682.2,144.6 L683.7,144.6 L685.2,144.7 L686.7,144.7 L688.2,144.7 L689.7,144.7 L691.2,144.7 L692.7,144.7 L694.2,144.7 L695.7,144.7 L697.2,144.7 L698.7,144.7 L700.2,144.7 L701.7,144.7" fill="none" stroke="#525252" stroke-width="1.0"/><circle cx="437.7" cy="94.8" r="1.35" fill="#2ab82a"/><circle cx="444.3" cy="94.9" r="1.35" fill="#2ab82a"/><circle cx="450.9" cy="95" r="1.35" fill="#2ab82a"/><circle cx="457.5" cy="95.3" r="1.35" fill="#2ab82a"/><circle cx="464.1" cy="95.6" r="1.35" fill="#2ab82a"/><circle cx="470.7" cy="96" r="1.35" fill="#2ab82a"/><circle cx="477.3" cy="96.4" r="1.35" fill="#2ab82a"/><circle cx="483.9" cy="96.8" r="1.35" fill="#2ab82a"/><circle cx="490.5" cy="97.4" r="1.35" fill="#2ab82a"/><circle cx="497.1" cy="98.1" r="1.35" fill="#2ab82a"/><circle cx="503.7" cy="98.9" r="1.35" fill="#2ab82a"/><circle cx="510.3" cy="99.6" r="1.35" fill="#2ab82a"/><circle cx="516.9" cy="100.2" r="1.35" fill="#2ab82a"/><circle cx="523.5" cy="100.8" r="1.35" fill="#2ab82a"/><circle cx="530.1" cy="101.8" r="1.35" fill="#2ab82a"/><circle cx="536.7" cy="103.2" r="1.35" fill="#2ab82a"/><circle cx="543.3" cy="105.2" r="1.35" fill="#2ab82a"/><circle cx="549.9" cy="107.6" r="1.35" fill="#2ab82a"/><circle cx="556.5" cy="110.2" r="1.35" fill="#2ab82a"/><circle cx="563.1" cy="113" r="1.35" fill="#2ab82a"/><circle cx="569.7" cy="115.8" r="1.35" fill="#2ab82a"/><circle cx="576.3" cy="118.6" r="2.25" fill="#d0203c"/><circle cx="576.3" cy="118.6" r="1.7" fill="#2a0c6a"/><circle cx="582.9" cy="121.5" r="2.25" fill="#d0203c"/><circle cx="582.9" cy="121.5" r="1.7" fill="#2a0c6a"/><circle cx="589.5" cy="124.6" r="2.25" fill="#d0203c"/><circle cx="589.5" cy="124.6" r="1.7" fill="#2a0c6a"/><circle cx="596.1" cy="127.9" r="2.25" fill="#d0203c"/><circle cx="596.1" cy="127.9" r="1.7" fill="#2a0c6a"/><circle cx="602.7" cy="130.9" r="2.25" fill="#d0203c"/><circle cx="602.7" cy="130.9" r="1.7" fill="#2a0c6a"/><circle cx="609.3" cy="133.5" r="2.25" fill="#d0203c"/><circle cx="609.3" cy="133.5" r="1.7" fill="#2a0c6a"/><circle cx="615.9" cy="135.8" r="2.25" fill="#d0203c"/><circle cx="615.9" cy="135.8" r="1.7" fill="#2a0c6a"/><circle cx="622.5" cy="138.1" r="2.25" fill="#d0203c"/><circle cx="622.5" cy="138.1" r="1.7" fill="#2a0c6a"/><circle cx="629.1" cy="140" r="2.25" fill="#d0203c"/><circle cx="629.1" cy="140" r="1.7" fill="#2a0c6a"/><circle cx="635.7" cy="141.7" r="2.25" fill="#d0203c"/><circle cx="635.7" cy="141.7" r="1.7" fill="#2a0c6a"/><circle cx="642.3" cy="142.9" r="2.25" fill="#d0203c"/><circle cx="642.3" cy="142.9" r="1.7" fill="#2a0c6a"/><circle cx="648.9" cy="143.8" r="2.25" fill="#d0203c"/><circle cx="648.9" cy="143.8" r="1.7" fill="#2a0c6a"/><circle cx="655.5" cy="144.3" r="2.25" fill="#d0203c"/><circle cx="655.5" cy="144.3" r="1.7" fill="#2a0c6a"/><circle cx="662.1" cy="144.4" r="2.25" fill="#d0203c"/><circle cx="662.1" cy="144.4" r="1.7" fill="#2a0c6a"/><circle cx="668.7" cy="144.5" r="2.25" fill="#d0203c"/><circle cx="668.7" cy="144.5" r="1.7" fill="#2a0c6a"/><circle cx="675.3" cy="144.6" r="2.25" fill="#d0203c"/><circle cx="675.3" cy="144.6" r="1.7" fill="#2a0c6a"/><circle cx="681.9" cy="144.6" r="2.25" fill="#d0203c"/><circle cx="681.9" cy="144.6" r="1.7" fill="#2a0c6a"/><circle cx="688.5" cy="144.7" r="2.25" fill="#d0203c"/><circle cx="688.5" cy="144.7" r="1.7" fill="#2a0c6a"/><circle cx="695.1" cy="144.7" r="2.25" fill="#d0203c"/><circle cx="695.1" cy="144.7" r="1.7" fill="#2a0c6a"/><circle cx="701.7" cy="144.7" r="2.25" fill="#d0203c"/><circle cx="701.7" cy="144.7" r="1.7" fill="#2a0c6a"/><path d="M437.7,140.8 L439.2,140.8 L440.7,140.8 L442.2,140.8 L443.7,140.8 L445.2,140.8 L446.7,140.7 L448.2,140.5 L449.7,140.3 L451.2,140.2 L452.7,140.1 L454.2,140 L455.7,139.9 L457.2,139.8 L458.7,139.7 L460.2,139.7 L461.7,139.6 L463.2,139.5 L464.7,139.3 L466.2,139.2 L467.7,139 L469.2,138.7 L470.7,138.5 L472.2,138.3 L473.7,138 L475.2,137.8 L476.7,137.5 L478.2,137.3 L479.7,137 L481.2,136.8 L482.7,136.5 L484.2,136.2 L485.7,135.9 L487.2,135.5 L488.7,135.1 L490.2,134.8 L491.7,134.4 L493.2,134.1 L494.7,133.8 L496.2,133.5 L497.7,133.2 L499.2,132.8 L500.7,132.5 L502.2,132.1 L503.7,131.8 L505.2,131.5 L506.7,131.1 L508.2,130.8 L509.7,130.5 L511.2,130.2 L512.7,130 L514.2,129.7 L515.7,129.4 L517.2,129.1 L518.7,128.9 L520.2,128.6 L521.7,128.3 L523.2,128.1 L524.7,127.8 L526.2,127.5 L527.7,127.3 L529.2,127 L530.7,126.8 L532.2,126.6 L533.7,126.4 L535.2,126.2 L536.7,126 L538.2,125.8 L539.7,125.6 L541.2,125.4 L542.7,125.3 L544.2,125.1 L545.7,125 L547.2,124.8 L548.7,124.7 L550.2,124.6 L551.7,124.5 L553.2,124.3 L554.7,124.2 L556.2,124.1 L557.7,124 L559.2,123.9 L560.7,123.8 L562.2,123.7 L563.7,123.7 L565.2,123.6 L566.7,123.5 L568.2,123.5 L569.7,123.4 L571.2,123.3 L572.7,123.3 L574.2,123.2 L575.7,123.2 L577.2,123.2 L578.7,123.2 L580.2,123.2 L581.7,123.2 L583.2,123.2 L584.7,123.2 L586.2,123.2 L587.7,123.2 L589.2,123.2 L590.7,123.2 L592.2,123.2 L593.7,123.3 L595.2,123.4 L596.7,123.5 L598.2,123.6 L599.7,123.7 L601.2,123.9 L602.7,124 L604.2,124.1 L605.7,124.2 L607.2,124.4 L608.7,124.6 L610.2,124.8 L611.7,124.9 L613.2,125.1 L614.7,125.3 L616.2,125.5 L617.7,125.7 L619.2,125.9 L620.7,126.2 L622.2,126.4 L623.7,126.6 L625.2,126.9 L626.7,127.1 L628.2,127.4 L629.7,127.6 L631.2,127.9 L632.7,128.2 L634.2,128.5 L635.7,128.8 L637.2,129.1 L638.7,129.4 L640.2,129.6 L641.7,129.9 L643.2,130.2 L644.7,130.4 L646.2,130.6 L647.7,130.9 L649.2,131.1 L650.7,131.3 L652.2,131.6 L653.7,131.8 L655.2,132 L656.7,132.2 L658.2,132.4 L659.7,132.6 L661.2,132.8 L662.7,133 L664.2,133.2 L665.7,133.3 L667.2,133.5 L668.7,133.6 L670.2,133.8 L671.7,133.9 L673.2,134 L674.7,134.1 L676.2,134.3 L677.7,134.4 L679.2,134.4 L680.7,134.5 L682.2,134.6 L683.7,134.6 L685.2,134.7 L686.7,134.8 L688.2,134.8 L689.7,134.9 L691.2,134.9 L692.7,135 L694.2,135 L695.7,135 L697.2,135.1 L698.7,135.1 L700.2,135.1 L701.7,135.1" fill="none" stroke="#525252" stroke-width="1.0"/><circle cx="437.7" cy="140.8" r="2.3" fill="none" stroke="#4ef04e" stroke-width="1.3"/><circle cx="437.7" cy="140.8" r="0.8" fill="#8a8a8a"/><circle cx="444.3" cy="140.8" r="2.3" fill="none" stroke="#4ef04e" stroke-width="1.3"/><circle cx="444.3" cy="140.8" r="0.8" fill="#8a8a8a"/><circle cx="450.9" cy="140.2" r="2.3" fill="none" stroke="#4ef04e" stroke-width="1.3"/><circle cx="450.9" cy="140.2" r="0.8" fill="#8a8a8a"/><circle cx="457.5" cy="139.8" r="2.3" fill="none" stroke="#4ef04e" stroke-width="1.3"/><circle cx="457.5" cy="139.8" r="0.8" fill="#8a8a8a"/><circle cx="464.1" cy="139.4" r="2.3" fill="none" stroke="#4ef04e" stroke-width="1.3"/><circle cx="464.1" cy="139.4" r="0.8" fill="#8a8a8a"/><circle cx="470.7" cy="138.5" r="2.3" fill="none" stroke="#4ef04e" stroke-width="1.3"/><circle cx="470.7" cy="138.5" r="0.8" fill="#8a8a8a"/><circle cx="477.3" cy="137.4" r="2.3" fill="none" stroke="#4ef04e" stroke-width="1.3"/><circle cx="477.3" cy="137.4" r="0.8" fill="#8a8a8a"/><circle cx="483.9" cy="136.3" r="2.3" fill="none" stroke="#4ef04e" stroke-width="1.3"/><circle cx="483.9" cy="136.3" r="0.8" fill="#8a8a8a"/><circle cx="490.5" cy="134.7" r="2.3" fill="none" stroke="#4ef04e" stroke-width="1.3"/><circle cx="490.5" cy="134.7" r="0.8" fill="#8a8a8a"/><circle cx="497.1" cy="133.3" r="2.3" fill="none" stroke="#4ef04e" stroke-width="1.3"/><circle cx="497.1" cy="133.3" r="0.8" fill="#8a8a8a"/><circle cx="503.7" cy="131.8" r="2.3" fill="none" stroke="#4ef04e" stroke-width="1.3"/><circle cx="503.7" cy="131.8" r="0.8" fill="#8a8a8a"/><circle cx="510.3" cy="130.4" r="2.3" fill="none" stroke="#4ef04e" stroke-width="1.3"/><circle cx="510.3" cy="130.4" r="0.8" fill="#8a8a8a"/><circle cx="516.9" cy="129.2" r="2.3" fill="none" stroke="#4ef04e" stroke-width="1.3"/><circle cx="516.9" cy="129.2" r="0.8" fill="#8a8a8a"/><circle cx="523.5" cy="128" r="2.3" fill="none" stroke="#4ef04e" stroke-width="1.3"/><circle cx="523.5" cy="128" r="0.8" fill="#8a8a8a"/><circle cx="530.1" cy="126.9" r="2.3" fill="none" stroke="#4ef04e" stroke-width="1.3"/><circle cx="530.1" cy="126.9" r="0.8" fill="#8a8a8a"/><circle cx="536.7" cy="126" r="2.3" fill="none" stroke="#4ef04e" stroke-width="1.3"/><circle cx="536.7" cy="126" r="0.8" fill="#8a8a8a"/><circle cx="543.3" cy="125.2" r="2.3" fill="none" stroke="#4ef04e" stroke-width="1.3"/><circle cx="543.3" cy="125.2" r="0.8" fill="#8a8a8a"/><circle cx="549.9" cy="124.6" r="2.3" fill="none" stroke="#4ef04e" stroke-width="1.3"/><circle cx="549.9" cy="124.6" r="0.8" fill="#8a8a8a"/><circle cx="556.5" cy="124.1" r="2.3" fill="none" stroke="#4ef04e" stroke-width="1.3"/><circle cx="556.5" cy="124.1" r="0.8" fill="#8a8a8a"/><circle cx="563.1" cy="123.7" r="2.3" fill="none" stroke="#4ef04e" stroke-width="1.3"/><circle cx="563.1" cy="123.7" r="0.8" fill="#8a8a8a"/><circle cx="569.7" cy="123.4" r="2.3" fill="none" stroke="#4ef04e" stroke-width="1.3"/><circle cx="569.7" cy="123.4" r="0.8" fill="#8a8a8a"/><circle cx="576.3" cy="123.2" r="2.3" fill="none" stroke="#4ef04e" stroke-width="1.3"/><circle cx="576.3" cy="123.2" r="0.8" fill="#8a8a8a"/><circle cx="582.9" cy="123.2" r="2.3" fill="none" stroke="#4ef04e" stroke-width="1.3"/><circle cx="582.9" cy="123.2" r="0.8" fill="#8a8a8a"/><circle cx="589.5" cy="123.2" r="2.3" fill="none" stroke="#4ef04e" stroke-width="1.3"/><circle cx="589.5" cy="123.2" r="0.8" fill="#8a8a8a"/><circle cx="596.1" cy="123.4" r="2.3" fill="none" stroke="#4ef04e" stroke-width="1.3"/><circle cx="596.1" cy="123.4" r="0.8" fill="#8a8a8a"/><circle cx="602.7" cy="124" r="2.3" fill="none" stroke="#4ef04e" stroke-width="1.3"/><circle cx="602.7" cy="124" r="0.8" fill="#8a8a8a"/><circle cx="609.3" cy="124.6" r="2.3" fill="none" stroke="#4ef04e" stroke-width="1.3"/><circle cx="609.3" cy="124.6" r="0.8" fill="#8a8a8a"/><circle cx="615.9" cy="125.5" r="2.3" fill="none" stroke="#4ef04e" stroke-width="1.3"/><circle cx="615.9" cy="125.5" r="0.8" fill="#8a8a8a"/><circle cx="622.5" cy="126.4" r="2.3" fill="none" stroke="#4ef04e" stroke-width="1.3"/><circle cx="622.5" cy="126.4" r="0.8" fill="#8a8a8a"/><circle cx="629.1" cy="127.5" r="2.3" fill="none" stroke="#4ef04e" stroke-width="1.3"/><circle cx="629.1" cy="127.5" r="0.8" fill="#8a8a8a"/><circle cx="635.7" cy="128.8" r="2.3" fill="none" stroke="#4ef04e" stroke-width="1.3"/><circle cx="635.7" cy="128.8" r="0.8" fill="#8a8a8a"/><circle cx="642.3" cy="130" r="2.3" fill="none" stroke="#4ef04e" stroke-width="1.3"/><circle cx="642.3" cy="130" r="0.8" fill="#8a8a8a"/><circle cx="648.9" cy="131.1" r="2.3" fill="none" stroke="#4ef04e" stroke-width="1.3"/><circle cx="648.9" cy="131.1" r="0.8" fill="#8a8a8a"/><circle cx="655.5" cy="132" r="2.3" fill="none" stroke="#4ef04e" stroke-width="1.3"/><circle cx="655.5" cy="132" r="0.8" fill="#8a8a8a"/><circle cx="662.1" cy="132.9" r="2.3" fill="none" stroke="#4ef04e" stroke-width="1.3"/><circle cx="662.1" cy="132.9" r="0.8" fill="#8a8a8a"/><circle cx="668.7" cy="133.6" r="2.3" fill="none" stroke="#4ef04e" stroke-width="1.3"/><circle cx="668.7" cy="133.6" r="0.8" fill="#8a8a8a"/><circle cx="675.3" cy="134.2" r="2.3" fill="none" stroke="#4ef04e" stroke-width="1.3"/><circle cx="675.3" cy="134.2" r="0.8" fill="#8a8a8a"/><circle cx="681.9" cy="134.6" r="2.3" fill="none" stroke="#4ef04e" stroke-width="1.3"/><circle cx="681.9" cy="134.6" r="0.8" fill="#8a8a8a"/><circle cx="688.5" cy="134.8" r="2.3" fill="none" stroke="#4ef04e" stroke-width="1.3"/><circle cx="688.5" cy="134.8" r="0.8" fill="#8a8a8a"/><circle cx="695.1" cy="135" r="2.3" fill="none" stroke="#4ef04e" stroke-width="1.3"/><circle cx="695.1" cy="135" r="0.8" fill="#8a8a8a"/><circle cx="701.7" cy="135.1" r="2.3" fill="none" stroke="#4ef04e" stroke-width="1.3"/><circle cx="701.7" cy="135.1" r="0.8" fill="#8a8a8a"/><path d="M437.7,88.5 L439.2,88.5 L440.7,88.4 L442.2,88.4 L443.7,88.4 L445.2,88.3 L446.7,88.3 L448.2,88.2 L449.7,88.2 L451.2,88.2 L452.7,88.1 L454.2,88.1 L455.7,88 L457.2,88 L458.7,87.9 L460.2,87.9 L461.7,87.8 L463.2,87.8 L464.7,87.7 L466.2,87.6 L467.7,87.5 L469.2,87.5 L470.7,87.4 L472.2,87.4 L473.7,87.3 L475.2,87.3 L476.7,87.3 L478.2,87.3 L479.7,87.3 L481.2,87.4 L482.7,87.4 L484.2,87.5 L485.7,87.6 L487.2,87.7 L488.7,87.8 L490.2,87.9 L491.7,88 L493.2,88.2 L494.7,88.3 L496.2,88.5 L497.7,88.7 L499.2,88.9 L500.7,89.2 L502.2,89.4 L503.7,89.8 L505.2,90.1 L506.7,90.4 L508.2,90.8 L509.7,91.1 L511.2,91.5 L512.7,91.9 L514.2,92.3 L515.7,92.7 L517.2,93.2 L518.7,93.7 L520.2,94.2 L521.7,94.8 L523.2,95.4 L524.7,95.9 L526.2,96.5 L527.7,97 L529.2,97.5 L530.7,98 L532.2,98.6 L533.7,99.1 L535.2,99.7 L536.7,100.2" fill="none" stroke="#525252" stroke-width="1.0"/><path d="M437.7,87.1 L439.2,87.1 L440.7,87 L442.2,87 L443.7,87 L445.2,86.9 L446.7,86.9 L448.2,86.8 L449.7,86.8 L451.2,86.8 L452.7,86.7 L454.2,86.7 L455.7,86.6 L457.2,86.6 L458.7,86.5 L460.2,86.5 L461.7,86.4 L463.2,86.4 L464.7,86.3 L466.2,86.2 L467.7,86.1 L469.2,86.1 L470.7,86 L472.2,86 L473.7,85.9 L475.2,85.9 L476.7,85.9 L478.2,85.9 L479.7,85.9 L481.2,86 L482.7,86 L484.2,86.1 L485.7,86.2 L487.2,86.3 L488.7,86.4 L490.2,86.5 L491.7,86.7 L493.2,86.8 L494.7,87 L496.2,87.2 L497.7,87.4 L499.2,87.6 L500.7,87.9 L502.2,88.2 L503.7,88.5 L505.2,88.8 L506.7,89.2 L508.2,89.6 L509.7,89.9 L511.2,90.3 L512.7,90.7 L514.2,91.1 L515.7,91.6 L517.2,92.1 L518.7,92.6 L520.2,93.2 L521.7,93.9 L523.2,94.5 L524.7,95.1 L526.2,95.6 L527.7,96.2 L529.2,96.8 L530.7,97.4 L532.2,97.9 L533.7,98.5 L535.2,99 L536.7,99.6 L538.2,100.2 L539.7,100.9 L541.2,101.6 L542.7,102.2 L544.2,102.9 L545.7,103.5 L547.2,104.1 L548.7,104.7 L550.2,105.3 L551.7,105.9 L553.2,106.6 L554.7,107.3 L556.2,108 L557.7,108.7 L559.2,109.5 L560.7,110.3 L562.2,111 L563.7,111.7 L565.2,112.4 L566.7,113 L568.2,113.7 L569.7,114.3 L571.2,115 L572.7,115.7 L574.2,116.3 L575.7,117 L577.2,117.7 L578.7,118.4 L580.2,119.1 L581.7,119.8 L583.2,120.5 L584.7,121.3 L586.2,122.1 L587.7,123 L589.2,123.9 L590.7,124.7 L592.2,125.5 L593.7,126.4 L595.2,127.2 L596.7,127.9 L598.2,128.6 L599.7,129.3 L601.2,129.9 L602.7,130.6 L604.2,131.2 L605.7,131.8 L607.2,132.4 L608.7,133 L610.2,133.6 L611.7,134.2 L613.2,134.9 L614.7,135.6 L616.2,136.2 L617.7,136.8 L619.2,137.4 L620.7,138 L622.2,138.5 L623.7,139 L625.2,139.5 L626.7,139.9 L628.2,140.2 L629.7,140.5 L631.2,140.8 L632.7,141.1 L634.2,141.3 L635.7,141.5 L637.2,141.8 L638.7,142.1 L640.2,142.4 L641.7,142.7 L643.2,143 L644.7,143.2 L646.2,143.4 L647.7,143.6 L649.2,143.7 L650.7,143.8 L652.2,143.9 L653.7,144 L655.2,144.1 L656.7,144.1 L658.2,144.2 L659.7,144.3 L661.2,144.3 L662.7,144.4 L664.2,144.4 L665.7,144.5 L667.2,144.5 L668.7,144.5 L670.2,144.5 L671.7,144.5 L673.2,144.5 L674.7,144.5 L676.2,144.5 L677.7,144.5 L679.2,144.5 L680.7,144.5 L682.2,144.5 L683.7,144.5 L685.2,144.5 L686.7,144.5 L688.2,144.5 L689.7,144.5 L691.2,144.5 L692.7,144.5 L694.2,144.5 L695.7,144.5 L697.2,144.5 L698.7,144.5 L700.2,144.5 L701.7,144.5" fill="none" stroke="#525252" stroke-width="1.0"/><circle cx="437.7" cy="87.1" r="1.75" fill="#2ec82e"/><circle cx="437.7" cy="87.1" r="0.6" fill="#1a8a1a"/><circle cx="444.3" cy="86.9" r="1.75" fill="#2ec82e"/><circle cx="444.3" cy="86.9" r="0.6" fill="#1a8a1a"/><circle cx="450.9" cy="86.8" r="1.75" fill="#2ec82e"/><circle cx="450.9" cy="86.8" r="0.6" fill="#1a8a1a"/><circle cx="457.5" cy="86.6" r="1.75" fill="#2ec82e"/><circle cx="457.5" cy="86.6" r="0.6" fill="#1a8a1a"/><circle cx="464.1" cy="86.3" r="1.75" fill="#2ec82e"/><circle cx="464.1" cy="86.3" r="0.6" fill="#1a8a1a"/><circle cx="470.7" cy="86" r="1.7" fill="#5a6a1a"/><circle cx="470.7" cy="86" r="0.5" fill="#333"/><circle cx="477.3" cy="85.9" r="1.7" fill="#5a6a1a"/><circle cx="477.3" cy="85.9" r="0.5" fill="#333"/><circle cx="483.9" cy="86.1" r="1.9" fill="#a02a2a"/><circle cx="483.9" cy="86.1" r="0.6" fill="#333"/><circle cx="490.5" cy="86.6" r="1.9" fill="#a02a2a"/><circle cx="490.5" cy="86.6" r="0.6" fill="#333"/><circle cx="497.1" cy="87.3" r="2.2" fill="#c0203a"/><circle cx="497.1" cy="87.3" r="1.3" fill="#3a1060"/><circle cx="503.7" cy="88.5" r="2.2" fill="#c0203a"/><circle cx="503.7" cy="88.5" r="1.3" fill="#3a1060"/><circle cx="510.3" cy="90.1" r="2.2" fill="#c0203a"/><circle cx="510.3" cy="90.1" r="1.3" fill="#3a1060"/><circle cx="516.9" cy="92" r="2.2" fill="#c0203a"/><circle cx="516.9" cy="92" r="1.3" fill="#3a1060"/><circle cx="523.5" cy="94.6" r="2.2" fill="#c0203a"/><circle cx="523.5" cy="94.6" r="1.3" fill="#3a1060"/><circle cx="530.1" cy="97.1" r="2.2" fill="#c0203a"/><circle cx="530.1" cy="97.1" r="1.3" fill="#3a1060"/><circle cx="536.7" cy="99.6" r="2.2" fill="#c0203a"/><circle cx="536.7" cy="99.6" r="1.3" fill="#3a1060"/><circle cx="543.3" cy="102.5" r="2.2" fill="#c0203a"/><circle cx="543.3" cy="102.5" r="1.3" fill="#3a1060"/><circle cx="549.9" cy="105.2" r="2.2" fill="#c0203a"/><circle cx="549.9" cy="105.2" r="1.3" fill="#3a1060"/><circle cx="556.5" cy="108.1" r="2.2" fill="#c0203a"/><circle cx="556.5" cy="108.1" r="1.3" fill="#3a1060"/><circle cx="563.1" cy="111.4" r="2.2" fill="#c0203a"/><circle cx="563.1" cy="111.4" r="1.3" fill="#3a1060"/><circle cx="569.7" cy="114.3" r="2.2" fill="#c0203a"/><circle cx="569.7" cy="114.3" r="1.3" fill="#3a1060"/><circle cx="576.3" cy="117.3" r="2.2" fill="#c0203a"/><circle cx="576.3" cy="117.3" r="1.3" fill="#3a1060"/><circle cx="582.9" cy="120.3" r="2.2" fill="#c0203a"/><circle cx="582.9" cy="120.3" r="1.3" fill="#3a1060"/><circle cx="589.5" cy="124" r="2.05" fill="none" stroke="#e62630" stroke-width="1.3"/><circle cx="589.5" cy="124" r="1.1" fill="#4a4aa0"/><circle cx="596.1" cy="127.6" r="2.05" fill="none" stroke="#e62630" stroke-width="1.3"/><circle cx="596.1" cy="127.6" r="1.1" fill="#4a4aa0"/><circle cx="602.7" cy="130.6" r="2.05" fill="none" stroke="#e62630" stroke-width="1.3"/><circle cx="602.7" cy="130.6" r="1.1" fill="#4a4aa0"/><circle cx="609.3" cy="133.2" r="2.05" fill="none" stroke="#e62630" stroke-width="1.3"/><circle cx="609.3" cy="133.2" r="1.1" fill="#4a4aa0"/><circle cx="615.9" cy="136.1" r="2.05" fill="none" stroke="#e62630" stroke-width="1.3"/><circle cx="615.9" cy="136.1" r="1.1" fill="#4a4aa0"/><circle cx="622.5" cy="138.6" r="2.05" fill="none" stroke="#e62630" stroke-width="1.3"/><circle cx="622.5" cy="138.6" r="1.1" fill="#4a4aa0"/><circle cx="629.1" cy="140.4" r="2.05" fill="none" stroke="#e62630" stroke-width="1.3"/><circle cx="629.1" cy="140.4" r="1.1" fill="#4a4aa0"/><circle cx="635.7" cy="141.5" r="2.05" fill="none" stroke="#e62630" stroke-width="1.3"/><circle cx="635.7" cy="141.5" r="1.1" fill="#4a4aa0"/><circle cx="642.3" cy="142.8" r="2.05" fill="none" stroke="#e62630" stroke-width="1.3"/><circle cx="642.3" cy="142.8" r="1.1" fill="#4a4aa0"/><circle cx="648.9" cy="143.7" r="2.05" fill="none" stroke="#e62630" stroke-width="1.3"/><circle cx="648.9" cy="143.7" r="1.1" fill="#4a4aa0"/><circle cx="655.5" cy="144.1" r="2.05" fill="none" stroke="#e62630" stroke-width="1.3"/><circle cx="655.5" cy="144.1" r="1.1" fill="#4a4aa0"/><circle cx="662.1" cy="144.4" r="2.05" fill="none" stroke="#e62630" stroke-width="1.3"/><circle cx="662.1" cy="144.4" r="1.1" fill="#4a4aa0"/><circle cx="668.7" cy="144.5" r="2.05" fill="none" stroke="#e62630" stroke-width="1.3"/><circle cx="668.7" cy="144.5" r="1.1" fill="#4a4aa0"/><circle cx="675.3" cy="144.5" r="2.05" fill="none" stroke="#e62630" stroke-width="1.3"/><circle cx="675.3" cy="144.5" r="1.1" fill="#4a4aa0"/><circle cx="681.9" cy="144.5" r="2.05" fill="none" stroke="#e62630" stroke-width="1.3"/><circle cx="681.9" cy="144.5" r="1.1" fill="#4a4aa0"/><circle cx="688.5" cy="144.5" r="2.05" fill="none" stroke="#e62630" stroke-width="1.3"/><circle cx="688.5" cy="144.5" r="1.1" fill="#4a4aa0"/><circle cx="695.1" cy="144.5" r="2.05" fill="none" stroke="#e62630" stroke-width="1.3"/><circle cx="695.1" cy="144.5" r="1.1" fill="#4a4aa0"/><circle cx="701.7" cy="144.5" r="2.05" fill="none" stroke="#e62630" stroke-width="1.3"/><circle cx="701.7" cy="144.5" r="1.1" fill="#4a4aa0"/><path d="M437.7,249.8 L439.2,249.8 L440.7,249.8 L442.2,249.7 L443.7,249.7 L445.2,249.7 L446.7,249.6 L448.2,249.6 L449.7,249.6 L451.2,249.5 L452.7,249.4 L454.2,249.2 L455.7,249 L457.2,248.8 L458.7,248.7 L460.2,248.5 L461.7,248.3 L463.2,248.1 L464.7,247.9 L466.2,247.6 L467.7,247.3 L469.2,247 L470.7,246.7 L472.2,246.4 L473.7,246 L475.2,245.7 L476.7,245.3 L478.2,245 L479.7,244.6 L481.2,244.2 L482.7,243.8 L484.2,243.3 L485.7,242.8 L487.2,242.3 L488.7,241.8 L490.2,241.3 L491.7,240.8 L493.2,240.3 L494.7,239.8 L496.2,239.2 L497.7,238.7 L499.2,238.1 L500.7,237.6 L502.2,237 L503.7,236.4 L505.2,235.8 L506.7,235.2 L508.2,234.5 L509.7,233.9 L511.2,233.2 L512.7,232.5 L514.2,231.9 L515.7,231.2 L517.2,230.5 L518.7,229.7 L520.2,229 L521.7,228.3 L523.2,227.6 L524.7,226.8 L526.2,226 L527.7,225.2 L529.2,224.4 L530.7,223.6 L532.2,222.7 L533.7,221.9 L535.2,221 L536.7,220.1 L538.2,219.2 L539.7,218.3 L541.2,217.5 L542.7,216.6 L544.2,215.7 L545.7,214.7 L547.2,213.8 L548.7,212.9 L550.2,211.9 L551.7,211 L553.2,210 L554.7,209 L556.2,208.1 L557.7,207.1 L559.2,206.2 L560.7,205.2 L562.2,204.3 L563.7,203.3 L565.2,202.4 L566.7,201.5 L568.2,200.6 L569.7,199.7 L571.2,198.8 L572.7,197.8 L574.2,196.9 L575.7,196 L577.2,195.1 L578.7,194.2 L580.2,193.3 L581.7,192.4 L583.2,191.5 L584.7,190.6 L586.2,189.8 L587.7,188.9 L589.2,188.1 L590.7,187.3 L592.2,186.5 L593.7,185.7 L595.2,185 L596.7,184.2 L598.2,183.4 L599.7,182.5 L601.2,181.7 L602.7,180.9 L604.2,180.1 L605.7,179.4 L607.2,178.6 L608.7,177.9 L610.2,177.2 L611.7,176.5 L613.2,175.8 L614.7,175.1 L616.2,174.5 L617.7,173.8 L619.2,173.2 L620.7,172.5 L622.2,171.9 L623.7,171.3 L625.2,170.7 L626.7,170.1 L628.2,169.6 L629.7,169.1 L631.2,168.6 L632.7,168.2 L634.2,167.8 L635.7,167.4 L637.2,167 L638.7,166.7 L640.2,166.4 L641.7,166.1 L643.2,165.8 L644.7,165.6 L646.2,165.3 L647.7,165.1 L649.2,164.9 L650.7,164.7 L652.2,164.5 L653.7,164.4 L655.2,164.3 L656.7,164.3 L658.2,164.2 L659.7,164.2 L661.2,164.2 L662.7,164.2 L664.2,164.2 L665.7,164.3 L667.2,164.3 L668.7,164.4 L670.2,164.5 L671.7,164.6 L673.2,164.7 L674.7,164.8 L676.2,164.9 L677.7,165 L679.2,165 L680.7,165.1 L682.2,165.2 L683.7,165.3 L685.2,165.4 L686.7,165.4 L688.2,165.5 L689.7,165.6 L691.2,165.6 L692.7,165.7 L694.2,165.8 L695.7,165.8 L697.2,165.9 L698.7,165.9 L700.2,166 L701.7,166" fill="none" stroke="#525252" stroke-width="1.0"/><circle cx="437.7" cy="249.8" r="2.1" fill="none" stroke="#e62630" stroke-width="2.2"/><circle cx="437.7" cy="249.8" r="0.8" fill="#3a4a2a"/><circle cx="444.3" cy="249.7" r="2.1" fill="none" stroke="#e62630" stroke-width="2.2"/><circle cx="444.3" cy="249.7" r="0.8" fill="#3a4a2a"/><circle cx="450.9" cy="249.5" r="2.1" fill="none" stroke="#e62630" stroke-width="2.2"/><circle cx="450.9" cy="249.5" r="0.8" fill="#3a4a2a"/><circle cx="457.5" cy="248.8" r="2.1" fill="none" stroke="#e62630" stroke-width="2.2"/><circle cx="457.5" cy="248.8" r="0.8" fill="#3a4a2a"/><circle cx="464.1" cy="248" r="2.1" fill="none" stroke="#e62630" stroke-width="2.2"/><circle cx="464.1" cy="248" r="0.8" fill="#3a4a2a"/><circle cx="470.7" cy="246.7" r="2.1" fill="none" stroke="#e62630" stroke-width="2.2"/><circle cx="470.7" cy="246.7" r="0.8" fill="#3a4a2a"/><circle cx="477.3" cy="245.2" r="2.1" fill="none" stroke="#e62630" stroke-width="2.2"/><circle cx="477.3" cy="245.2" r="0.8" fill="#3a4a2a"/><circle cx="483.9" cy="243.4" r="2.6" fill="none" stroke="#e62630" stroke-width="1.35"/><circle cx="483.9" cy="243.4" r="1.0" fill="#1e1e96"/><circle cx="490.5" cy="241.2" r="2.6" fill="none" stroke="#e62630" stroke-width="1.35"/><circle cx="490.5" cy="241.2" r="1.0" fill="#1e1e96"/><circle cx="497.1" cy="238.9" r="2.6" fill="none" stroke="#e62630" stroke-width="1.35"/><circle cx="497.1" cy="238.9" r="1.0" fill="#1e1e96"/><circle cx="503.7" cy="236.4" r="2.6" fill="none" stroke="#e62630" stroke-width="1.35"/><circle cx="503.7" cy="236.4" r="1.0" fill="#1e1e96"/><circle cx="510.3" cy="233.6" r="2.6" fill="none" stroke="#e62630" stroke-width="1.35"/><circle cx="510.3" cy="233.6" r="1.0" fill="#1e1e96"/><circle cx="516.9" cy="230.6" r="2.6" fill="none" stroke="#e62630" stroke-width="1.35"/><circle cx="516.9" cy="230.6" r="1.0" fill="#1e1e96"/><circle cx="523.5" cy="227.4" r="2.6" fill="none" stroke="#e62630" stroke-width="1.35"/><circle cx="523.5" cy="227.4" r="1.0" fill="#1e1e96"/><circle cx="530.1" cy="223.9" r="2.6" fill="none" stroke="#e62630" stroke-width="1.35"/><circle cx="530.1" cy="223.9" r="1.0" fill="#1e1e96"/><circle cx="536.7" cy="220.1" r="2.6" fill="none" stroke="#e62630" stroke-width="1.35"/><circle cx="536.7" cy="220.1" r="1.0" fill="#1e1e96"/><circle cx="543.3" cy="216.2" r="2.6" fill="none" stroke="#e62630" stroke-width="1.35"/><circle cx="543.3" cy="216.2" r="1.0" fill="#1e1e96"/><circle cx="549.9" cy="212.1" r="2.6" fill="none" stroke="#e62630" stroke-width="1.35"/><circle cx="549.9" cy="212.1" r="1.0" fill="#1e1e96"/><circle cx="556.5" cy="207.9" r="2.6" fill="none" stroke="#e62630" stroke-width="1.35"/><circle cx="556.5" cy="207.9" r="1.0" fill="#1e1e96"/><circle cx="563.1" cy="203.7" r="2.6" fill="none" stroke="#e62630" stroke-width="1.35"/><circle cx="563.1" cy="203.7" r="1.0" fill="#1e1e96"/><circle cx="569.7" cy="199.7" r="2.6" fill="none" stroke="#e62630" stroke-width="1.35"/><circle cx="569.7" cy="199.7" r="1.0" fill="#1e1e96"/><circle cx="576.3" cy="195.6" r="2.6" fill="none" stroke="#e62630" stroke-width="1.35"/><circle cx="576.3" cy="195.6" r="1.0" fill="#1e1e96"/><circle cx="582.9" cy="191.7" r="2.6" fill="none" stroke="#e62630" stroke-width="1.35"/><circle cx="582.9" cy="191.7" r="1.0" fill="#1e1e96"/><circle cx="589.5" cy="187.9" r="2.6" fill="none" stroke="#e62630" stroke-width="1.35"/><circle cx="589.5" cy="187.9" r="1.0" fill="#1e1e96"/><circle cx="596.1" cy="184.5" r="2.6" fill="none" stroke="#e62630" stroke-width="1.35"/><circle cx="596.1" cy="184.5" r="1.0" fill="#1e1e96"/><circle cx="602.7" cy="180.9" r="2.6" fill="none" stroke="#e62630" stroke-width="1.35"/><circle cx="602.7" cy="180.9" r="1.0" fill="#1e1e96"/><circle cx="609.3" cy="177.6" r="2.6" fill="none" stroke="#e62630" stroke-width="1.35"/><circle cx="609.3" cy="177.6" r="1.0" fill="#1e1e96"/><circle cx="615.9" cy="174.6" r="2.6" fill="none" stroke="#e62630" stroke-width="1.35"/><circle cx="615.9" cy="174.6" r="1.0" fill="#1e1e96"/><circle cx="622.5" cy="171.8" r="2.6" fill="none" stroke="#e62630" stroke-width="1.35"/><circle cx="622.5" cy="171.8" r="1.0" fill="#1e1e96"/><circle cx="629.1" cy="169.3" r="2.6" fill="none" stroke="#e62630" stroke-width="1.35"/><circle cx="629.1" cy="169.3" r="1.0" fill="#1e1e96"/><circle cx="635.7" cy="167.4" r="2.6" fill="none" stroke="#e62630" stroke-width="1.35"/><circle cx="635.7" cy="167.4" r="1.0" fill="#1e1e96"/><circle cx="642.3" cy="166" r="2.6" fill="none" stroke="#e62630" stroke-width="1.35"/><circle cx="642.3" cy="166" r="1.0" fill="#1e1e96"/><circle cx="648.9" cy="164.9" r="2.6" fill="none" stroke="#e62630" stroke-width="1.35"/><circle cx="648.9" cy="164.9" r="1.0" fill="#1e1e96"/><circle cx="655.5" cy="164.3" r="2.6" fill="none" stroke="#e62630" stroke-width="1.35"/><circle cx="655.5" cy="164.3" r="1.0" fill="#1e1e96"/><circle cx="662.1" cy="164.2" r="2.6" fill="none" stroke="#e62630" stroke-width="1.35"/><circle cx="662.1" cy="164.2" r="1.0" fill="#1e1e96"/><circle cx="668.7" cy="164.4" r="2.6" fill="none" stroke="#e62630" stroke-width="1.35"/><circle cx="668.7" cy="164.4" r="1.6" fill="#1e1e96"/><circle cx="675.3" cy="164.8" r="2.6" fill="none" stroke="#e62630" stroke-width="1.35"/><circle cx="675.3" cy="164.8" r="1.6" fill="#1e1e96"/><circle cx="681.9" cy="165.2" r="2.6" fill="none" stroke="#e62630" stroke-width="1.35"/><circle cx="681.9" cy="165.2" r="1.6" fill="#1e1e96"/><circle cx="688.5" cy="165.5" r="2.6" fill="none" stroke="#e62630" stroke-width="1.35"/><circle cx="688.5" cy="165.5" r="1.6" fill="#1e1e96"/><circle cx="695.1" cy="165.8" r="2.6" fill="none" stroke="#e62630" stroke-width="1.35"/><circle cx="695.1" cy="165.8" r="1.6" fill="#1e1e96"/><circle cx="701.7" cy="166" r="2.6" fill="none" stroke="#e62630" stroke-width="1.35"/><circle cx="701.7" cy="166" r="1.6" fill="#1e1e96"/><path d="M437.7,218.9 L439.2,218.9 L440.7,218.9 L442.2,218.9 L443.7,219 L445.2,219 L446.7,219 L448.2,219 L449.7,219 L451.2,219 L452.7,219 L454.2,219.1 L455.7,219.1 L457.2,219.1 L458.7,219.1 L460.2,219.1 L461.7,219.1 L463.2,219.2 L464.7,219.2 L466.2,219.2 L467.7,219.2 L469.2,219.2 L470.7,219.2 L472.2,219.2 L473.7,219.3 L475.2,219.3 L476.7,219.3 L478.2,219.3 L479.7,219.3 L481.2,219.3 L482.7,219.4 L484.2,219.4 L485.7,219.4 L487.2,219.4 L488.7,219.4 L490.2,219.4 L491.7,219.5 L493.2,219.5 L494.7,219.5 L496.2,219.5 L497.7,219.5 L499.2,219.6 L500.7,219.6 L502.2,219.6 L503.7,219.6 L505.2,219.6 L506.7,219.6 L508.2,219.7 L509.7,219.7 L511.2,219.7 L512.7,219.7 L514.2,219.7 L515.7,219.8 L517.2,219.8 L518.7,219.8 L520.2,219.8 L521.7,219.8 L523.2,219.9 L524.7,219.9 L526.2,219.9 L527.7,219.9 L529.2,220 L530.7,220 L532.2,220 L533.7,220 L535.2,220 L536.7,220.1 L538.2,220.1 L539.7,220.1 L541.2,220.1 L542.7,220.1 L544.2,220.2 L545.7,220.2 L547.2,220.2 L548.7,220.2 L550.2,220.3 L551.7,220.3 L553.2,220.3 L554.7,220.3 L556.2,220.3 L557.7,220.4 L559.2,220.4 L560.7,220.4 L562.2,220.4 L563.7,220.4 L565.2,220.5 L566.7,220.5 L568.2,220.5 L569.7,220.5 L571.2,220.5 L572.7,220.5 L574.2,220.6 L575.7,220.6 L577.2,220.6 L578.7,220.6 L580.2,220.6 L581.7,220.6 L583.2,220.7 L584.7,220.7 L586.2,220.7 L587.7,220.7 L589.2,220.7 L590.7,220.8 L592.2,220.8 L593.7,220.8 L595.2,220.8 L596.7,220.8 L598.2,220.8 L599.7,220.9 L601.2,220.9 L602.7,220.9 L604.2,220.9 L605.7,220.9 L607.2,220.9 L608.7,220.9 L610.2,221 L611.7,221 L613.2,221 L614.7,221 L616.2,221 L617.7,221 L619.2,221.1 L620.7,221.1 L622.2,221.1 L623.7,221.1 L625.2,221.1 L626.7,221.1 L628.2,221.1 L629.7,221.2 L631.2,221.2 L632.7,221.2 L634.2,221.2 L635.7,221.2 L637.2,221.2 L638.7,221.2 L640.2,221.2 L641.7,221.3 L643.2,221.3 L644.7,221.3 L646.2,221.3 L647.7,221.3 L649.2,221.3 L650.7,221.3 L652.2,221.3 L653.7,221.4 L655.2,221.4 L656.7,221.4 L658.2,221.4 L659.7,221.4 L661.2,221.4 L662.7,221.4 L664.2,221.4 L665.7,221.5 L667.2,221.5 L668.7,221.5 L670.2,221.5 L671.7,221.5 L673.2,221.5 L674.7,221.5 L676.2,221.5 L677.7,221.5 L679.2,221.6 L680.7,221.6 L682.2,221.6 L683.7,221.6 L685.2,221.6 L686.7,221.6 L688.2,221.6 L689.7,221.6 L691.2,221.6 L692.7,221.6 L694.2,221.7 L695.7,221.7 L697.2,221.7 L698.7,221.7 L700.2,221.7 L701.7,221.7" fill="none" stroke="#525252" stroke-width="1.0"/><circle cx="437.7" cy="218.9" r="2.6" fill="none" stroke="#e62630" stroke-width="1.35"/><circle cx="437.7" cy="218.9" r="1.0" fill="#1e1e96"/><circle cx="444.3" cy="219" r="2.6" fill="none" stroke="#e62630" stroke-width="1.35"/><circle cx="444.3" cy="219" r="1.0" fill="#1e1e96"/><circle cx="450.9" cy="219" r="2.6" fill="none" stroke="#e62630" stroke-width="1.35"/><circle cx="450.9" cy="219" r="1.0" fill="#1e1e96"/><circle cx="457.5" cy="219.1" r="2.6" fill="none" stroke="#e62630" stroke-width="1.35"/><circle cx="457.5" cy="219.1" r="1.0" fill="#1e1e96"/><circle cx="464.1" cy="219.2" r="2.6" fill="none" stroke="#e62630" stroke-width="1.35"/><circle cx="464.1" cy="219.2" r="1.0" fill="#1e1e96"/><circle cx="470.7" cy="219.2" r="2.6" fill="none" stroke="#e62630" stroke-width="1.35"/><circle cx="470.7" cy="219.2" r="1.0" fill="#1e1e96"/><circle cx="477.3" cy="219.3" r="2.6" fill="none" stroke="#e62630" stroke-width="1.35"/><circle cx="477.3" cy="219.3" r="1.0" fill="#1e1e96"/><circle cx="483.9" cy="219.4" r="2.6" fill="none" stroke="#e62630" stroke-width="1.35"/><circle cx="483.9" cy="219.4" r="1.0" fill="#1e1e96"/><circle cx="490.5" cy="219.5" r="2.6" fill="none" stroke="#e62630" stroke-width="1.35"/><circle cx="490.5" cy="219.5" r="1.0" fill="#1e1e96"/><circle cx="497.1" cy="219.5" r="2.6" fill="none" stroke="#e62630" stroke-width="1.35"/><circle cx="497.1" cy="219.5" r="1.0" fill="#1e1e96"/><circle cx="503.7" cy="219.6" r="2.6" fill="none" stroke="#e62630" stroke-width="1.35"/><circle cx="503.7" cy="219.6" r="1.0" fill="#1e1e96"/><circle cx="510.3" cy="219.7" r="2.6" fill="none" stroke="#e62630" stroke-width="1.35"/><circle cx="510.3" cy="219.7" r="1.0" fill="#1e1e96"/><circle cx="516.9" cy="219.8" r="2.6" fill="none" stroke="#e62630" stroke-width="1.35"/><circle cx="516.9" cy="219.8" r="1.0" fill="#1e1e96"/><circle cx="523.5" cy="219.9" r="2.6" fill="none" stroke="#e62630" stroke-width="1.35"/><circle cx="523.5" cy="219.9" r="1.0" fill="#1e1e96"/><circle cx="530.1" cy="220" r="2.6" fill="none" stroke="#e62630" stroke-width="1.35"/><circle cx="530.1" cy="220" r="1.0" fill="#1e1e96"/><circle cx="536.7" cy="220.1" r="2.6" fill="none" stroke="#e62630" stroke-width="1.35"/><circle cx="536.7" cy="220.1" r="1.0" fill="#1e1e96"/><circle cx="543.3" cy="220.2" r="2.6" fill="none" stroke="#e62630" stroke-width="1.35"/><circle cx="543.3" cy="220.2" r="1.0" fill="#1e1e96"/><circle cx="549.9" cy="220.2" r="2.6" fill="none" stroke="#e62630" stroke-width="1.35"/><circle cx="549.9" cy="220.2" r="1.0" fill="#1e1e96"/><circle cx="556.5" cy="220.3" r="2.6" fill="none" stroke="#e62630" stroke-width="1.35"/><circle cx="556.5" cy="220.3" r="1.0" fill="#1e1e96"/><circle cx="563.1" cy="220.4" r="2.6" fill="none" stroke="#e62630" stroke-width="1.35"/><circle cx="563.1" cy="220.4" r="1.0" fill="#1e1e96"/><circle cx="569.7" cy="220.5" r="2.6" fill="none" stroke="#e62630" stroke-width="1.35"/><circle cx="569.7" cy="220.5" r="1.0" fill="#1e1e96"/><circle cx="576.3" cy="220.6" r="2.6" fill="none" stroke="#e62630" stroke-width="1.35"/><circle cx="576.3" cy="220.6" r="1.0" fill="#1e1e96"/><circle cx="582.9" cy="220.7" r="2.6" fill="none" stroke="#e62630" stroke-width="1.35"/><circle cx="582.9" cy="220.7" r="1.0" fill="#1e1e96"/><circle cx="589.5" cy="220.7" r="2.6" fill="none" stroke="#e62630" stroke-width="1.35"/><circle cx="589.5" cy="220.7" r="1.0" fill="#1e1e96"/><circle cx="596.1" cy="220.8" r="2.6" fill="none" stroke="#e62630" stroke-width="1.35"/><circle cx="596.1" cy="220.8" r="1.0" fill="#1e1e96"/><circle cx="602.7" cy="220.9" r="2.6" fill="none" stroke="#e62630" stroke-width="1.35"/><circle cx="602.7" cy="220.9" r="1.0" fill="#1e1e96"/><circle cx="609.3" cy="221" r="2.6" fill="none" stroke="#e62630" stroke-width="1.35"/><circle cx="609.3" cy="221" r="1.0" fill="#1e1e96"/><circle cx="615.9" cy="221" r="2.6" fill="none" stroke="#e62630" stroke-width="1.35"/><circle cx="615.9" cy="221" r="1.0" fill="#1e1e96"/><circle cx="622.5" cy="221.1" r="2.6" fill="none" stroke="#e62630" stroke-width="1.35"/><circle cx="622.5" cy="221.1" r="1.0" fill="#1e1e96"/><circle cx="629.1" cy="221.1" r="2.6" fill="none" stroke="#e62630" stroke-width="1.35"/><circle cx="629.1" cy="221.1" r="1.0" fill="#1e1e96"/><circle cx="635.7" cy="221.2" r="2.6" fill="none" stroke="#e62630" stroke-width="1.35"/><circle cx="635.7" cy="221.2" r="1.0" fill="#1e1e96"/><circle cx="642.3" cy="221.3" r="2.6" fill="none" stroke="#e62630" stroke-width="1.35"/><circle cx="642.3" cy="221.3" r="1.0" fill="#1e1e96"/><circle cx="648.9" cy="221.3" r="2.6" fill="none" stroke="#e62630" stroke-width="1.35"/><circle cx="648.9" cy="221.3" r="1.0" fill="#1e1e96"/><circle cx="655.5" cy="221.4" r="2.6" fill="none" stroke="#e62630" stroke-width="1.35"/><circle cx="655.5" cy="221.4" r="1.0" fill="#1e1e96"/><circle cx="662.1" cy="221.4" r="2.6" fill="none" stroke="#e62630" stroke-width="1.35"/><circle cx="662.1" cy="221.4" r="1.0" fill="#1e1e96"/><circle cx="668.7" cy="221.5" r="2.6" fill="none" stroke="#e62630" stroke-width="1.35"/><circle cx="668.7" cy="221.5" r="1.0" fill="#1e1e96"/><circle cx="675.3" cy="221.5" r="2.6" fill="none" stroke="#e62630" stroke-width="1.35"/><circle cx="675.3" cy="221.5" r="1.0" fill="#1e1e96"/><circle cx="681.9" cy="221.6" r="2.6" fill="none" stroke="#e62630" stroke-width="1.35"/><circle cx="681.9" cy="221.6" r="1.0" fill="#1e1e96"/><circle cx="688.5" cy="221.6" r="2.6" fill="none" stroke="#e62630" stroke-width="1.35"/><circle cx="688.5" cy="221.6" r="1.0" fill="#1e1e96"/><circle cx="695.1" cy="221.7" r="2.6" fill="none" stroke="#e62630" stroke-width="1.35"/><circle cx="695.1" cy="221.7" r="1.0" fill="#1e1e96"/><circle cx="701.7" cy="221.7" r="2.6" fill="none" stroke="#e62630" stroke-width="1.35"/><circle cx="701.7" cy="221.7" r="1.0" fill="#1e1e96"/><path d="M437.7,317.6 L439.2,317.6 L440.7,317.6 L442.2,317.6 L443.7,317.6 L445.2,317.7 L446.7,317.7 L448.2,317.7 L449.7,317.7 L451.2,317.8 L452.7,317.8 L454.2,317.8 L455.7,317.9 L457.2,317.9 L458.7,317.9 L460.2,318 L461.7,318.1 L463.2,318.1 L464.7,318.2 L466.2,318.3 L467.7,318.4 L469.2,318.5 L470.7,318.6 L472.2,318.7 L473.7,318.8 L475.2,318.9 L476.7,319 L478.2,319.1 L479.7,319.3 L481.2,319.4 L482.7,319.6 L484.2,319.8 L485.7,320 L487.2,320.1 L488.7,320.3 L490.2,320.5 L491.7,320.7 L493.2,320.9 L494.7,321.2 L496.2,321.4 L497.7,321.6 L499.2,321.8 L500.7,322.1 L502.2,322.3 L503.7,322.5 L505.2,322.8 L506.7,323 L508.2,323.2 L509.7,323.4 L511.2,323.7 L512.7,323.9 L514.2,324.1 L515.7,324.4 L517.2,324.6 L518.7,324.8 L520.2,325 L521.7,325.3 L523.2,325.5 L524.7,325.7 L526.2,326 L527.7,326.2 L529.2,326.5 L530.7,326.7 L532.2,327 L533.7,327.3 L535.2,327.6 L536.7,327.9 L538.2,328.2 L539.7,328.6 L541.2,328.9 L542.7,329.2 L544.2,329.5 L545.7,329.7 L547.2,330 L548.7,330.2 L550.2,330.5 L551.7,330.7 L553.2,330.9 L554.7,331.1 L556.2,331.2 L557.7,331.4 L559.2,331.6 L560.7,331.8 L562.2,331.9 L563.7,332.1 L565.2,332.3 L566.7,332.4 L568.2,332.6 L569.7,332.7 L571.2,332.9 L572.7,333 L574.2,333.1 L575.7,333.3 L577.2,333.4 L578.7,333.6 L580.2,333.7 L581.7,333.8 L583.2,334 L584.7,334.1 L586.2,334.2 L587.7,334.3 L589.2,334.5 L590.7,334.6 L592.2,334.7 L593.7,334.8 L595.2,334.9 L596.7,335.1 L598.2,335.2 L599.7,335.3 L601.2,335.4 L602.7,335.5 L604.2,335.6 L605.7,335.7 L607.2,335.8 L608.7,335.9 L610.2,336 L611.7,336.1 L613.2,336.2 L614.7,336.3 L616.2,336.4 L617.7,336.5 L619.2,336.6 L620.7,336.7 L622.2,336.8 L623.7,336.9 L625.2,336.9 L626.7,337 L628.2,337.1 L629.7,337.2 L631.2,337.3 L632.7,337.4 L634.2,337.4 L635.7,337.5 L637.2,337.6 L638.7,337.7 L640.2,337.7 L641.7,337.8 L643.2,337.9 L644.7,338 L646.2,338 L647.7,338.1 L649.2,338.2 L650.7,338.3 L652.2,338.3 L653.7,338.4 L655.2,338.5 L656.7,338.5 L658.2,338.6 L659.7,338.6 L661.2,338.7 L662.7,338.8 L664.2,338.8 L665.7,338.9 L667.2,338.9 L668.7,339 L670.2,339 L671.7,339.1 L673.2,339.1 L674.7,339.1 L676.2,339.2 L677.7,339.2 L679.2,339.3 L680.7,339.3 L682.2,339.4 L683.7,339.4 L685.2,339.4 L686.7,339.5 L688.2,339.5 L689.7,339.6 L691.2,339.6 L692.7,339.6 L694.2,339.7 L695.7,339.7 L697.2,339.7 L698.7,339.7 L700.2,339.8 L701.7,339.8" fill="none" stroke="#525252" stroke-width="1.0"/><circle cx="437.7" cy="317.6" r="1.6" fill="#bc2a2e"/><circle cx="437.7" cy="317.6" r="0.6" fill="#6a1020"/><circle cx="444.3" cy="317.6" r="1.6" fill="#bc2a2e"/><circle cx="444.3" cy="317.6" r="0.6" fill="#6a1020"/><circle cx="450.9" cy="317.8" r="1.6" fill="#bc2a2e"/><circle cx="450.9" cy="317.8" r="0.6" fill="#6a1020"/><circle cx="457.5" cy="317.9" r="1.6" fill="#bc2a2e"/><circle cx="457.5" cy="317.9" r="0.6" fill="#6a1020"/><circle cx="464.1" cy="318.2" r="1.6" fill="#bc2a2e"/><circle cx="464.1" cy="318.2" r="0.6" fill="#6a1020"/><circle cx="470.7" cy="318.6" r="1.6" fill="#bc2a2e"/><circle cx="470.7" cy="318.6" r="0.6" fill="#6a1020"/><circle cx="477.3" cy="319" r="1.6" fill="#bc2a2e"/><circle cx="477.3" cy="319" r="0.6" fill="#6a1020"/><circle cx="483.9" cy="319.7" r="1.6" fill="#bc2a2e"/><circle cx="483.9" cy="319.7" r="0.6" fill="#6a1020"/><circle cx="490.5" cy="320.6" r="1.6" fill="#bc2a2e"/><circle cx="490.5" cy="320.6" r="0.6" fill="#6a1020"/><circle cx="497.1" cy="321.5" r="1.6" fill="#bc2a2e"/><circle cx="497.1" cy="321.5" r="0.6" fill="#6a1020"/><circle cx="503.7" cy="322.5" r="1.6" fill="#bc2a2e"/><circle cx="503.7" cy="322.5" r="0.6" fill="#6a1020"/><circle cx="510.3" cy="323.5" r="1.6" fill="#bc2a2e"/><circle cx="510.3" cy="323.5" r="0.6" fill="#6a1020"/><circle cx="516.9" cy="324.5" r="1.6" fill="#bc2a2e"/><circle cx="516.9" cy="324.5" r="0.6" fill="#6a1020"/><circle cx="523.5" cy="325.5" r="1.95" fill="#b8222e"/><circle cx="523.5" cy="325.5" r="0.8" fill="#6a1020"/><circle cx="530.1" cy="326.6" r="1.95" fill="#b8222e"/><circle cx="530.1" cy="326.6" r="0.8" fill="#6a1020"/><circle cx="536.7" cy="327.9" r="1.95" fill="#b8222e"/><circle cx="536.7" cy="327.9" r="0.8" fill="#6a1020"/><circle cx="543.3" cy="329.3" r="1.95" fill="#b8222e"/><circle cx="543.3" cy="329.3" r="0.8" fill="#6a1020"/><circle cx="549.9" cy="330.4" r="1.95" fill="#b8222e"/><circle cx="549.9" cy="330.4" r="0.8" fill="#6a1020"/><circle cx="556.5" cy="331.3" r="1.95" fill="#b8222e"/><circle cx="556.5" cy="331.3" r="0.8" fill="#6a1020"/><circle cx="563.1" cy="332" r="1.95" fill="#b8222e"/><circle cx="563.1" cy="332" r="0.8" fill="#6a1020"/><circle cx="569.7" cy="332.7" r="1.95" fill="#b8222e"/><circle cx="569.7" cy="332.7" r="0.8" fill="#6a1020"/><circle cx="576.3" cy="333.3" r="1.95" fill="#b8222e"/><circle cx="576.3" cy="333.3" r="0.8" fill="#6a1020"/><circle cx="582.9" cy="333.9" r="1.95" fill="#b8222e"/><circle cx="582.9" cy="333.9" r="0.8" fill="#6a1020"/><circle cx="589.5" cy="334.5" r="1.95" fill="#b8222e"/><circle cx="589.5" cy="334.5" r="0.8" fill="#6a1020"/><circle cx="596.1" cy="335" r="1.95" fill="#b8222e"/><circle cx="596.1" cy="335" r="0.8" fill="#6a1020"/><circle cx="602.7" cy="335.5" r="1.95" fill="#b8222e"/><circle cx="602.7" cy="335.5" r="0.8" fill="#6a1020"/><circle cx="609.3" cy="336" r="1.95" fill="#b8222e"/><circle cx="609.3" cy="336" r="0.8" fill="#6a1020"/><circle cx="615.9" cy="336.4" r="1.95" fill="#b8222e"/><circle cx="615.9" cy="336.4" r="0.8" fill="#6a1020"/><circle cx="622.5" cy="336.8" r="1.95" fill="#b8222e"/><circle cx="622.5" cy="336.8" r="0.8" fill="#6a1020"/><circle cx="629.1" cy="337.2" r="1.95" fill="#b8222e"/><circle cx="629.1" cy="337.2" r="0.8" fill="#6a1020"/><circle cx="635.7" cy="337.5" r="1.95" fill="#b8222e"/><circle cx="635.7" cy="337.5" r="0.8" fill="#6a1020"/><circle cx="642.3" cy="337.9" r="1.95" fill="#b8222e"/><circle cx="642.3" cy="337.9" r="0.8" fill="#6a1020"/><circle cx="648.9" cy="338.2" r="1.95" fill="#b8222e"/><circle cx="648.9" cy="338.2" r="0.8" fill="#6a1020"/><circle cx="655.5" cy="338.5" r="1.95" fill="#b8222e"/><circle cx="655.5" cy="338.5" r="0.8" fill="#6a1020"/><circle cx="662.1" cy="338.7" r="1.95" fill="#b8222e"/><circle cx="662.1" cy="338.7" r="0.8" fill="#6a1020"/><circle cx="668.7" cy="339" r="1.95" fill="#b8222e"/><circle cx="668.7" cy="339" r="0.8" fill="#6a1020"/><circle cx="675.3" cy="339.2" r="1.95" fill="#b8222e"/><circle cx="675.3" cy="339.2" r="0.8" fill="#6a1020"/><circle cx="681.9" cy="339.4" r="1.95" fill="#b8222e"/><circle cx="681.9" cy="339.4" r="0.8" fill="#6a1020"/><circle cx="688.5" cy="339.5" r="1.95" fill="#b8222e"/><circle cx="688.5" cy="339.5" r="0.8" fill="#6a1020"/><circle cx="695.1" cy="339.7" r="1.95" fill="#b8222e"/><circle cx="695.1" cy="339.7" r="0.8" fill="#6a1020"/><circle cx="701.7" cy="339.8" r="1.95" fill="#b8222e"/><circle cx="701.7" cy="339.8" r="0.8" fill="#6a1020"/><path d="M437.7,325 L439.2,325 L440.7,325 L442.2,325 L443.7,325 L445.2,325 L446.7,325 L448.2,325 L449.7,325.1 L451.2,325.1 L452.7,325.1 L454.2,325.1 L455.7,325.1 L457.2,325.1 L458.7,325.2 L460.2,325.2 L461.7,325.2 L463.2,325.2 L464.7,325.3 L466.2,325.3 L467.7,325.3 L469.2,325.3 L470.7,325.4 L472.2,325.4 L473.7,325.4 L475.2,325.5 L476.7,325.5 L478.2,325.5 L479.7,325.6 L481.2,325.6 L482.7,325.7 L484.2,325.8 L485.7,325.8 L487.2,325.9 L488.7,326 L490.2,326.1 L491.7,326.2 L493.2,326.3 L494.7,326.4 L496.2,326.5 L497.7,326.6 L499.2,326.7 L500.7,326.8 L502.2,326.9 L503.7,327 L505.2,327 L506.7,327.1 L508.2,327.2 L509.7,327.3 L511.2,327.4 L512.7,327.5 L514.2,327.6 L515.7,327.8 L517.2,327.9 L518.7,328 L520.2,328.1 L521.7,328.2 L523.2,328.3 L524.7,328.4 L526.2,328.5 L527.7,328.7 L529.2,328.8 L530.7,328.9 L532.2,329 L533.7,329.2 L535.2,329.3 L536.7,329.5 L538.2,329.6 L539.7,329.8 L541.2,329.9 L542.7,330.1 L544.2,330.2 L545.7,330.4 L547.2,330.5 L548.7,330.7 L550.2,330.8 L551.7,331 L553.2,331.1 L554.7,331.3 L556.2,331.4 L557.7,331.5 L559.2,331.7 L560.7,331.8 L562.2,332 L563.7,332.1 L565.2,332.3 L566.7,332.4 L568.2,332.6 L569.7,332.7 L571.2,332.8 L572.7,333 L574.2,333.1 L575.7,333.3 L577.2,333.4 L578.7,333.5 L580.2,333.7 L581.7,333.8 L583.2,333.9 L584.7,334.1 L586.2,334.2 L587.7,334.3 L589.2,334.4 L590.7,334.6 L592.2,334.7 L593.7,334.8 L595.2,334.9 L596.7,335.1 L598.2,335.2 L599.7,335.3 L601.2,335.4 L602.7,335.5 L604.2,335.6 L605.7,335.7 L607.2,335.8 L608.7,335.9 L610.2,336 L611.7,336.1 L613.2,336.2 L614.7,336.3 L616.2,336.4 L617.7,336.5 L619.2,336.6 L620.7,336.7 L622.2,336.8 L623.7,336.9 L625.2,336.9 L626.7,337 L628.2,337.1 L629.7,337.2 L631.2,337.3 L632.7,337.4 L634.2,337.4 L635.7,337.5 L637.2,337.6 L638.7,337.7 L640.2,337.7 L641.7,337.8 L643.2,337.9 L644.7,338 L646.2,338 L647.7,338.1 L649.2,338.2 L650.7,338.3 L652.2,338.3 L653.7,338.4 L655.2,338.5 L656.7,338.5 L658.2,338.6 L659.7,338.6 L661.2,338.7 L662.7,338.8 L664.2,338.8 L665.7,338.9 L667.2,338.9 L668.7,339 L670.2,339 L671.7,339.1 L673.2,339.1 L674.7,339.1 L676.2,339.2 L677.7,339.2 L679.2,339.3 L680.7,339.3 L682.2,339.4 L683.7,339.4 L685.2,339.4 L686.7,339.5 L688.2,339.5 L689.7,339.6 L691.2,339.6 L692.7,339.6 L694.2,339.7 L695.7,339.7 L697.2,339.7 L698.7,339.7 L700.2,339.8 L701.7,339.8" fill="none" stroke="#525252" stroke-width="1.0"/><circle cx="437.7" cy="325" r="1.95" fill="#b8222e"/><circle cx="437.7" cy="325" r="0.8" fill="#6a1020"/><circle cx="444.3" cy="325" r="1.95" fill="#b8222e"/><circle cx="444.3" cy="325" r="0.8" fill="#6a1020"/><circle cx="450.9" cy="325.1" r="1.95" fill="#b8222e"/><circle cx="450.9" cy="325.1" r="0.8" fill="#6a1020"/><circle cx="457.5" cy="325.1" r="1.95" fill="#b8222e"/><circle cx="457.5" cy="325.1" r="0.8" fill="#6a1020"/><circle cx="464.1" cy="325.3" r="1.95" fill="#b8222e"/><circle cx="464.1" cy="325.3" r="0.8" fill="#6a1020"/><circle cx="470.7" cy="325.4" r="1.95" fill="#b8222e"/><circle cx="470.7" cy="325.4" r="0.8" fill="#6a1020"/><circle cx="477.3" cy="325.5" r="1.95" fill="#b8222e"/><circle cx="477.3" cy="325.5" r="0.8" fill="#6a1020"/><circle cx="483.9" cy="325.8" r="1.95" fill="#b8222e"/><circle cx="483.9" cy="325.8" r="0.8" fill="#6a1020"/><circle cx="490.5" cy="326.1" r="1.95" fill="#b8222e"/><circle cx="490.5" cy="326.1" r="0.8" fill="#6a1020"/><circle cx="497.1" cy="326.5" r="1.95" fill="#b8222e"/><circle cx="497.1" cy="326.5" r="0.8" fill="#6a1020"/><circle cx="503.7" cy="327" r="1.95" fill="#b8222e"/><circle cx="503.7" cy="327" r="0.8" fill="#6a1020"/><circle cx="510.3" cy="327.4" r="1.95" fill="#b8222e"/><circle cx="510.3" cy="327.4" r="0.8" fill="#6a1020"/><circle cx="516.9" cy="327.8" r="1.95" fill="#b8222e"/><circle cx="516.9" cy="327.8" r="0.8" fill="#6a1020"/><circle cx="523.5" cy="328.3" r="1.95" fill="#b8222e"/><circle cx="523.5" cy="328.3" r="0.8" fill="#6a1020"/><circle cx="530.1" cy="328.9" r="1.95" fill="#b8222e"/><circle cx="530.1" cy="328.9" r="0.8" fill="#6a1020"/><circle cx="536.7" cy="329.5" r="1.95" fill="#b8222e"/><circle cx="536.7" cy="329.5" r="0.8" fill="#6a1020"/><circle cx="543.3" cy="330.1" r="1.95" fill="#b8222e"/><circle cx="543.3" cy="330.1" r="0.8" fill="#6a1020"/><circle cx="549.9" cy="330.8" r="1.95" fill="#b8222e"/><circle cx="549.9" cy="330.8" r="0.8" fill="#6a1020"/><circle cx="556.5" cy="331.4" r="1.95" fill="#b8222e"/><circle cx="556.5" cy="331.4" r="0.8" fill="#6a1020"/><circle cx="563.1" cy="332.1" r="1.95" fill="#b8222e"/><circle cx="563.1" cy="332.1" r="0.8" fill="#6a1020"/><circle cx="569.7" cy="332.7" r="1.95" fill="#b8222e"/><circle cx="569.7" cy="332.7" r="0.8" fill="#6a1020"/><circle cx="576.3" cy="333.3" r="1.95" fill="#b8222e"/><circle cx="576.3" cy="333.3" r="0.8" fill="#6a1020"/><circle cx="582.9" cy="333.9" r="1.95" fill="#b8222e"/><circle cx="582.9" cy="333.9" r="0.8" fill="#6a1020"/><circle cx="589.5" cy="334.5" r="1.95" fill="#b8222e"/><circle cx="589.5" cy="334.5" r="0.8" fill="#6a1020"/><circle cx="596.1" cy="335" r="1.95" fill="#b8222e"/><circle cx="596.1" cy="335" r="0.8" fill="#6a1020"/><circle cx="602.7" cy="335.5" r="1.95" fill="#b8222e"/><circle cx="602.7" cy="335.5" r="0.8" fill="#6a1020"/><circle cx="609.3" cy="336" r="1.95" fill="#b8222e"/><circle cx="609.3" cy="336" r="0.8" fill="#6a1020"/><circle cx="615.9" cy="336.4" r="1.95" fill="#b8222e"/><circle cx="615.9" cy="336.4" r="0.8" fill="#6a1020"/><circle cx="622.5" cy="336.8" r="1.95" fill="#b8222e"/><circle cx="622.5" cy="336.8" r="0.8" fill="#6a1020"/><circle cx="629.1" cy="337.2" r="1.95" fill="#b8222e"/><circle cx="629.1" cy="337.2" r="0.8" fill="#6a1020"/><circle cx="635.7" cy="337.5" r="1.95" fill="#b8222e"/><circle cx="635.7" cy="337.5" r="0.8" fill="#6a1020"/><circle cx="642.3" cy="337.9" r="1.95" fill="#b8222e"/><circle cx="642.3" cy="337.9" r="0.8" fill="#6a1020"/><circle cx="648.9" cy="338.2" r="1.95" fill="#b8222e"/><circle cx="648.9" cy="338.2" r="0.8" fill="#6a1020"/><circle cx="655.5" cy="338.5" r="1.95" fill="#b8222e"/><circle cx="655.5" cy="338.5" r="0.8" fill="#6a1020"/><circle cx="662.1" cy="338.7" r="1.95" fill="#b8222e"/><circle cx="662.1" cy="338.7" r="0.8" fill="#6a1020"/><circle cx="668.7" cy="339" r="1.95" fill="#b8222e"/><circle cx="668.7" cy="339" r="0.8" fill="#6a1020"/><circle cx="675.3" cy="339.2" r="1.95" fill="#b8222e"/><circle cx="675.3" cy="339.2" r="0.8" fill="#6a1020"/><circle cx="681.9" cy="339.4" r="1.95" fill="#b8222e"/><circle cx="681.9" cy="339.4" r="0.8" fill="#6a1020"/><circle cx="688.5" cy="339.5" r="1.95" fill="#b8222e"/><circle cx="688.5" cy="339.5" r="0.8" fill="#6a1020"/><circle cx="695.1" cy="339.7" r="1.95" fill="#b8222e"/><circle cx="695.1" cy="339.7" r="0.8" fill="#6a1020"/><circle cx="701.7" cy="339.8" r="1.95" fill="#b8222e"/><circle cx="701.7" cy="339.8" r="0.8" fill="#6a1020"/><path d="M437.7,376.1 L439.2,376.1 L440.7,376.2 L442.2,376.3 L443.7,376.3 L445.2,376.4 L446.7,376.5 L448.2,376.5 L449.7,376.6 L451.2,376.7 L452.7,376.8 L454.2,376.9 L455.7,377 L457.2,377.1 L458.7,377.2 L460.2,377.3 L461.7,377.4 L463.2,377.5 L464.7,377.6 L466.2,377.7 L467.7,377.8 L469.2,377.9 L470.7,378.1 L472.2,378.2 L473.7,378.3 L475.2,378.4 L476.7,378.6 L478.2,378.7 L479.7,378.9 L481.2,379 L482.7,379.2 L484.2,379.3 L485.7,379.5 L487.2,379.7 L488.7,379.9 L490.2,380.1 L491.7,380.2 L493.2,380.4 L494.7,380.6 L496.2,380.8 L497.7,381.1 L499.2,381.3 L500.7,381.5 L502.2,381.7 L503.7,381.9 L505.2,382.2 L506.7,382.4 L508.2,382.7 L509.7,383 L511.2,383.3 L512.7,383.6 L514.2,383.9 L515.7,384.2 L517.2,384.5 L518.7,384.9 L520.2,385.2 L521.7,385.6 L523.2,385.9 L524.7,386.3 L526.2,386.7 L527.7,387.1 L529.2,387.4 L530.7,387.8 L532.2,388.3 L533.7,388.7 L535.2,389.2 L536.7,389.6 L538.2,390.1 L539.7,390.6 L541.2,391.1 L542.7,391.7 L544.2,392.2 L545.7,392.7 L547.2,393.3 L548.7,393.8 L550.2,394.4 L551.7,394.9 L553.2,395.5 L554.7,396 L556.2,396.6 L557.7,397.1 L559.2,397.6 L560.7,398.1 L562.2,398.7 L563.7,399.2 L565.2,399.7 L566.7,400.2 L568.2,400.7 L569.7,401.2 L571.2,401.8 L572.7,402.3 L574.2,402.8 L575.7,403.3 L577.2,403.9 L578.7,404.4 L580.2,404.9 L581.7,405.5 L583.2,406.1 L584.7,406.6 L586.2,407.2 L587.7,407.8 L589.2,408.4 L590.7,409 L592.2,409.6 L593.7,410.2 L595.2,410.8 L596.7,411.4 L598.2,412 L599.7,412.7 L601.2,413.3 L602.7,413.9 L604.2,414.5 L605.7,415.1 L607.2,415.7 L608.7,416.3 L610.2,416.9 L611.7,417.5 L613.2,418 L614.7,418.6 L616.2,419.2 L617.7,419.8 L619.2,420.4 L620.7,421 L622.2,421.6 L623.7,422.2 L625.2,422.9 L626.7,423.5 L628.2,424.1 L629.7,424.8 L631.2,425.5 L632.7,426.1 L634.2,426.8 L635.7,427.5 L637.2,428.2 L638.7,428.9 L640.2,429.6 L641.7,430.4 L643.2,431.1 L644.7,431.8 L646.2,432.5 L647.7,433.2 L649.2,433.9 L650.7,434.7 L652.2,435.4 L653.7,436.1 L655.2,436.8 L656.7,437.5 L658.2,438.1 L659.7,438.8 L661.2,439.5 L662.7,440.2 L664.2,441 L665.7,441.7 L667.2,442.5 L668.7,443.2 L670.2,443.9 L671.7,444.6 L673.2,445.3 L674.7,445.9 L676.2,446.5 L677.7,447.1 L679.2,447.6 L680.7,448 L682.2,448.4 L683.7,448.7 L685.2,449.1 L686.7,449.5 L688.2,449.8 L689.7,450.1 L691.2,450.4 L692.7,450.7 L694.2,450.9 L695.7,451.2 L697.2,451.4 L698.7,451.6 L700.2,451.7 L701.7,451.8" fill="none" stroke="#525252" stroke-width="1.0"/><circle cx="437.7" cy="376.1" r="0.8" fill="#444"/><circle cx="444.3" cy="376.3" r="0.8" fill="#444"/><circle cx="450.9" cy="376.7" r="0.8" fill="#444"/><circle cx="457.5" cy="377.1" r="0.8" fill="#444"/><circle cx="464.1" cy="377.6" r="0.8" fill="#444"/><circle cx="470.7" cy="378.1" r="0.8" fill="#444"/><circle cx="477.3" cy="378.6" r="0.8" fill="#444"/><circle cx="483.9" cy="379.3" r="0.8" fill="#444"/><circle cx="490.5" cy="380.1" r="0.8" fill="#444"/><circle cx="497.1" cy="381" r="0.8" fill="#444"/><circle cx="503.7" cy="381.9" r="0.8" fill="#444"/><circle cx="510.3" cy="383.1" r="0.8" fill="#444"/><circle cx="516.9" cy="384.5" r="0.8" fill="#444"/><circle cx="523.5" cy="386" r="0.8" fill="#444"/><circle cx="530.1" cy="387.7" r="0.8" fill="#444"/><circle cx="536.7" cy="389.6" r="0.8" fill="#444"/><circle cx="543.3" cy="391.9" r="0.8" fill="#444"/><circle cx="549.9" cy="394.3" r="0.8" fill="#444"/><circle cx="556.5" cy="396.7" r="0.8" fill="#444"/><circle cx="563.1" cy="399" r="0.8" fill="#444"/><circle cx="569.7" cy="401.2" r="0.8" fill="#444"/><circle cx="576.3" cy="403.5" r="0.8" fill="#444"/><circle cx="582.9" cy="405.9" r="0.8" fill="#444"/><circle cx="589.5" cy="408.5" r="0.8" fill="#444"/><circle cx="596.1" cy="411.2" r="0.8" fill="#444"/><circle cx="602.7" cy="413.9" r="0.8" fill="#444"/><circle cx="609.3" cy="416.5" r="0.8" fill="#444"/><circle cx="615.9" cy="419.1" r="0.8" fill="#444"/><circle cx="622.5" cy="421.7" r="0.8" fill="#444"/><circle cx="629.1" cy="424.5" r="0.8" fill="#444"/><circle cx="635.7" cy="427.5" r="0.8" fill="#444"/><circle cx="642.3" cy="430.6" r="0.8" fill="#444"/><circle cx="648.9" cy="433.8" r="0.8" fill="#444"/><circle cx="655.5" cy="436.9" r="0.8" fill="#444"/><circle cx="662.1" cy="439.9" r="0.8" fill="#444"/><circle cx="668.7" cy="443.2" r="0.8" fill="#444"/><circle cx="675.3" cy="446.2" r="0.8" fill="#444"/><circle cx="681.9" cy="448.3" r="0.8" fill="#444"/><circle cx="688.5" cy="449.9" r="0.8" fill="#444"/><circle cx="695.1" cy="451.1" r="0.8" fill="#444"/><circle cx="701.7" cy="451.8" r="0.8" fill="#444"/><path d="M437.7,374.2 L439.2,374.2 L440.7,374.2 L442.2,374.2 L443.7,374.3 L445.2,374.3 L446.7,374.4 L448.2,374.4 L449.7,374.5 L451.2,374.6 L452.7,374.7 L454.2,374.8 L455.7,374.9 L457.2,375 L458.7,375.1 L460.2,375.2 L461.7,375.4 L463.2,375.5 L464.7,375.6 L466.2,375.9 L467.7,376.2 L469.2,376.6 L470.7,377 L472.2,377.4 L473.7,377.8 L475.2,378.2 L476.7,378.6 L478.2,379 L479.7,379.3 L481.2,379.7 L482.7,380 L484.2,380.4 L485.7,380.8 L487.2,381.2 L488.7,381.6 L490.2,382 L491.7,382.4 L493.2,382.8 L494.7,383.2 L496.2,383.6 L497.7,384 L499.2,384.5 L500.7,384.9 L502.2,385.4 L503.7,385.9 L505.2,386.4 L506.7,386.9 L508.2,387.4 L509.7,387.9 L511.2,388.5 L512.7,389 L514.2,389.6 L515.7,390.2 L517.2,390.7 L518.7,391.3 L520.2,391.9 L521.7,392.4 L523.2,393 L524.7,393.6 L526.2,394.2 L527.7,394.8 L529.2,395.4 L530.7,396 L532.2,396.6 L533.7,397.2 L535.2,397.9 L536.7,398.5 L538.2,399.1 L539.7,399.8 L541.2,400.4 L542.7,401.1 L544.2,401.8 L545.7,402.6 L547.2,403.3 L548.7,404.1 L550.2,404.9 L551.7,405.7 L553.2,406.5 L554.7,407.3 L556.2,408 L557.7,408.7 L559.2,409.4 L560.7,410 L562.2,410.5 L563.7,411 L565.2,411.5 L566.7,412 L568.2,412.5 L569.7,412.9 L571.2,413.4 L572.7,413.8 L574.2,414.2 L575.7,414.6 L577.2,415 L578.7,415.4 L580.2,415.8 L581.7,416.2 L583.2,416.6 L584.7,417.1 L586.2,417.5 L587.7,417.9 L589.2,418.4 L590.7,418.8 L592.2,419.3 L593.7,419.8 L595.2,420.3 L596.7,420.8 L598.2,421.4 L599.7,422 L601.2,422.5 L602.7,423.1 L604.2,423.7 L605.7,424.3 L607.2,424.9 L608.7,425.5 L610.2,426.1 L611.7,426.7 L613.2,427.3 L614.7,427.9 L616.2,428.5 L617.7,429.1 L619.2,429.7 L620.7,430.3 L622.2,430.8 L623.7,431.4 L625.2,431.9 L626.7,432.5 L628.2,433 L629.7,433.6 L631.2,434.1 L632.7,434.7 L634.2,435.2 L635.7,435.8 L637.2,436.3 L638.7,436.8 L640.2,437.4 L641.7,437.9 L643.2,438.4 L644.7,438.9 L646.2,439.4 L647.7,440 L649.2,440.5 L650.7,441 L652.2,441.5 L653.7,442 L655.2,442.5 L656.7,443 L658.2,443.4 L659.7,443.9 L661.2,444.4 L662.7,444.9 L664.2,445.4 L665.7,445.9 L667.2,446.4 L668.7,446.9 L670.2,447.4 L671.7,447.9 L673.2,448.3 L674.7,448.8 L676.2,449.2 L677.7,449.5 L679.2,449.9 L680.7,450.2 L682.2,450.5 L683.7,450.8 L685.2,451.1 L686.7,451.3 L688.2,451.6 L689.7,451.8 L691.2,452.1 L692.7,452.3 L694.2,452.5 L695.7,452.7 L697.2,452.9 L698.7,453 L700.2,453.2 L701.7,453.3" fill="none" stroke="#525252" stroke-width="1.0"/><circle cx="437.7" cy="374.2" r="1.75" fill="#2ec82e"/><circle cx="437.7" cy="374.2" r="0.6" fill="#1a8a1a"/><circle cx="444.3" cy="374.3" r="1.75" fill="#2ec82e"/><circle cx="444.3" cy="374.3" r="0.6" fill="#1a8a1a"/><circle cx="450.9" cy="374.6" r="1.75" fill="#2ec82e"/><circle cx="450.9" cy="374.6" r="0.6" fill="#1a8a1a"/><circle cx="457.5" cy="375" r="1.75" fill="#2ec82e"/><circle cx="457.5" cy="375" r="0.6" fill="#1a8a1a"/><circle cx="464.1" cy="375.6" r="1.75" fill="#2ec82e"/><circle cx="464.1" cy="375.6" r="0.6" fill="#1a8a1a"/><circle cx="470.7" cy="377" r="1.75" fill="#2ec82e"/><circle cx="470.7" cy="377" r="0.6" fill="#1a8a1a"/><circle cx="477.3" cy="378.7" r="1.75" fill="#2ec82e"/><circle cx="477.3" cy="378.7" r="0.6" fill="#1a8a1a"/><circle cx="483.9" cy="380.3" r="1.75" fill="#2ec82e"/><circle cx="483.9" cy="380.3" r="0.6" fill="#1a8a1a"/><circle cx="490.5" cy="382" r="1.75" fill="#2ec82e"/><circle cx="490.5" cy="382" r="0.6" fill="#1a8a1a"/><circle cx="497.1" cy="383.9" r="1.75" fill="#2ec82e"/><circle cx="497.1" cy="383.9" r="0.6" fill="#1a8a1a"/><circle cx="503.7" cy="385.9" r="1.75" fill="#2ec82e"/><circle cx="503.7" cy="385.9" r="0.6" fill="#1a8a1a"/><circle cx="510.3" cy="388.2" r="1.75" fill="#2ec82e"/><circle cx="510.3" cy="388.2" r="0.6" fill="#1a8a1a"/><circle cx="516.9" cy="390.6" r="1.75" fill="#2ec82e"/><circle cx="516.9" cy="390.6" r="0.6" fill="#1a8a1a"/><circle cx="523.5" cy="393.1" r="1.75" fill="#2ec82e"/><circle cx="523.5" cy="393.1" r="0.6" fill="#1a8a1a"/><circle cx="530.1" cy="395.8" r="1.75" fill="#2ec82e"/><circle cx="530.1" cy="395.8" r="0.6" fill="#1a8a1a"/><circle cx="536.7" cy="398.5" r="1.75" fill="#2ec82e"/><circle cx="536.7" cy="398.5" r="0.6" fill="#1a8a1a"/><circle cx="543.3" cy="401.4" r="1.75" fill="#2ec82e"/><circle cx="543.3" cy="401.4" r="0.6" fill="#1a8a1a"/><circle cx="549.9" cy="404.8" r="1.75" fill="#2ec82e"/><circle cx="549.9" cy="404.8" r="0.6" fill="#1a8a1a"/><circle cx="556.5" cy="408.2" r="1.75" fill="#2ec82e"/><circle cx="556.5" cy="408.2" r="0.6" fill="#1a8a1a"/><circle cx="563.1" cy="410.8" r="1.75" fill="#2ec82e"/><circle cx="563.1" cy="410.8" r="0.6" fill="#1a8a1a"/><circle cx="569.7" cy="412.9" r="1.75" fill="#2ec82e"/><circle cx="569.7" cy="412.9" r="0.6" fill="#1a8a1a"/><circle cx="576.3" cy="414.8" r="1.75" fill="#2ec82e"/><circle cx="576.3" cy="414.8" r="0.6" fill="#1a8a1a"/><circle cx="582.9" cy="416.6" r="1.75" fill="#2ec82e"/><circle cx="582.9" cy="416.6" r="0.6" fill="#1a8a1a"/><circle cx="589.5" cy="418.5" r="1.75" fill="#2ec82e"/><circle cx="589.5" cy="418.5" r="0.6" fill="#1a8a1a"/><circle cx="596.1" cy="420.6" r="1.75" fill="#2ec82e"/><circle cx="596.1" cy="420.6" r="0.6" fill="#1a8a1a"/><circle cx="602.7" cy="423.1" r="1.75" fill="#2ec82e"/><circle cx="602.7" cy="423.1" r="0.6" fill="#1a8a1a"/><circle cx="609.3" cy="425.7" r="1.75" fill="#2ec82e"/><circle cx="609.3" cy="425.7" r="0.6" fill="#1a8a1a"/><circle cx="615.9" cy="428.4" r="1.75" fill="#2ec82e"/><circle cx="615.9" cy="428.4" r="0.6" fill="#1a8a1a"/><circle cx="622.5" cy="431" r="1.75" fill="#2ec82e"/><circle cx="622.5" cy="431" r="0.6" fill="#1a8a1a"/><circle cx="629.1" cy="433.4" r="1.75" fill="#2ec82e"/><circle cx="629.1" cy="433.4" r="0.6" fill="#1a8a1a"/><circle cx="635.7" cy="435.8" r="1.75" fill="#2ec82e"/><circle cx="635.7" cy="435.8" r="0.6" fill="#1a8a1a"/><circle cx="642.3" cy="438.1" r="1.75" fill="#2ec82e"/><circle cx="642.3" cy="438.1" r="0.6" fill="#1a8a1a"/><circle cx="648.9" cy="440.4" r="1.75" fill="#2ec82e"/><circle cx="648.9" cy="440.4" r="0.6" fill="#1a8a1a"/><circle cx="655.5" cy="442.6" r="1.75" fill="#2ec82e"/><circle cx="655.5" cy="442.6" r="0.6" fill="#1a8a1a"/><circle cx="662.1" cy="444.7" r="1.75" fill="#2ec82e"/><circle cx="662.1" cy="444.7" r="0.6" fill="#1a8a1a"/><circle cx="668.7" cy="446.9" r="1.75" fill="#2ec82e"/><circle cx="668.7" cy="446.9" r="0.6" fill="#1a8a1a"/><circle cx="675.3" cy="448.9" r="1.75" fill="#2ec82e"/><circle cx="675.3" cy="448.9" r="0.6" fill="#1a8a1a"/><circle cx="681.9" cy="450.5" r="1.75" fill="#2ec82e"/><circle cx="681.9" cy="450.5" r="0.6" fill="#1a8a1a"/><circle cx="688.5" cy="451.7" r="1.75" fill="#2ec82e"/><circle cx="688.5" cy="451.7" r="0.6" fill="#1a8a1a"/><circle cx="695.1" cy="452.6" r="1.75" fill="#2ec82e"/><circle cx="695.1" cy="452.6" r="0.6" fill="#1a8a1a"/><circle cx="701.7" cy="453.3" r="1.75" fill="#2ec82e"/><circle cx="701.7" cy="453.3" r="0.6" fill="#1a8a1a"/><path d="M437.7,381.2 L439.2,381.2 L440.7,381.2 L442.2,381.2 L443.7,381.3 L445.2,381.3 L446.7,381.4 L448.2,381.4 L449.7,381.5 L451.2,381.6 L452.7,381.7 L454.2,381.8 L455.7,381.8 L457.2,381.9 L458.7,382 L460.2,382.2 L461.7,382.3 L463.2,382.4 L464.7,382.5 L466.2,382.7 L467.7,383 L469.2,383.3 L470.7,383.6 L472.2,383.9 L473.7,384.3 L475.2,384.7 L476.7,385 L478.2,385.4 L479.7,385.8 L481.2,386.1 L482.7,386.5 L484.2,386.8 L485.7,387 L487.2,387.3 L488.7,387.6 L490.2,387.9 L491.7,388.1 L493.2,388.4 L494.7,388.7 L496.2,388.9 L497.7,389.2 L499.2,389.5 L500.7,389.8 L502.2,390.2 L503.7,390.5 L505.2,390.9 L506.7,391.3 L508.2,391.7 L509.7,392.2 L511.2,392.6 L512.7,393.1 L514.2,393.5 L515.7,394 L517.2,394.4 L518.7,394.8 L520.2,395.2 L521.7,395.7 L523.2,396.1 L524.7,396.5 L526.2,396.9 L527.7,397.4 L529.2,397.8 L530.7,398.3 L532.2,398.8 L533.7,399.3 L535.2,399.8 L536.7,400.3 L538.2,400.9 L539.7,401.4 L541.2,402 L542.7,402.6 L544.2,403.2 L545.7,403.9 L547.2,404.6 L548.7,405.4 L550.2,406.2 L551.7,406.9 L553.2,407.7 L554.7,408.5 L556.2,409.2 L557.7,409.9 L559.2,410.5 L560.7,411.1 L562.2,411.6 L563.7,412.1 L565.2,412.6 L566.7,413.1 L568.2,413.6 L569.7,414 L571.2,414.5 L572.7,414.9 L574.2,415.3 L575.7,415.7 L577.2,416.1 L578.7,416.5 L580.2,416.9 L581.7,417.4 L583.2,417.8 L584.7,418.2 L586.2,418.6 L587.7,419.1 L589.2,419.5 L590.7,420 L592.2,420.5 L593.7,421 L595.2,421.5 L596.7,422.1 L598.2,422.6 L599.7,423.2 L601.2,423.8 L602.7,424.4 L604.2,425 L605.7,425.7 L607.2,426.3 L608.7,426.9 L610.2,427.6 L611.7,428.2 L613.2,428.8 L614.7,429.5 L616.2,430.1 L617.7,430.7 L619.2,431.3 L620.7,431.9 L622.2,432.5 L623.7,433.1 L625.2,433.7 L626.7,434.2 L628.2,434.8 L629.7,435.4 L631.2,435.9 L632.7,436.5 L634.2,437 L635.7,437.6 L637.2,438.1 L638.7,438.7 L640.2,439.2 L641.7,439.8 L643.2,440.3 L644.7,440.9 L646.2,441.4 L647.7,441.9 L649.2,442.5 L650.7,443 L652.2,443.5 L653.7,444.1 L655.2,444.6 L656.7,445.1 L658.2,445.6 L659.7,446.1 L661.2,446.7 L662.7,447.3 L664.2,447.9 L665.7,448.5 L667.2,449.1 L668.7,449.6 L670.2,450.2 L671.7,450.8 L673.2,451.3 L674.7,451.8 L676.2,452.2 L677.7,452.6 L679.2,453 L680.7,453.2 L682.2,453.5 L683.7,453.7 L685.2,453.9 L686.7,454.1 L688.2,454.3 L689.7,454.4 L691.2,454.6 L692.7,454.7 L694.2,454.9 L695.7,455 L697.2,455.1 L698.7,455.1 L700.2,455.2 L701.7,455.2" fill="none" stroke="#525252" stroke-width="1.0"/><circle cx="437.7" cy="381.2" r="1.75" fill="#2ec82e"/><circle cx="437.7" cy="381.2" r="0.6" fill="#1a8a1a"/><circle cx="444.3" cy="381.3" r="1.75" fill="#2ec82e"/><circle cx="444.3" cy="381.3" r="0.6" fill="#1a8a1a"/><circle cx="450.9" cy="381.6" r="1.75" fill="#2ec82e"/><circle cx="450.9" cy="381.6" r="0.6" fill="#1a8a1a"/><circle cx="457.5" cy="382" r="1.75" fill="#2ec82e"/><circle cx="457.5" cy="382" r="0.6" fill="#1a8a1a"/><circle cx="464.1" cy="382.5" r="1.75" fill="#2ec82e"/><circle cx="464.1" cy="382.5" r="0.6" fill="#1a8a1a"/><circle cx="470.7" cy="383.6" r="1.75" fill="#2ec82e"/><circle cx="470.7" cy="383.6" r="0.6" fill="#1a8a1a"/><circle cx="477.3" cy="385.2" r="1.75" fill="#2ec82e"/><circle cx="477.3" cy="385.2" r="0.6" fill="#1a8a1a"/><circle cx="483.9" cy="386.7" r="1.75" fill="#2ec82e"/><circle cx="483.9" cy="386.7" r="0.6" fill="#1a8a1a"/><circle cx="490.5" cy="387.9" r="1.75" fill="#2ec82e"/><circle cx="490.5" cy="387.9" r="0.6" fill="#1a8a1a"/><circle cx="497.1" cy="389.1" r="1.75" fill="#2ec82e"/><circle cx="497.1" cy="389.1" r="0.6" fill="#1a8a1a"/><circle cx="503.7" cy="390.5" r="1.75" fill="#2ec82e"/><circle cx="503.7" cy="390.5" r="0.6" fill="#1a8a1a"/><circle cx="510.3" cy="392.4" r="1.75" fill="#2ec82e"/><circle cx="510.3" cy="392.4" r="0.6" fill="#1a8a1a"/><circle cx="516.9" cy="394.3" r="1.75" fill="#2ec82e"/><circle cx="516.9" cy="394.3" r="0.6" fill="#1a8a1a"/><circle cx="523.5" cy="396.2" r="1.75" fill="#2ec82e"/><circle cx="523.5" cy="396.2" r="0.6" fill="#1a8a1a"/><circle cx="530.1" cy="398.1" r="1.75" fill="#2ec82e"/><circle cx="530.1" cy="398.1" r="0.6" fill="#1a8a1a"/><circle cx="536.7" cy="400.3" r="1.75" fill="#2ec82e"/><circle cx="536.7" cy="400.3" r="0.6" fill="#1a8a1a"/><circle cx="543.3" cy="402.8" r="1.75" fill="#2ec82e"/><circle cx="543.3" cy="402.8" r="0.6" fill="#1a8a1a"/><circle cx="549.9" cy="406" r="1.75" fill="#2ec82e"/><circle cx="549.9" cy="406" r="0.6" fill="#1a8a1a"/><circle cx="556.5" cy="409.3" r="1.75" fill="#2ec82e"/><circle cx="556.5" cy="409.3" r="0.6" fill="#1a8a1a"/><circle cx="563.1" cy="411.9" r="1.75" fill="#2ec82e"/><circle cx="563.1" cy="411.9" r="0.6" fill="#1a8a1a"/><circle cx="569.7" cy="414" r="1.75" fill="#2ec82e"/><circle cx="569.7" cy="414" r="0.6" fill="#1a8a1a"/><circle cx="576.3" cy="415.9" r="1.75" fill="#2ec82e"/><circle cx="576.3" cy="415.9" r="0.6" fill="#1a8a1a"/><circle cx="582.9" cy="417.7" r="1.75" fill="#2ec82e"/><circle cx="582.9" cy="417.7" r="0.6" fill="#1a8a1a"/><circle cx="589.5" cy="419.6" r="1.75" fill="#2ec82e"/><circle cx="589.5" cy="419.6" r="0.6" fill="#1a8a1a"/><circle cx="596.1" cy="421.9" r="1.75" fill="#2ec82e"/><circle cx="596.1" cy="421.9" r="0.6" fill="#1a8a1a"/><circle cx="602.7" cy="424.4" r="1.75" fill="#2ec82e"/><circle cx="602.7" cy="424.4" r="0.6" fill="#1a8a1a"/><circle cx="609.3" cy="427.2" r="1.75" fill="#2ec82e"/><circle cx="609.3" cy="427.2" r="0.6" fill="#1a8a1a"/><circle cx="615.9" cy="430" r="1.75" fill="#2ec82e"/><circle cx="615.9" cy="430" r="0.6" fill="#1a8a1a"/><circle cx="622.5" cy="432.6" r="1.75" fill="#2ec82e"/><circle cx="622.5" cy="432.6" r="0.6" fill="#1a8a1a"/><circle cx="629.1" cy="435.1" r="1.75" fill="#2ec82e"/><circle cx="629.1" cy="435.1" r="0.6" fill="#1a8a1a"/><circle cx="635.7" cy="437.6" r="1.75" fill="#2ec82e"/><circle cx="635.7" cy="437.6" r="0.6" fill="#1a8a1a"/><circle cx="642.3" cy="440" r="1.75" fill="#2ec82e"/><circle cx="642.3" cy="440" r="0.6" fill="#1a8a1a"/><circle cx="648.9" cy="442.4" r="1.75" fill="#2ec82e"/><circle cx="648.9" cy="442.4" r="0.6" fill="#1a8a1a"/><circle cx="655.5" cy="444.7" r="1.75" fill="#2ec82e"/><circle cx="655.5" cy="444.7" r="0.6" fill="#1a8a1a"/><circle cx="662.1" cy="447" r="1.75" fill="#2ec82e"/><circle cx="662.1" cy="447" r="0.6" fill="#1a8a1a"/><circle cx="668.7" cy="449.6" r="1.75" fill="#2ec82e"/><circle cx="668.7" cy="449.6" r="0.6" fill="#1a8a1a"/><circle cx="675.3" cy="452" r="1.75" fill="#2ec82e"/><circle cx="675.3" cy="452" r="0.6" fill="#1a8a1a"/><circle cx="681.9" cy="453.4" r="1.75" fill="#2ec82e"/><circle cx="681.9" cy="453.4" r="0.6" fill="#1a8a1a"/><circle cx="688.5" cy="454.3" r="1.75" fill="#2ec82e"/><circle cx="688.5" cy="454.3" r="0.6" fill="#1a8a1a"/><circle cx="695.1" cy="454.9" r="1.75" fill="#2ec82e"/><circle cx="695.1" cy="454.9" r="0.6" fill="#1a8a1a"/><circle cx="701.7" cy="455.2" r="1.75" fill="#2ec82e"/><circle cx="701.7" cy="455.2" r="0.6" fill="#1a8a1a"/><path d="M437.7,402.7 L439.2,402.7 L440.7,402.8 L442.2,402.8 L443.7,402.9 L445.2,402.9 L446.7,403 L448.2,403.1 L449.7,403.1 L451.2,403.2 L452.7,403.3 L454.2,403.4 L455.7,403.5 L457.2,403.7 L458.7,403.8 L460.2,403.9 L461.7,404 L463.2,404.2 L464.7,404.3 L466.2,404.4 L467.7,404.6 L469.2,404.7 L470.7,404.9 L472.2,405 L473.7,405.2 L475.2,405.3 L476.7,405.5 L478.2,405.7 L479.7,405.8 L481.2,406.1 L482.7,406.3 L484.2,406.5 L485.7,406.7 L487.2,407 L488.7,407.3 L490.2,407.6 L491.7,407.8 L493.2,408.1 L494.7,408.5 L496.2,408.8 L497.7,409.1 L499.2,409.4 L500.7,409.7 L502.2,410.1 L503.7,410.4 L505.2,410.7 L506.7,411 L508.2,411.4 L509.7,411.7 L511.2,412 L512.7,412.3 L514.2,412.6 L515.7,412.9 L517.2,413.2 L518.7,413.5 L520.2,413.8 L521.7,414 L523.2,414.3 L524.7,414.6 L526.2,414.9 L527.7,415.1 L529.2,415.4 L530.7,415.7 L532.2,416 L533.7,416.3 L535.2,416.6 L536.7,416.9 L538.2,417.2 L539.7,417.5 L541.2,417.9 L542.7,418.3 L544.2,418.7 L545.7,419.1 L547.2,419.6 L548.7,420.1 L550.2,420.6 L551.7,421.1 L553.2,421.7 L554.7,422.2 L556.2,422.7 L557.7,423.1 L559.2,423.6 L560.7,424 L562.2,424.3 L563.7,424.7 L565.2,425 L566.7,425.3 L568.2,425.7 L569.7,426.1 L571.2,426.5 L572.7,426.9 L574.2,427.3 L575.7,427.7 L577.2,428.1 L578.7,428.5 L580.2,429 L581.7,429.4 L583.2,429.8 L584.7,430.3 L586.2,430.7 L587.7,431.2 L589.2,431.6 L590.7,432.1 L592.2,432.6 L593.7,433 L595.2,433.5 L596.7,434 L598.2,434.4 L599.7,434.9 L601.2,435.4 L602.7,435.9 L604.2,436.4 L605.7,436.9 L607.2,437.4 L608.7,437.9 L610.2,438.5 L611.7,439 L613.2,439.5 L614.7,440.1 L616.2,440.6 L617.7,441.1 L619.2,441.7 L620.7,442.2 L622.2,442.7 L623.7,443.2 L625.2,443.7 L626.7,444.2 L628.2,444.7 L629.7,445.2 L631.2,445.6 L632.7,446.1 L634.2,446.5 L635.7,447 L637.2,447.4 L638.7,447.9 L640.2,448.3 L641.7,448.8 L643.2,449.2 L644.7,449.6 L646.2,450 L647.7,450.4 L649.2,450.8 L650.7,451.2 L652.2,451.6 L653.7,452 L655.2,452.4 L656.7,452.8 L658.2,453.1 L659.7,453.5 L661.2,453.8 L662.7,454.1 L664.2,454.5 L665.7,454.8 L667.2,455.2 L668.7,455.5 L670.2,455.8 L671.7,456.1 L673.2,456.4 L674.7,456.7 L676.2,456.9 L677.7,457.2 L679.2,457.4 L680.7,457.6 L682.2,457.9 L683.7,458.1 L685.2,458.2 L686.7,458.4 L688.2,458.6 L689.7,458.8 L691.2,459 L692.7,459.1 L694.2,459.3 L695.7,459.4 L697.2,459.6 L698.7,459.7 L700.2,459.8 L701.7,459.9" fill="none" stroke="#525252" stroke-width="1.0"/><circle cx="437.7" cy="402.7" r="1.35" fill="#2ab82a"/><circle cx="444.3" cy="402.9" r="1.35" fill="#2ab82a"/><circle cx="450.9" cy="403.2" r="1.35" fill="#2ab82a"/><circle cx="457.5" cy="403.7" r="1.35" fill="#2ab82a"/><circle cx="464.1" cy="404.2" r="1.35" fill="#2ab82a"/><circle cx="470.7" cy="404.9" r="1.35" fill="#2ab82a"/><circle cx="477.3" cy="405.6" r="1.35" fill="#2ab82a"/><circle cx="483.9" cy="406.5" r="1.35" fill="#2ab82a"/><circle cx="490.5" cy="407.6" r="1.35" fill="#2ab82a"/><circle cx="497.1" cy="409" r="1.35" fill="#2ab82a"/><circle cx="503.7" cy="410.4" r="1.35" fill="#2ab82a"/><circle cx="510.3" cy="411.8" r="1.35" fill="#2ab82a"/><circle cx="516.9" cy="413.2" r="1.35" fill="#2ab82a"/><circle cx="523.5" cy="414.4" r="1.35" fill="#2ab82a"/><circle cx="530.1" cy="415.6" r="1.35" fill="#2ab82a"/><circle cx="536.7" cy="416.9" r="1.35" fill="#2ab82a"/><circle cx="543.3" cy="418.4" r="1.35" fill="#2ab82a"/><circle cx="549.9" cy="420.5" r="1.35" fill="#2ab82a"/><circle cx="556.5" cy="422.8" r="1.35" fill="#2ab82a"/><circle cx="563.1" cy="424.5" r="1.35" fill="#2ab82a"/><circle cx="569.7" cy="426.1" r="1.35" fill="#2ab82a"/><circle cx="576.3" cy="427.9" r="1.35" fill="#2ab82a"/><circle cx="582.9" cy="429.8" r="1.35" fill="#2ab82a"/><circle cx="589.5" cy="431.7" r="1.35" fill="#2ab82a"/><circle cx="596.1" cy="433.8" r="1.35" fill="#2ab82a"/><circle cx="602.7" cy="435.9" r="1.35" fill="#2ab82a"/><circle cx="609.3" cy="438.1" r="1.35" fill="#2ab82a"/><circle cx="615.9" cy="440.5" r="1.35" fill="#2ab82a"/><circle cx="622.5" cy="442.8" r="1.35" fill="#2ab82a"/><circle cx="629.1" cy="445" r="1.35" fill="#2ab82a"/><circle cx="635.7" cy="447" r="1.35" fill="#2ab82a"/><circle cx="642.3" cy="448.9" r="1.35" fill="#2ab82a"/><circle cx="648.9" cy="450.8" r="1.35" fill="#2ab82a"/><circle cx="655.5" cy="452.5" r="1.35" fill="#2ab82a"/><circle cx="662.1" cy="454" r="1.35" fill="#2ab82a"/><circle cx="668.7" cy="455.5" r="1.35" fill="#2ab82a"/><circle cx="675.3" cy="456.8" r="1.35" fill="#2ab82a"/><circle cx="681.9" cy="457.8" r="1.35" fill="#2ab82a"/><circle cx="688.5" cy="458.7" r="1.35" fill="#2ab82a"/><circle cx="695.1" cy="459.4" r="1.35" fill="#2ab82a"/><circle cx="701.7" cy="459.9" r="1.35" fill="#2ab82a"/><path d="M437.7,420.5 L439.2,420.5 L440.7,420.5 L442.2,420.5 L443.7,420.6 L445.2,420.6 L446.7,420.7 L448.2,420.7 L449.7,420.8 L451.2,420.9 L452.7,421 L454.2,421.1 L455.7,421.2 L457.2,421.3 L458.7,421.4 L460.2,421.5 L461.7,421.7 L463.2,421.8 L464.7,421.9 L466.2,422.1 L467.7,422.2 L469.2,422.4 L470.7,422.6 L472.2,422.7 L473.7,422.9 L475.2,423.1 L476.7,423.2 L478.2,423.4 L479.7,423.6 L481.2,423.8 L482.7,424 L484.2,424.2 L485.7,424.4 L487.2,424.7 L488.7,425 L490.2,425.4 L491.7,425.7 L493.2,426.1 L494.7,426.5 L496.2,426.9 L497.7,427.3 L499.2,427.7 L500.7,428.1 L502.2,428.5 L503.7,428.9 L505.2,429.4 L506.7,429.8 L508.2,430.2 L509.7,430.7 L511.2,431.1 L512.7,431.5 L514.2,432 L515.7,432.4 L517.2,432.8 L518.7,433.2 L520.2,433.6 L521.7,434 L523.2,434.3 L524.7,434.7 L526.2,435.1 L527.7,435.4 L529.2,435.8 L530.7,436.2 L532.2,436.5 L533.7,436.9 L535.2,437.3 L536.7,437.6 L538.2,438 L539.7,438.4 L541.2,438.8 L542.7,439.2 L544.2,439.5 L545.7,439.9 L547.2,440.3 L548.7,440.7 L550.2,441.1 L551.7,441.5 L553.2,442 L554.7,442.4 L556.2,442.8 L557.7,443.2 L559.2,443.6 L560.7,444 L562.2,444.4 L563.7,444.8 L565.2,445.2 L566.7,445.6 L568.2,446 L569.7,446.4 L571.2,446.8 L572.7,447.3 L574.2,447.7 L575.7,448.1 L577.2,448.5 L578.7,448.9 L580.2,449.4 L581.7,449.8 L583.2,450.2 L584.7,450.6 L586.2,451 L587.7,451.4 L589.2,451.8 L590.7,452.2 L592.2,452.6 L593.7,453 L595.2,453.4 L596.7,453.7 L598.2,454.1 L599.7,454.4 L601.2,454.8 L602.7,455.1 L604.2,455.4 L605.7,455.7 L607.2,456.1 L608.7,456.4 L610.2,456.7 L611.7,457 L613.2,457.3 L614.7,457.6 L616.2,457.9 L617.7,458.1 L619.2,458.4 L620.7,458.7 L622.2,459 L623.7,459.2 L625.2,459.5 L626.7,459.8 L628.2,460 L629.7,460.3 L631.2,460.5 L632.7,460.8 L634.2,461.1 L635.7,461.4 L637.2,461.6 L638.7,461.9 L640.2,462.2 L641.7,462.5 L643.2,462.7 L644.7,463 L646.2,463.3 L647.7,463.5 L649.2,463.8 L650.7,464 L652.2,464.3 L653.7,464.5 L655.2,464.7 L656.7,464.9 L658.2,465.1 L659.7,465.3 L661.2,465.5 L662.7,465.6 L664.2,465.8 L665.7,465.9 L667.2,466 L668.7,466.1 L670.2,466.2 L671.7,466.2 L673.2,466.3 L674.7,466.4 L676.2,466.4 L677.7,466.5 L679.2,466.6 L680.7,466.6 L682.2,466.7 L683.7,466.7 L685.2,466.8 L686.7,466.8 L688.2,466.9 L689.7,466.9 L691.2,467 L692.7,467 L694.2,467 L695.7,467.1 L697.2,467.1 L698.7,467.1 L700.2,467.1 L701.7,467.1" fill="none" stroke="#525252" stroke-width="1.0"/><circle cx="437.7" cy="420.5" r="0.85" fill="#7a5a3a"/><circle cx="444.3" cy="420.6" r="0.85" fill="#7a5a3a"/><circle cx="450.9" cy="420.9" r="0.85" fill="#7a5a3a"/><circle cx="457.5" cy="421.3" r="0.85" fill="#7a5a3a"/><circle cx="464.1" cy="421.9" r="0.85" fill="#7a5a3a"/><circle cx="470.7" cy="422.6" r="0.85" fill="#7a5a3a"/><circle cx="477.3" cy="423.3" r="0.85" fill="#7a5a3a"/><circle cx="483.9" cy="424.1" r="0.85" fill="#7a5a3a"/><circle cx="490.5" cy="425.4" r="0.85" fill="#7a5a3a"/><circle cx="497.1" cy="427.2" r="0.85" fill="#7a5a3a"/><circle cx="503.7" cy="428.9" r="0.85" fill="#7a5a3a"/><circle cx="510.3" cy="430.8" r="0.85" fill="#7a5a3a"/><circle cx="516.9" cy="432.7" r="0.85" fill="#7a5a3a"/><circle cx="523.5" cy="434.4" r="0.85" fill="#7a5a3a"/><circle cx="530.1" cy="436" r="0.85" fill="#7a5a3a"/><circle cx="536.7" cy="437.6" r="0.85" fill="#7a5a3a"/><circle cx="543.3" cy="439.3" r="0.85" fill="#7a5a3a"/><circle cx="549.9" cy="441.1" r="0.85" fill="#7a5a3a"/><circle cx="556.5" cy="442.9" r="0.85" fill="#7a5a3a"/><circle cx="563.1" cy="444.6" r="0.85" fill="#7a5a3a"/><circle cx="569.7" cy="446.4" r="0.85" fill="#7a5a3a"/><circle cx="576.3" cy="448.3" r="0.85" fill="#7a5a3a"/><circle cx="582.9" cy="450.1" r="0.85" fill="#7a5a3a"/><circle cx="589.5" cy="451.9" r="0.85" fill="#7a5a3a"/><circle cx="596.1" cy="453.6" r="0.85" fill="#7a5a3a"/><circle cx="602.7" cy="455.1" r="0.85" fill="#7a5a3a"/><circle cx="609.3" cy="456.5" r="0.85" fill="#7a5a3a"/><circle cx="615.9" cy="457.8" r="0.85" fill="#7a5a3a"/><circle cx="622.5" cy="459" r="0.85" fill="#7a5a3a"/><circle cx="629.1" cy="460.2" r="0.85" fill="#7a5a3a"/><circle cx="635.7" cy="461.4" r="0.85" fill="#7a5a3a"/><circle cx="642.3" cy="462.6" r="0.85" fill="#7a5a3a"/><circle cx="648.9" cy="463.7" r="0.85" fill="#7a5a3a"/><circle cx="655.5" cy="464.8" r="0.85" fill="#7a5a3a"/><circle cx="662.1" cy="465.6" r="0.85" fill="#7a5a3a"/><circle cx="668.7" cy="466.1" r="0.85" fill="#7a5a3a"/><circle cx="675.3" cy="466.4" r="0.85" fill="#7a5a3a"/><circle cx="681.9" cy="466.7" r="0.85" fill="#7a5a3a"/><circle cx="688.5" cy="466.9" r="0.85" fill="#7a5a3a"/><circle cx="695.1" cy="467" r="0.85" fill="#7a5a3a"/><circle cx="701.7" cy="467.1" r="0.85" fill="#7a5a3a"/><path d="M437.7,421.2 L439.2,421.2 L440.7,421.2 L442.2,421.2 L443.7,421.3 L445.2,421.3 L446.7,421.4 L448.2,421.5 L449.7,421.5 L451.2,421.6 L452.7,421.7 L454.2,421.8 L455.7,421.9 L457.2,422 L458.7,422.1 L460.2,422.3 L461.7,422.4 L463.2,422.5 L464.7,422.7 L466.2,422.8 L467.7,423 L469.2,423.2 L470.7,423.3 L472.2,423.5 L473.7,423.7 L475.2,423.8 L476.7,424 L478.2,424.2 L479.7,424.4 L481.2,424.6 L482.7,424.8 L484.2,425 L485.7,425.2 L487.2,425.5 L488.7,425.8 L490.2,426.1 L491.7,426.5 L493.2,426.9 L494.7,427.3 L496.2,427.7 L497.7,428.1 L499.2,428.5 L500.7,428.9 L502.2,429.3 L503.7,429.7 L505.2,430.2 L506.7,430.6 L508.2,431.1 L509.7,431.6 L511.2,432.1 L512.7,432.6 L514.2,433 L515.7,433.5 L517.2,433.9 L518.7,434.4 L520.2,434.8 L521.7,435.2 L523.2,435.6 L524.7,436.1 L526.2,436.5 L527.7,436.9 L529.2,437.3 L530.7,437.7 L532.2,438.1 L533.7,438.5 L535.2,438.9 L536.7,439.4 L538.2,439.8 L539.7,440.2 L541.2,440.6 L542.7,441.1 L544.2,441.5 L545.7,441.9 L547.2,442.4 L548.7,442.8 L550.2,443.3 L551.7,443.7 L553.2,444.2 L554.7,444.6 L556.2,445.1 L557.7,445.5 L559.2,446 L560.7,446.4 L562.2,446.9 L563.7,447.3 L565.2,447.7 L566.7,448.1 L568.2,448.5 L569.7,448.9 L571.2,449.3 L572.7,449.7 L574.2,450.1 L575.7,450.5 L577.2,450.9 L578.7,451.3 L580.2,451.7 L581.7,452.1 L583.2,452.5 L584.7,452.9 L586.2,453.2 L587.7,453.6 L589.2,454 L590.7,454.4 L592.2,454.7 L593.7,455.1 L595.2,455.4 L596.7,455.8 L598.2,456.1 L599.7,456.4 L601.2,456.8 L602.7,457.1 L604.2,457.4 L605.7,457.7 L607.2,458.1 L608.7,458.4 L610.2,458.7 L611.7,459 L613.2,459.3 L614.7,459.6 L616.2,459.9 L617.7,460.2 L619.2,460.4 L620.7,460.7 L622.2,461 L623.7,461.3 L625.2,461.5 L626.7,461.8 L628.2,462 L629.7,462.3 L631.2,462.5 L632.7,462.7 L634.2,463 L635.7,463.2 L637.2,463.4 L638.7,463.7 L640.2,463.9 L641.7,464.1 L643.2,464.4 L644.7,464.6 L646.2,464.8 L647.7,465 L649.2,465.2 L650.7,465.4 L652.2,465.6 L653.7,465.8 L655.2,466 L656.7,466.2 L658.2,466.4 L659.7,466.6 L661.2,466.7 L662.7,466.9 L664.2,467 L665.7,467.2 L667.2,467.4 L668.7,467.5 L670.2,467.6 L671.7,467.8 L673.2,467.9 L674.7,468 L676.2,468.1 L677.7,468.3 L679.2,468.4 L680.7,468.5 L682.2,468.6 L683.7,468.7 L685.2,468.9 L686.7,469 L688.2,469.1 L689.7,469.2 L691.2,469.3 L692.7,469.3 L694.2,469.4 L695.7,469.5 L697.2,469.6 L698.7,469.7 L700.2,469.7 L701.7,469.8" fill="none" stroke="#525252" stroke-width="1.0"/><circle cx="437.7" cy="421.2" r="0.85" fill="#7a5a3a"/><circle cx="444.3" cy="421.3" r="0.85" fill="#7a5a3a"/><circle cx="450.9" cy="421.6" r="0.85" fill="#7a5a3a"/><circle cx="457.5" cy="422" r="0.85" fill="#7a5a3a"/><circle cx="464.1" cy="422.6" r="0.85" fill="#7a5a3a"/><circle cx="470.7" cy="423.3" r="0.85" fill="#7a5a3a"/><circle cx="477.3" cy="424.1" r="0.85" fill="#7a5a3a"/><circle cx="483.9" cy="424.9" r="0.85" fill="#7a5a3a"/><circle cx="490.5" cy="426.2" r="0.85" fill="#7a5a3a"/><circle cx="497.1" cy="427.9" r="0.85" fill="#7a5a3a"/><circle cx="503.7" cy="429.7" r="0.85" fill="#7a5a3a"/><circle cx="510.3" cy="431.8" r="0.85" fill="#7a5a3a"/><circle cx="516.9" cy="433.8" r="0.85" fill="#7a5a3a"/><circle cx="523.5" cy="435.7" r="0.85" fill="#7a5a3a"/><circle cx="530.1" cy="437.5" r="0.85" fill="#7a5a3a"/><circle cx="536.7" cy="439.4" r="0.85" fill="#7a5a3a"/><circle cx="543.3" cy="441.2" r="0.85" fill="#7a5a3a"/><circle cx="549.9" cy="443.2" r="0.85" fill="#7a5a3a"/><circle cx="556.5" cy="445.2" r="0.85" fill="#7a5a3a"/><circle cx="563.1" cy="447.1" r="0.85" fill="#7a5a3a"/><circle cx="569.7" cy="448.9" r="0.85" fill="#7a5a3a"/><circle cx="576.3" cy="450.7" r="0.85" fill="#2a2a9a"/><circle cx="582.9" cy="452.4" r="0.85" fill="#2a2a9a"/><circle cx="589.5" cy="454.1" r="0.85" fill="#2a2a9a"/><circle cx="596.1" cy="455.6" r="0.85" fill="#2a2a9a"/><circle cx="602.7" cy="457.1" r="0.85" fill="#2a2a9a"/><circle cx="609.3" cy="458.5" r="0.85" fill="#2a2a9a"/><circle cx="615.9" cy="459.8" r="0.85" fill="#2a2a9a"/><circle cx="622.5" cy="461" r="0.85" fill="#2a2a9a"/><circle cx="629.1" cy="462.2" r="0.85" fill="#2a2a9a"/><circle cx="635.7" cy="463.2" r="0.85" fill="#2a2a9a"/><circle cx="642.3" cy="464.2" r="0.85" fill="#2a2a9a"/><circle cx="648.9" cy="465.2" r="0.85" fill="#2a2a9a"/><circle cx="655.5" cy="466" r="0.85" fill="#2a2a9a"/><circle cx="662.1" cy="466.8" r="0.85" fill="#2a2a9a"/><circle cx="668.7" cy="467.5" r="0.85" fill="#2a2a9a"/><circle cx="675.3" cy="468.1" r="0.85" fill="#2a2a9a"/><circle cx="681.9" cy="468.6" r="0.85" fill="#2a2a9a"/><circle cx="688.5" cy="469.1" r="0.85" fill="#2a2a9a"/><circle cx="695.1" cy="469.5" r="0.85" fill="#2a2a9a"/><circle cx="701.7" cy="469.8" r="0.85" fill="#2a2a9a"/><path d="M437.7,439.5 L439.2,439.5 L440.7,439.5 L442.2,439.6 L443.7,439.6 L445.2,439.6 L446.7,439.7 L448.2,439.7 L449.7,439.8 L451.2,439.8 L452.7,439.9 L454.2,440 L455.7,440 L457.2,440.1 L458.7,440.2 L460.2,440.3 L461.7,440.4 L463.2,440.5 L464.7,440.5 L466.2,440.7 L467.7,440.8 L469.2,440.9 L470.7,441 L472.2,441.1 L473.7,441.2 L475.2,441.3 L476.7,441.5 L478.2,441.6 L479.7,441.7 L481.2,441.8 L482.7,442 L484.2,442.1 L485.7,442.2 L487.2,442.4 L488.7,442.5 L490.2,442.7 L491.7,442.8 L493.2,443 L494.7,443.1 L496.2,443.2 L497.7,443.4 L499.2,443.5 L500.7,443.7 L502.2,443.8 L503.7,444 L505.2,444.2 L506.7,444.3 L508.2,444.5 L509.7,444.7 L511.2,444.9 L512.7,445.1 L514.2,445.3 L515.7,445.5 L517.2,445.8 L518.7,446 L520.2,446.3 L521.7,446.5 L523.2,446.8 L524.7,447 L526.2,447.3 L527.7,447.6 L529.2,447.9 L530.7,448.1 L532.2,448.4 L533.7,448.7 L535.2,449 L536.7,449.3 L538.2,449.6 L539.7,449.9 L541.2,450.2 L542.7,450.5 L544.2,450.9 L545.7,451.2 L547.2,451.6 L548.7,452 L550.2,452.3 L551.7,452.7 L553.2,453.2 L554.7,453.6 L556.2,454 L557.7,454.4 L559.2,454.8 L560.7,455.2 L562.2,455.7 L563.7,456.1 L565.2,456.5 L566.7,456.8 L568.2,457.2 L569.7,457.6 L571.2,457.9 L572.7,458.3 L574.2,458.6 L575.7,459 L577.2,459.3 L578.7,459.7 L580.2,460 L581.7,460.3 L583.2,460.7 L584.7,461 L586.2,461.3 L587.7,461.7 L589.2,462 L590.7,462.3 L592.2,462.7 L593.7,463 L595.2,463.3 L596.7,463.7 L598.2,464 L599.7,464.3 L601.2,464.6 L602.7,465 L604.2,465.3 L605.7,465.7 L607.2,466 L608.7,466.3 L610.2,466.7 L611.7,467 L613.2,467.4 L614.7,467.7 L616.2,468.1 L617.7,468.4 L619.2,468.8 L620.7,469.1 L622.2,469.5 L623.7,469.8 L625.2,470.2 L626.7,470.6 L628.2,470.9 L629.7,471.3 L631.2,471.6 L632.7,472 L634.2,472.3 L635.7,472.6 L637.2,473 L638.7,473.3 L640.2,473.6 L641.7,473.9 L643.2,474.3 L644.7,474.6 L646.2,474.9 L647.7,475.1 L649.2,475.4 L650.7,475.7 L652.2,476 L653.7,476.4 L655.2,476.7 L656.7,477 L658.2,477.4 L659.7,477.7 L661.2,478 L662.7,478.3 L664.2,478.6 L665.7,478.9 L667.2,479.1 L668.7,479.4 L670.2,479.6 L671.7,479.7 L673.2,479.9 L674.7,479.9 L676.2,480 L677.7,480 L679.2,479.8 L680.7,479.6 L682.2,479.2 L683.7,478.8 L685.2,478.3 L686.7,477.9 L688.2,477.5 L689.7,477.2 L691.2,476.9 L692.7,476.7 L694.2,476.4 L695.7,476.2 L697.2,475.9 L698.7,475.7 L700.2,475.5 L701.7,475.3" fill="none" stroke="#525252" stroke-width="1.0"/><circle cx="437.7" cy="439.5" r="0.9" fill="#2a9a2a"/><circle cx="444.3" cy="439.6" r="0.9" fill="#2a9a2a"/><circle cx="450.9" cy="439.8" r="0.9" fill="#2a9a2a"/><circle cx="457.5" cy="440.1" r="0.9" fill="#2a9a2a"/><circle cx="464.1" cy="440.5" r="0.9" fill="#2a9a2a"/><circle cx="470.7" cy="441" r="0.9" fill="#2a9a2a"/><circle cx="477.3" cy="441.5" r="0.9" fill="#2a9a2a"/><circle cx="483.9" cy="442.1" r="0.9" fill="#2a9a2a"/><circle cx="490.5" cy="442.7" r="0.9" fill="#2a9a2a"/><circle cx="497.1" cy="443.3" r="0.9" fill="#2a9a2a"/><circle cx="503.7" cy="444" r="0.9" fill="#2a9a2a"/><circle cx="510.3" cy="444.8" r="0.9" fill="#2a9a2a"/><circle cx="516.9" cy="445.7" r="0.9" fill="#2a9a2a"/><circle cx="523.5" cy="446.8" r="0.9" fill="#2a9a2a"/><circle cx="530.1" cy="448" r="0.9" fill="#2a9a2a"/><circle cx="536.7" cy="449.3" r="0.9" fill="#2a9a2a"/><circle cx="543.3" cy="450.7" r="0.9" fill="#2a9a2a"/><circle cx="549.9" cy="452.3" r="0.9" fill="#2a9a2a"/><circle cx="556.5" cy="454.1" r="0.9" fill="#2a9a2a"/><circle cx="563.1" cy="455.9" r="0.9" fill="#2a9a2a"/><circle cx="569.7" cy="457.6" r="0.9" fill="#2a9a2a"/><circle cx="576.3" cy="459.1" r="0.9" fill="#2a9a2a"/><circle cx="582.9" cy="460.6" r="0.9" fill="#2a9a2a"/><circle cx="589.5" cy="462.1" r="0.9" fill="#2a9a2a"/><circle cx="596.1" cy="463.5" r="0.9" fill="#2a9a2a"/><circle cx="602.7" cy="465" r="0.9" fill="#2a9a2a"/><circle cx="609.3" cy="466.5" r="0.9" fill="#2a9a2a"/><circle cx="615.9" cy="468" r="0.9" fill="#2a9a2a"/><circle cx="622.5" cy="469.6" r="0.9" fill="#2a9a2a"/><circle cx="629.1" cy="471.1" r="0.9" fill="#2a9a2a"/><circle cx="635.7" cy="472.6" r="0.9" fill="#2a9a2a"/><circle cx="642.3" cy="474.1" r="0.9" fill="#2a9a2a"/><circle cx="648.9" cy="475.4" r="0.9" fill="#2a9a2a"/><circle cx="655.5" cy="476.8" r="0.9" fill="#2a9a2a"/><circle cx="662.1" cy="478.2" r="0.9" fill="#2a9a2a"/><circle cx="668.7" cy="479.4" r="0.9" fill="#2a9a2a"/><circle cx="675.3" cy="480" r="0.9" fill="#2a9a2a"/><circle cx="681.9" cy="479.3" r="0.9" fill="#2a9a2a"/><circle cx="688.5" cy="477.4" r="0.9" fill="#2a9a2a"/><circle cx="695.1" cy="476.3" r="0.9" fill="#2a9a2a"/><circle cx="701.7" cy="475.3" r="0.9" fill="#2a9a2a"/><path d="M437.7,447.7 L439.2,447.7 L440.7,447.8 L442.2,447.8 L443.7,447.9 L445.2,448 L446.7,448 L448.2,448.1 L449.7,448.2 L451.2,448.3 L452.7,448.3 L454.2,448.4 L455.7,448.5 L457.2,448.6 L458.7,448.7 L460.2,448.8 L461.7,448.9 L463.2,449 L464.7,449.1 L466.2,449.2 L467.7,449.3 L469.2,449.4 L470.7,449.6 L472.2,449.7 L473.7,449.8 L475.2,449.9 L476.7,450.1 L478.2,450.2 L479.7,450.4 L481.2,450.5 L482.7,450.7 L484.2,450.8 L485.7,451 L487.2,451.2 L488.7,451.4 L490.2,451.6 L491.7,451.7 L493.2,451.9 L494.7,452.1 L496.2,452.4 L497.7,452.6 L499.2,452.8 L500.7,453 L502.2,453.2 L503.7,453.4 L505.2,453.7 L506.7,453.9 L508.2,454.2 L509.7,454.4 L511.2,454.7 L512.7,455 L514.2,455.3 L515.7,455.6 L517.2,455.9 L518.7,456.2 L520.2,456.5 L521.7,456.9 L523.2,457.2 L524.7,457.5 L526.2,457.9 L527.7,458.2 L529.2,458.6 L530.7,459 L532.2,459.3 L533.7,459.7 L535.2,460.1 L536.7,460.4 L538.2,460.8 L539.7,461.2 L541.2,461.6 L542.7,462 L544.2,462.3 L545.7,462.8 L547.2,463.2 L548.7,463.6 L550.2,464.1 L551.7,464.6 L553.2,465 L554.7,465.5 L556.2,466 L557.7,466.5 L559.2,466.9 L560.7,467.4 L562.2,467.9 L563.7,468.3 L565.2,468.7 L566.7,469.1 L568.2,469.5 L569.7,469.9 L571.2,470.3 L572.7,470.6 L574.2,471 L575.7,471.4 L577.2,471.7 L578.7,472.1 L580.2,472.4 L581.7,472.7 L583.2,473.1 L584.7,473.4 L586.2,473.7 L587.7,474.1 L589.2,474.4 L590.7,474.7 L592.2,475 L593.7,475.4 L595.2,475.7 L596.7,476 L598.2,476.3 L599.7,476.6 L601.2,476.9 L602.7,477.2 L604.2,477.6 L605.7,477.9 L607.2,478.2 L608.7,478.5 L610.2,478.8 L611.7,479.2 L613.2,479.5 L614.7,479.9 L616.2,480.2 L617.7,480.6 L619.2,481 L620.7,481.3 L622.2,481.7 L623.7,482.1 L625.2,482.4 L626.7,482.8 L628.2,483.1 L629.7,483.5 L631.2,483.8 L632.7,484.1 L634.2,484.4 L635.7,484.7 L637.2,485 L638.7,485.3 L640.2,485.5 L641.7,485.7 L643.2,486 L644.7,486.1 L646.2,486.3 L647.7,486.4 L649.2,486.6 L650.7,486.7 L652.2,486.8 L653.7,486.9 L655.2,487 L656.7,487.1 L658.2,487.2 L659.7,487.2 L661.2,487.3 L662.7,487.4 L664.2,487.4 L665.7,487.5 L667.2,487.5 L668.7,487.5 L670.2,487.5 L671.7,487.4 L673.2,487.3 L674.7,487.2 L676.2,487 L677.7,486.9 L679.2,486.8 L680.7,486.8 L682.2,486.8 L683.7,486.8 L685.2,486.8 L686.7,486.8 L688.2,486.8 L689.7,486.9 L691.2,486.9 L692.7,487 L694.2,487 L695.7,487.1 L697.2,487.2 L698.7,487.3 L700.2,487.4 L701.7,487.5" fill="none" stroke="#525252" stroke-width="1.0"/><circle cx="437.7" cy="447.7" r="0.9" fill="#2a9a2a"/><circle cx="444.3" cy="447.9" r="0.9" fill="#2a9a2a"/><circle cx="450.9" cy="448.2" r="0.9" fill="#2a9a2a"/><circle cx="457.5" cy="448.6" r="0.9" fill="#2a9a2a"/><circle cx="464.1" cy="449.1" r="0.9" fill="#2a9a2a"/><circle cx="470.7" cy="449.6" r="0.9" fill="#2a9a2a"/><circle cx="477.3" cy="450.1" r="0.9" fill="#2a9a2a"/><circle cx="483.9" cy="450.8" r="0.9" fill="#2a9a2a"/><circle cx="490.5" cy="451.6" r="0.9" fill="#2a9a2a"/><circle cx="497.1" cy="452.5" r="0.9" fill="#2a9a2a"/><circle cx="503.7" cy="453.4" r="0.9" fill="#2a9a2a"/><circle cx="510.3" cy="454.6" r="0.9" fill="#2a9a2a"/><circle cx="516.9" cy="455.8" r="0.9" fill="#2a9a2a"/><circle cx="523.5" cy="457.3" r="0.9" fill="#2a9a2a"/><circle cx="530.1" cy="458.8" r="0.9" fill="#2a9a2a"/><circle cx="536.7" cy="460.4" r="0.9" fill="#2a9a2a"/><circle cx="543.3" cy="462.1" r="0.9" fill="#2a9a2a"/><circle cx="549.9" cy="464" r="0.9" fill="#2a9a2a"/><circle cx="556.5" cy="466.1" r="0.9" fill="#2a9a2a"/><circle cx="563.1" cy="468.1" r="0.9" fill="#2a9a2a"/><circle cx="569.7" cy="469.9" r="0.9" fill="#2a9a2a"/><circle cx="576.3" cy="471.5" r="0.9" fill="#2a9a2a"/><circle cx="582.9" cy="473" r="0.9" fill="#2a9a2a"/><circle cx="589.5" cy="474.5" r="0.9" fill="#2a9a2a"/><circle cx="596.1" cy="475.9" r="0.9" fill="#2a9a2a"/><circle cx="602.7" cy="477.2" r="0.9" fill="#2a9a2a"/><circle cx="609.3" cy="478.6" r="0.9" fill="#2a9a2a"/><circle cx="615.9" cy="480.2" r="0.9" fill="#2a9a2a"/><circle cx="622.5" cy="481.8" r="0.9" fill="#2a9a2a"/><circle cx="629.1" cy="483.3" r="0.9" fill="#2a9a2a"/><circle cx="635.7" cy="484.7" r="0.9" fill="#2a9a2a"/><circle cx="642.3" cy="485.8" r="0.9" fill="#2a9a2a"/><circle cx="648.9" cy="486.5" r="0.9" fill="#2a9a2a"/><circle cx="655.5" cy="487" r="0.9" fill="#2a9a2a"/><circle cx="662.1" cy="487.4" r="0.9" fill="#2a9a2a"/><circle cx="668.7" cy="487.5" r="0.9" fill="#2a9a2a"/><circle cx="675.3" cy="487.1" r="0.9" fill="#2a9a2a"/><circle cx="681.9" cy="486.8" r="0.9" fill="#2a9a2a"/><circle cx="688.5" cy="486.9" r="0.9" fill="#2a9a2a"/><circle cx="695.1" cy="487.1" r="0.9" fill="#2a9a2a"/><circle cx="701.7" cy="487.5" r="0.9" fill="#2a9a2a"/><path d="M437.7,449 L439.2,449 L440.7,449.1 L442.2,449.2 L443.7,449.2 L445.2,449.3 L446.7,449.4 L448.2,449.4 L449.7,449.5 L451.2,449.6 L452.7,449.7 L454.2,449.8 L455.7,449.9 L457.2,450 L458.7,450.1 L460.2,450.2 L461.7,450.3 L463.2,450.5 L464.7,450.6 L466.2,450.7 L467.8,450.8 L469.3,450.9 L470.8,451.1 L472.3,451.2 L473.8,451.3 L475.3,451.5 L476.8,451.6 L478.3,451.8 L479.8,451.9 L481.3,452.1 L482.8,452.3 L484.3,452.5 L485.8,452.6 L487.3,452.8 L488.8,453 L490.3,453.2 L491.8,453.5 L493.3,453.7 L494.8,453.9 L496.3,454.1 L497.8,454.4 L499.3,454.6 L500.8,454.9 L502.3,455.1 L503.8,455.4 L505.3,455.7 L506.8,456 L508.3,456.3 L509.8,456.6 L511.3,456.9 L512.8,457.3 L514.3,457.7 L515.8,458.1 L517.3,458.5 L518.8,458.9 L520.3,459.3 L521.8,459.7 L523.3,460.2 L524.8,460.6 L526.4,461.1 L527.9,461.6 L529.4,462 L530.9,462.5 L532.4,463 L533.9,463.5 L535.4,464.1 L536.9,464.6 L538.4,465.1 L539.9,465.6 L541.4,466.2 L542.9,466.7 L544.4,467.3 L545.9,468 L547.4,468.6 L548.9,469.4 L550.4,470.1 L551.9,470.9 L553.4,471.6 L554.9,472.4 L556.4,473.2 L557.9,474 L559.4,474.8 L560.9,475.5 L562.4,476.3 L563.9,477 L565.4,477.6 L566.9,478.3 L568.4,478.9 L569.9,479.4 L571.4,480 L572.9,480.5 L574.4,481 L575.9,481.6 L577.4,482.1 L578.9,482.6 L580.4,483.1 L581.9,483.5 L583.4,484 L584.9,484.6 L586.5,485.1 L588,485.6 L589.5,486.1 L591,486.7 L592.5,487.2 L594,487.7 L595.5,488.3 L597,488.8 L598.5,489.4 L600,489.9 L601.5,490.4 L603,491 L604.5,491.5 L606,492 L607.5,492.5 L609,493 L610.5,493.5 L612,494 L613.5,494.5 L615,495" fill="none" stroke="#525252" stroke-width="1.0"/><circle cx="437.7" cy="449" r="0.9" fill="#2a9a2a"/><circle cx="444.3" cy="449.2" r="0.9" fill="#2a9a2a"/><circle cx="450.9" cy="449.6" r="0.9" fill="#2a9a2a"/><circle cx="457.5" cy="450" r="0.9" fill="#2a9a2a"/><circle cx="464.1" cy="450.5" r="0.9" fill="#2a9a2a"/><circle cx="470.7" cy="451.1" r="0.9" fill="#2a9a2a"/><circle cx="477.3" cy="451.7" r="0.9" fill="#2a9a2a"/><circle cx="483.9" cy="452.4" r="0.9" fill="#2a9a2a"/><circle cx="490.5" cy="453.3" r="0.9" fill="#2a9a2a"/><circle cx="497.1" cy="454.3" r="0.9" fill="#2a9a2a"/><circle cx="503.7" cy="455.4" r="0.9" fill="#2a9a2a"/><circle cx="510.3" cy="456.7" r="0.9" fill="#2a9a2a"/><circle cx="516.9" cy="458.3" r="0.9" fill="#2a9a2a"/><circle cx="523.5" cy="460.2" r="0.9" fill="#2a9a2a"/><circle cx="530.1" cy="462.3" r="0.9" fill="#2a9a2a"/><circle cx="536.7" cy="464.5" r="0.9" fill="#2a9a2a"/><circle cx="543.3" cy="466.9" r="0.9" fill="#2a9a2a"/><circle cx="549.9" cy="469.9" r="0.9" fill="#2a9a2a"/><circle cx="556.5" cy="473.3" r="0.9" fill="#2a9a2a"/><circle cx="563.1" cy="476.6" r="0.9" fill="#2a9a2a"/><circle cx="569.7" cy="479.3" r="0.9" fill="#2a9a2a"/><circle cx="576.3" cy="481.7" r="0.9" fill="#2a9a2a"/><circle cx="582.9" cy="483.9" r="0.9" fill="#2a9a2a"/><circle cx="589.5" cy="486.1" r="0.9" fill="#2a9a2a"/><circle cx="596.1" cy="488.5" r="0.9" fill="#2a9a2a"/><circle cx="602.7" cy="490.9" r="0.9" fill="#2a9a2a"/><circle cx="609.3" cy="493.1" r="0.9" fill="#2a9a2a"/><path d="M437.7,463.8 L439.2,463.8 L440.7,463.9 L442.2,463.9 L443.7,464 L445.2,464 L446.7,464.1 L448.2,464.1 L449.7,464.2 L451.2,464.3 L452.7,464.4 L454.2,464.4 L455.7,464.5 L457.2,464.6 L458.7,464.7 L460.2,464.8 L461.7,464.9 L463.3,465 L464.8,465.1 L466.3,465.2 L467.8,465.3 L469.3,465.4 L470.8,465.6 L472.3,465.7 L473.8,465.8 L475.3,465.9 L476.8,466.1 L478.3,466.2 L479.8,466.4 L481.3,466.5 L482.8,466.7 L484.3,466.9 L485.8,467.1 L487.3,467.3 L488.8,467.5 L490.3,467.7 L491.8,467.9 L493.3,468.1 L494.8,468.3 L496.3,468.5 L497.8,468.7 L499.3,469 L500.8,469.2 L502.3,469.4 L503.8,469.7 L505.3,469.9 L506.8,470.2 L508.3,470.5 L509.8,470.8 L511.4,471.1 L512.9,471.4 L514.4,471.7 L515.9,472 L517.4,472.4 L518.9,472.7 L520.4,473.1 L521.9,473.5 L523.4,473.8 L524.9,474.2 L526.4,474.6 L527.9,475 L529.4,475.4 L530.9,475.8 L532.4,476.2 L533.9,476.6 L535.4,477 L536.9,477.4 L538.4,477.8 L539.9,478.2 L541.4,478.6 L542.9,479 L544.4,479.4 L545.9,479.8 L547.4,480.2 L548.9,480.7 L550.4,481.1 L551.9,481.5 L553.4,481.9 L554.9,482.4 L556.4,482.8 L557.9,483.3 L559.4,483.8 L561,484.3 L562.5,484.8 L564,485.3 L565.5,485.9 L567,486.5 L568.5,487.1 L570,487.8 L571.5,488.6 L573,489.4 L574.5,490.2 L576,491 L577.5,491.8 L579,492.5 L580.5,493.2 L582,493.8 L583.5,494.4 L585,495" fill="none" stroke="#525252" stroke-width="1.0"/><circle cx="437.7" cy="463.8" r="0.9" fill="#2a9a2a"/><circle cx="444.3" cy="464" r="0.9" fill="#2a9a2a"/><circle cx="450.9" cy="464.3" r="0.9" fill="#2a9a2a"/><circle cx="457.5" cy="464.6" r="0.9" fill="#2a9a2a"/><circle cx="464.1" cy="465.1" r="0.9" fill="#2a9a2a"/><circle cx="470.7" cy="465.6" r="0.9" fill="#2a9a2a"/><circle cx="477.3" cy="466.1" r="0.9" fill="#2a9a2a"/><circle cx="483.9" cy="466.8" r="0.9" fill="#2a9a2a"/><circle cx="490.5" cy="467.7" r="0.9" fill="#2a9a2a"/><circle cx="497.1" cy="468.6" r="0.9" fill="#2a9a2a"/><circle cx="503.7" cy="469.6" r="0.9" fill="#2a9a2a"/><circle cx="510.3" cy="470.9" r="0.9" fill="#2a9a2a"/><circle cx="516.9" cy="472.3" r="0.9" fill="#2a9a2a"/><circle cx="523.5" cy="473.9" r="0.9" fill="#2a9a2a"/><circle cx="530.1" cy="475.6" r="0.9" fill="#2a9a2a"/><circle cx="536.7" cy="477.3" r="0.9" fill="#2a9a2a"/><circle cx="543.3" cy="479.1" r="0.9" fill="#2a9a2a"/><circle cx="549.9" cy="480.9" r="0.9" fill="#2a9a2a"/><circle cx="556.5" cy="482.9" r="0.9" fill="#2a9a2a"/><circle cx="563.1" cy="485" r="0.9" fill="#2a9a2a"/><circle cx="569.7" cy="487.7" r="0.9" fill="#2a9a2a"/><circle cx="576.3" cy="491.2" r="0.9" fill="#2a9a2a"/><circle cx="582.9" cy="494.2" r="0.9" fill="#2a9a2a"/><path d="M645,496 L646.5,495.4 L648.1,494.9 L649.6,494.3 L651.1,493.8 L652.7,493.2 L654.2,492.7 L655.7,492.2 L657.3,491.7 L658.8,491.3 L660.3,490.8 L661.9,490.3 L663.4,489.9 L664.9,489.4 L666.5,489 L668,488.7 L669.5,488.3 L671.1,488 L672.6,487.7 L674.1,487.3 L675.6,487 L677.2,486.8 L678.7,486.6 L680.2,486.5 L681.8,486.5 L683.3,486.5 L684.8,486.5 L686.4,486.5 L687.9,486.5 L689.4,486.6 L691,486.6 L692.5,486.7 L694,486.7 L695.6,486.8 L697.1,487 L698.6,487.1 L700.2,487.3 L701.7,487.5" fill="none" stroke="#525252" stroke-width="1.0"/><circle cx="648.9" cy="494.6" r="0.9" fill="#2a9a2a"/><circle cx="655.5" cy="492.3" r="0.9" fill="#2a9a2a"/><circle cx="662.1" cy="490.2" r="0.9" fill="#2a9a2a"/><circle cx="668.7" cy="488.5" r="0.9" fill="#2a9a2a"/><circle cx="675.3" cy="487.1" r="0.9" fill="#2a9a2a"/><circle cx="681.9" cy="486.5" r="0.9" fill="#2a9a2a"/><circle cx="688.5" cy="486.5" r="0.9" fill="#2a9a2a"/><circle cx="695.1" cy="486.8" r="0.9" fill="#2a9a2a"/><circle cx="701.7" cy="487.5" r="0.9" fill="#2a9a2a"/><path d="M665,496 L666.5,495.4 L668.1,494.9 L669.6,494.4 L671.1,493.9 L672.6,493.5 L674.2,493.2 L675.7,492.9 L677.2,492.6 L678.8,492.4 L680.3,492.2 L681.8,492 L683.4,491.9 L684.9,491.8 L686.4,491.8 L687.9,491.7 L689.5,491.7 L691,491.7 L692.5,491.7 L694.1,491.6 L695.6,491.6 L697.1,491.6 L698.6,491.6 L700.2,491.6 L701.7,491.6" fill="none" stroke="#525252" stroke-width="1.0"/><circle cx="668.7" cy="494.6" r="0.9" fill="#2a9a2a"/><circle cx="675.3" cy="492.9" r="0.9" fill="#2a9a2a"/><circle cx="681.9" cy="492" r="0.9" fill="#2a9a2a"/><circle cx="688.5" cy="491.7" r="0.9" fill="#2a9a2a"/><circle cx="695.1" cy="491.6" r="0.9" fill="#2a9a2a"/><circle cx="701.7" cy="491.6" r="0.9" fill="#2a9a2a"/><path d="M437.7,481.4 L439.2,481.4 L440.7,481.4 L442.3,481.5 L443.8,481.5 L445.3,481.6 L446.8,481.7 L448.3,481.8 L449.9,481.8 L451.4,481.9 L452.9,482 L454.4,482.2 L455.9,482.4 L457.5,482.6 L459,482.8 L460.5,483 L462,483.3 L463.5,483.5 L465.1,483.8 L466.6,484.1 L468.1,484.4 L469.6,484.7 L471.1,485.1 L472.6,485.5 L474.2,485.9 L475.7,486.3 L477.2,486.8 L478.7,487.2 L480.2,487.7 L481.8,488.2 L483.3,488.8 L484.8,489.3 L486.3,489.9 L487.8,490.5 L489.4,491.1 L490.9,491.6 L492.4,492.3 L493.9,492.9 L495.4,493.5 L497,494.2 L498.5,494.8 L500,495.5" fill="none" stroke="#525252" stroke-width="1.0"/><circle cx="437.7" cy="481.4" r="2.05" fill="#aa1a2c"/><circle cx="437.7" cy="481.4" r="0.75" fill="#4a6a2a"/><circle cx="444.3" cy="481.6" r="2.05" fill="#aa1a2c"/><circle cx="444.3" cy="481.6" r="0.75" fill="#4a6a2a"/><circle cx="450.9" cy="481.9" r="2.05" fill="#aa1a2c"/><circle cx="450.9" cy="481.9" r="0.75" fill="#4a6a2a"/><circle cx="457.5" cy="482.6" r="2.05" fill="#aa1a2c"/><circle cx="457.5" cy="482.6" r="0.75" fill="#4a6a2a"/><circle cx="464.1" cy="483.6" r="2.05" fill="#aa1a2c"/><circle cx="464.1" cy="483.6" r="0.75" fill="#4a6a2a"/><circle cx="470.7" cy="485" r="2.05" fill="#aa1a2c"/><circle cx="470.7" cy="485" r="0.75" fill="#4a6a2a"/><circle cx="477.3" cy="486.8" r="2.05" fill="#aa1a2c"/><circle cx="477.3" cy="486.8" r="0.75" fill="#4a6a2a"/><circle cx="483.9" cy="489" r="2.05" fill="#aa1a2c"/><circle cx="483.9" cy="489" r="0.75" fill="#4a6a2a"/><circle cx="490.5" cy="491.5" r="2.05" fill="#aa1a2c"/><circle cx="490.5" cy="491.5" r="0.75" fill="#4a6a2a"/><circle cx="497.1" cy="494.2" r="2.05" fill="#aa1a2c"/><circle cx="497.1" cy="494.2" r="0.75" fill="#4a6a2a"/><path d="M437.7,487.5 L439.2,487.5 L440.8,487.6 L442.3,487.6 L443.8,487.7 L445.3,487.8 L446.9,487.9 L448.4,488 L449.9,488.1 L451.4,488.2 L453,488.4 L454.5,488.6 L456,488.9 L457.5,489.1 L459.1,489.4 L460.6,489.8 L462.1,490.1 L463.6,490.4 L465.2,490.7 L466.7,491.1 L468.2,491.4 L469.7,491.8 L471.3,492.2 L472.8,492.6 L474.3,493.1 L475.8,493.5 L477.4,494 L478.9,494.5 L480.4,495.1 L481.9,495.7 L483.5,496.3 L485,497" fill="none" stroke="#525252" stroke-width="1.0"/><circle cx="437.7" cy="487.5" r="2.05" fill="#aa1a2c"/><circle cx="437.7" cy="487.5" r="0.75" fill="#4a6a2a"/><circle cx="444.3" cy="487.7" r="2.05" fill="#aa1a2c"/><circle cx="444.3" cy="487.7" r="0.75" fill="#4a6a2a"/><circle cx="450.9" cy="488.2" r="2.05" fill="#aa1a2c"/><circle cx="450.9" cy="488.2" r="0.75" fill="#4a6a2a"/><circle cx="457.5" cy="489.1" r="2.05" fill="#aa1a2c"/><circle cx="457.5" cy="489.1" r="0.75" fill="#4a6a2a"/><circle cx="464.1" cy="490.5" r="2.05" fill="#aa1a2c"/><circle cx="464.1" cy="490.5" r="0.75" fill="#4a6a2a"/><circle cx="470.7" cy="492.1" r="2.05" fill="#aa1a2c"/><circle cx="470.7" cy="492.1" r="0.75" fill="#4a6a2a"/><circle cx="477.3" cy="494" r="2.05" fill="#aa1a2c"/><circle cx="477.3" cy="494" r="0.75" fill="#4a6a2a"/><circle cx="483.9" cy="496.5" r="2.05" fill="#aa1a2c"/><circle cx="483.9" cy="496.5" r="0.75" fill="#4a6a2a"/><path d="M437.7,360.3 L439.2,360.3 L440.7,360.3 L442.2,360.3 L443.7,360.3 L445.2,360.3 L446.7,360.4 L448.2,360.4 L449.7,360.4 L451.2,360.4 L452.7,360.4 L454.2,360.5 L455.7,360.5 L457.2,360.5 L458.7,360.6 L460.2,360.6 L461.7,360.6 L463.2,360.7 L464.7,360.7 L466.2,360.8 L467.7,360.8 L469.2,360.9 L470.7,360.9 L472.2,360.9 L473.7,361 L475.2,361 L476.7,361.1 L478.2,361.2 L479.7,361.2 L481.2,361.3 L482.7,361.4 L484.2,361.5 L485.7,361.6 L487.2,361.8 L488.7,361.9 L490.2,362.1 L491.7,362.2 L493.2,362.4 L494.7,362.5 L496.2,362.7 L497.7,362.9 L499.2,363.1 L500.7,363.2 L502.2,363.4 L503.7,363.6 L505.2,363.8 L506.7,364 L508.2,364.2 L509.7,364.5 L511.2,364.7 L512.7,365 L514.2,365.2 L515.7,365.5 L517.2,365.8 L518.7,366.1 L520.2,366.3 L521.7,366.7 L523.2,367 L524.7,367.3 L526.2,367.6 L527.7,367.9 L529.2,368.3 L530.7,368.6 L532.2,369 L533.7,369.3 L535.2,369.7 L536.7,370.1 L538.2,370.6 L539.7,371 L541.2,371.4 L542.7,371.9 L544.2,372.4 L545.7,372.8 L547.2,373.3 L548.7,373.8 L550.2,374.3 L551.7,374.7 L553.2,375.3 L554.7,375.8 L556.2,376.3 L557.7,376.9 L559.2,377.4 L560.7,378 L562.2,378.5 L563.7,379.1 L565.2,379.6 L566.7,380.2 L568.2,380.8 L569.7,381.4 L571.2,382 L572.7,382.6 L574.2,383.2 L575.7,383.8 L577.2,384.4 L578.7,385 L580.2,385.6 L581.7,386.3 L583.2,386.9 L584.7,387.6 L586.2,388.2 L587.7,388.9 L589.2,389.6 L590.7,390.3 L592.2,391 L593.7,391.7 L595.2,392.5 L596.7,393.2 L598.2,394 L599.7,394.8 L601.2,395.5 L602.7,396.3 L604.2,397.1 L605.7,397.9 L607.2,398.7 L608.7,399.6 L610.2,400.4 L611.7,401.2 L613.2,402 L614.7,402.9 L616.2,403.7 L617.7,404.5 L619.2,405.3 L620.7,406.1 L622.2,407 L623.7,407.8 L625.2,408.6 L626.7,409.4 L628.2,410.3 L629.7,411.1 L631.2,412 L632.7,412.9 L634.2,413.8 L635.7,414.7 L637.2,415.6 L638.7,416.5 L640.2,417.4 L641.7,418.4 L643.2,419.3 L644.7,420.1 L646.2,421 L647.7,421.8 L649.2,422.7 L650.7,423.5 L652.2,424.4 L653.7,425.2 L655.2,426 L656.7,426.9 L658.2,427.7 L659.7,428.6 L661.2,429.5 L662.7,430.5 L664.2,431.4 L665.7,432.4 L667.2,433.4 L668.7,434.4 L670.2,435.4 L671.7,436.4 L673.2,437.3 L674.7,438.2 L676.2,439.1 L677.7,439.9 L679.2,440.6 L680.7,441.3 L682.2,442 L683.7,442.6 L685.2,443.2 L686.7,443.7 L688.2,444.2 L689.7,444.7 L691.2,445.2 L692.7,445.5 L694.2,445.9 L695.7,446.1 L697.2,446.4 L698.7,446.6 L700.2,446.8 L701.7,446.9" fill="none" stroke="#525252" stroke-width="1.0"/><circle cx="437.7" cy="360.3" r="1.35" fill="#2ab82a"/><circle cx="444.3" cy="360.3" r="1.35" fill="#2ab82a"/><circle cx="450.9" cy="360.4" r="1.35" fill="#2ab82a"/><circle cx="457.5" cy="360.5" r="1.35" fill="#2ab82a"/><circle cx="464.1" cy="360.7" r="1.35" fill="#2ab82a"/><circle cx="470.7" cy="360.9" r="1.35" fill="#2ab82a"/><circle cx="477.3" cy="361.1" r="1.35" fill="#2ab82a"/><circle cx="483.9" cy="361.5" r="1.35" fill="#2ab82a"/><circle cx="490.5" cy="362.1" r="1.35" fill="#2ab82a"/><circle cx="497.1" cy="362.8" r="1.35" fill="#2ab82a"/><circle cx="503.7" cy="363.6" r="1.35" fill="#2ab82a"/><circle cx="510.3" cy="364.6" r="1.35" fill="#2ab82a"/><circle cx="516.9" cy="365.7" r="1.35" fill="#2ab82a"/><circle cx="523.5" cy="367" r="1.35" fill="#2ab82a"/><circle cx="530.1" cy="368.5" r="1.35" fill="#2ab82a"/><circle cx="536.7" cy="370.1" r="1.35" fill="#2ab82a"/><circle cx="543.3" cy="372.1" r="1.35" fill="#2ab82a"/><circle cx="549.9" cy="374.2" r="1.75" fill="#2ec82e"/><circle cx="549.9" cy="374.2" r="0.6" fill="#1a8a1a"/><circle cx="556.5" cy="376.4" r="1.75" fill="#2ec82e"/><circle cx="556.5" cy="376.4" r="0.6" fill="#1a8a1a"/><circle cx="563.1" cy="378.9" r="1.75" fill="#2ec82e"/><circle cx="563.1" cy="378.9" r="0.6" fill="#1a8a1a"/><circle cx="569.7" cy="381.4" r="1.75" fill="#2ec82e"/><circle cx="569.7" cy="381.4" r="0.6" fill="#1a8a1a"/><circle cx="576.3" cy="384" r="1.75" fill="#2ec82e"/><circle cx="576.3" cy="384" r="0.6" fill="#1a8a1a"/><circle cx="582.9" cy="386.8" r="1.75" fill="#2ec82e"/><circle cx="582.9" cy="386.8" r="0.6" fill="#1a8a1a"/><circle cx="589.5" cy="389.7" r="1.75" fill="#2ec82e"/><circle cx="589.5" cy="389.7" r="0.6" fill="#1a8a1a"/><circle cx="596.1" cy="392.9" r="1.75" fill="#2ec82e"/><circle cx="596.1" cy="392.9" r="0.6" fill="#1a8a1a"/><circle cx="602.7" cy="396.3" r="1.75" fill="#2ec82e"/><circle cx="602.7" cy="396.3" r="0.6" fill="#1a8a1a"/><circle cx="609.3" cy="399.9" r="1.75" fill="#2ec82e"/><circle cx="609.3" cy="399.9" r="0.6" fill="#1a8a1a"/><circle cx="615.9" cy="403.5" r="1.75" fill="#2ec82e"/><circle cx="615.9" cy="403.5" r="0.6" fill="#1a8a1a"/><circle cx="622.5" cy="407.1" r="1.75" fill="#2ec82e"/><circle cx="622.5" cy="407.1" r="0.6" fill="#1a8a1a"/><circle cx="629.1" cy="410.8" r="1.75" fill="#2ec82e"/><circle cx="629.1" cy="410.8" r="0.6" fill="#1a8a1a"/><circle cx="635.7" cy="414.7" r="1.75" fill="#2ec82e"/><circle cx="635.7" cy="414.7" r="0.6" fill="#1a8a1a"/><circle cx="642.3" cy="418.7" r="1.75" fill="#2ec82e"/><circle cx="642.3" cy="418.7" r="0.6" fill="#1a8a1a"/><circle cx="648.9" cy="422.5" r="1.75" fill="#2ec82e"/><circle cx="648.9" cy="422.5" r="0.6" fill="#1a8a1a"/><circle cx="655.5" cy="426.2" r="1.75" fill="#2ec82e"/><circle cx="655.5" cy="426.2" r="0.6" fill="#1a8a1a"/><circle cx="662.1" cy="430.1" r="1.75" fill="#2ec82e"/><circle cx="662.1" cy="430.1" r="0.6" fill="#1a8a1a"/><circle cx="668.7" cy="434.4" r="1.75" fill="#2ec82e"/><circle cx="668.7" cy="434.4" r="0.6" fill="#1a8a1a"/><circle cx="675.3" cy="438.6" r="1.75" fill="#2ec82e"/><circle cx="675.3" cy="438.6" r="0.6" fill="#1a8a1a"/><circle cx="681.9" cy="441.8" r="1.75" fill="#2ec82e"/><circle cx="681.9" cy="441.8" r="0.6" fill="#1a8a1a"/><circle cx="688.5" cy="444.3" r="1.75" fill="#2ec82e"/><circle cx="688.5" cy="444.3" r="0.6" fill="#1a8a1a"/><circle cx="695.1" cy="446" r="1.75" fill="#2ec82e"/><circle cx="695.1" cy="446" r="0.6" fill="#1a8a1a"/><circle cx="701.7" cy="446.9" r="1.75" fill="#2ec82e"/><circle cx="701.7" cy="446.9" r="0.6" fill="#1a8a1a"/><path d="M437.7,399.8 L439.2,399.8 L440.7,399.7 L442.2,399.7 L443.7,399.7 L445.2,399.6 L446.7,399.6 L448.2,399.6 L449.7,399.5 L451.2,399.5 L452.7,399.5 L454.2,399.4 L455.7,399.4 L457.2,399.3 L458.7,399.3 L460.2,399.3 L461.7,399.2 L463.2,399.2 L464.7,399.1 L466.2,399.1 L467.7,399.1 L469.2,399 L470.7,399 L472.2,398.9 L473.7,398.9 L475.2,398.9 L476.7,398.8 L478.2,398.8 L479.7,398.7 L481.2,398.7 L482.7,398.6 L484.2,398.6 L485.7,398.5 L487.2,398.5 L488.7,398.4 L490.2,398.4 L491.7,398.3 L493.2,398.3 L494.7,398.2 L496.2,398.2 L497.7,398.1 L499.2,398 L500.7,398 L502.2,397.9 L503.7,397.9 L505.2,397.8 L506.7,397.7 L508.2,397.6 L509.7,397.6 L511.2,397.5 L512.7,397.4 L514.2,397.3 L515.7,397.2 L517.2,397.1 L518.7,397.1 L520.2,397 L521.7,396.9 L523.2,396.8 L524.7,396.7 L526.2,396.6 L527.7,396.5 L529.2,396.4 L530.7,396.3 L532.2,396.2 L533.7,396.1 L535.2,396 L536.7,395.9 L538.2,395.8 L539.7,395.7 L541.2,395.6 L542.7,395.5 L544.2,395.4 L545.7,395.3 L547.2,395.2 L548.7,395.1 L550.2,395 L551.7,394.9 L553.2,394.8 L554.7,394.7 L556.2,394.6 L557.7,394.5 L559.2,394.4 L560.7,394.3 L562.2,394.2 L563.7,394.1 L565.2,394 L566.7,393.9 L568.2,393.8 L569.7,393.7 L571.2,393.6 L572.7,393.5 L574.2,393.4 L575.7,393.3 L577.2,393.2 L578.7,393.1 L580.2,393 L581.7,392.9 L583.2,392.8 L584.7,392.7 L586.2,392.6 L587.7,392.5 L589.2,392.4 L590.7,392.3 L592.2,392.2 L593.7,392.2 L595.2,392.1 L596.7,392 L598.2,391.9 L599.7,391.8 L601.2,391.7 L602.7,391.7 L604.2,391.6 L605.7,391.5 L607.2,391.4 L608.7,391.4 L610.2,391.3 L611.7,391.2 L613.2,391.1 L614.7,391.1 L616.2,391 L617.7,390.9 L619.2,390.9 L620.7,390.8 L622.2,390.7 L623.7,390.7 L625.2,390.6 L626.7,390.5 L628.2,390.5 L629.7,390.4 L631.2,390.4 L632.7,390.3 L634.2,390.3 L635.7,390.2 L637.2,390.2 L638.7,390.1 L640.2,390.1 L641.7,390 L643.2,390 L644.7,389.9 L646.2,389.9 L647.7,389.9 L649.2,389.8 L650.7,389.8 L652.2,389.7 L653.7,389.7 L655.2,389.7 L656.7,389.6 L658.2,389.6 L659.7,389.6 L661.2,389.5 L662.7,389.5 L664.2,389.5 L665.7,389.4 L667.2,389.4 L668.7,389.4 L670.2,389.3 L671.7,389.3 L673.2,389.3 L674.7,389.2 L676.2,389.2 L677.7,389.2 L679.2,389.2 L680.7,389.1 L682.2,389.1 L683.7,389.1 L685.2,389 L686.7,389 L688.2,389 L689.7,389 L691.2,388.9 L692.7,388.9 L694.2,388.9 L695.7,388.9 L697.2,388.9 L698.7,388.8 L700.2,388.8 L701.7,388.8" fill="none" stroke="#525252" stroke-width="1.0"/><circle cx="437.7" cy="399.8" r="2.3" fill="none" stroke="#3c30d8" stroke-width="1.3"/><circle cx="437.7" cy="399.8" r="0.9" fill="#b06070"/><circle cx="444.3" cy="399.7" r="2.3" fill="none" stroke="#3c30d8" stroke-width="1.3"/><circle cx="444.3" cy="399.7" r="0.9" fill="#b06070"/><circle cx="450.9" cy="399.5" r="2.3" fill="none" stroke="#3c30d8" stroke-width="1.3"/><circle cx="450.9" cy="399.5" r="0.9" fill="#b06070"/><circle cx="457.5" cy="399.3" r="2.3" fill="none" stroke="#3c30d8" stroke-width="1.3"/><circle cx="457.5" cy="399.3" r="0.9" fill="#b06070"/><circle cx="464.1" cy="399.2" r="2.3" fill="none" stroke="#3c30d8" stroke-width="1.3"/><circle cx="464.1" cy="399.2" r="0.9" fill="#b06070"/><circle cx="470.7" cy="399" r="2.3" fill="none" stroke="#3c30d8" stroke-width="1.3"/><circle cx="470.7" cy="399" r="0.9" fill="#b06070"/><circle cx="477.3" cy="398.8" r="2.3" fill="none" stroke="#3c30d8" stroke-width="1.3"/><circle cx="477.3" cy="398.8" r="0.9" fill="#b06070"/><circle cx="483.9" cy="398.6" r="2.3" fill="none" stroke="#3c30d8" stroke-width="1.3"/><circle cx="483.9" cy="398.6" r="0.9" fill="#b06070"/><circle cx="490.5" cy="398.4" r="2.3" fill="none" stroke="#3c30d8" stroke-width="1.3"/><circle cx="490.5" cy="398.4" r="0.9" fill="#b06070"/><circle cx="497.1" cy="398.1" r="2.3" fill="none" stroke="#3c30d8" stroke-width="1.3"/><circle cx="497.1" cy="398.1" r="0.9" fill="#b06070"/><circle cx="503.7" cy="397.9" r="2.3" fill="none" stroke="#3c30d8" stroke-width="1.3"/><circle cx="503.7" cy="397.9" r="0.9" fill="#b06070"/><circle cx="510.3" cy="397.5" r="2.3" fill="none" stroke="#3c30d8" stroke-width="1.3"/><circle cx="510.3" cy="397.5" r="0.9" fill="#b06070"/><circle cx="516.9" cy="397.2" r="2.3" fill="none" stroke="#3c30d8" stroke-width="1.3"/><circle cx="516.9" cy="397.2" r="0.9" fill="#b06070"/><circle cx="523.5" cy="396.8" r="2.3" fill="none" stroke="#3c30d8" stroke-width="1.3"/><circle cx="523.5" cy="396.8" r="0.9" fill="#b06070"/><circle cx="530.1" cy="396.4" r="2.3" fill="none" stroke="#3c30d8" stroke-width="1.3"/><circle cx="530.1" cy="396.4" r="0.9" fill="#b06070"/><circle cx="536.7" cy="395.9" r="2.3" fill="none" stroke="#3c30d8" stroke-width="1.3"/><circle cx="536.7" cy="395.9" r="0.9" fill="#b06070"/><circle cx="543.3" cy="395.5" r="2.3" fill="none" stroke="#3c30d8" stroke-width="1.3"/><circle cx="543.3" cy="395.5" r="0.9" fill="#b06070"/><circle cx="549.9" cy="395.1" r="2.3" fill="none" stroke="#3c30d8" stroke-width="1.3"/><circle cx="549.9" cy="395.1" r="0.9" fill="#b06070"/><circle cx="556.5" cy="394.6" r="2.3" fill="none" stroke="#3c30d8" stroke-width="1.3"/><circle cx="556.5" cy="394.6" r="0.9" fill="#b06070"/><circle cx="563.1" cy="394.2" r="2.3" fill="none" stroke="#3c30d8" stroke-width="1.3"/><circle cx="563.1" cy="394.2" r="0.9" fill="#b06070"/><circle cx="569.7" cy="393.7" r="2.3" fill="none" stroke="#3c30d8" stroke-width="1.3"/><circle cx="569.7" cy="393.7" r="0.9" fill="#b06070"/><circle cx="576.3" cy="393.3" r="2.3" fill="none" stroke="#3c30d8" stroke-width="1.3"/><circle cx="576.3" cy="393.3" r="0.9" fill="#b06070"/><circle cx="582.9" cy="392.8" r="2.3" fill="none" stroke="#3c30d8" stroke-width="1.3"/><circle cx="582.9" cy="392.8" r="0.9" fill="#b06070"/><circle cx="589.5" cy="392.4" r="2.3" fill="none" stroke="#3c30d8" stroke-width="1.3"/><circle cx="589.5" cy="392.4" r="0.9" fill="#b06070"/><circle cx="596.1" cy="392" r="2.3" fill="none" stroke="#3c30d8" stroke-width="1.3"/><circle cx="596.1" cy="392" r="0.9" fill="#b06070"/><circle cx="602.7" cy="391.7" r="2.3" fill="none" stroke="#3c30d8" stroke-width="1.3"/><circle cx="602.7" cy="391.7" r="0.9" fill="#b06070"/><circle cx="609.3" cy="391.3" r="2.3" fill="none" stroke="#3c30d8" stroke-width="1.3"/><circle cx="609.3" cy="391.3" r="0.9" fill="#b06070"/><circle cx="615.9" cy="391" r="2.3" fill="none" stroke="#3c30d8" stroke-width="1.3"/><circle cx="615.9" cy="391" r="0.9" fill="#b06070"/><circle cx="622.5" cy="390.7" r="2.3" fill="none" stroke="#3c30d8" stroke-width="1.3"/><circle cx="622.5" cy="390.7" r="0.9" fill="#b06070"/><circle cx="629.1" cy="390.5" r="2.3" fill="none" stroke="#3c30d8" stroke-width="1.3"/><circle cx="629.1" cy="390.5" r="0.9" fill="#b06070"/><circle cx="635.7" cy="390.2" r="2.3" fill="none" stroke="#3c30d8" stroke-width="1.3"/><circle cx="635.7" cy="390.2" r="0.9" fill="#b06070"/><circle cx="642.3" cy="390" r="2.3" fill="none" stroke="#3c30d8" stroke-width="1.3"/><circle cx="642.3" cy="390" r="0.9" fill="#b06070"/><circle cx="648.9" cy="389.8" r="2.3" fill="none" stroke="#3c30d8" stroke-width="1.3"/><circle cx="648.9" cy="389.8" r="0.9" fill="#b06070"/><circle cx="655.5" cy="389.7" r="2.3" fill="none" stroke="#3c30d8" stroke-width="1.3"/><circle cx="655.5" cy="389.7" r="0.9" fill="#b06070"/><circle cx="662.1" cy="389.5" r="2.3" fill="none" stroke="#3c30d8" stroke-width="1.3"/><circle cx="662.1" cy="389.5" r="0.9" fill="#b06070"/><circle cx="668.7" cy="389.4" r="2.3" fill="none" stroke="#3c30d8" stroke-width="1.3"/><circle cx="668.7" cy="389.4" r="0.9" fill="#b06070"/><circle cx="675.3" cy="389.2" r="2.3" fill="none" stroke="#3c30d8" stroke-width="1.3"/><circle cx="675.3" cy="389.2" r="0.9" fill="#b06070"/><circle cx="681.9" cy="389.1" r="2.3" fill="none" stroke="#3c30d8" stroke-width="1.3"/><circle cx="681.9" cy="389.1" r="0.9" fill="#b06070"/><circle cx="688.5" cy="389" r="2.3" fill="none" stroke="#3c30d8" stroke-width="1.3"/><circle cx="688.5" cy="389" r="0.9" fill="#b06070"/><circle cx="695.1" cy="388.9" r="2.3" fill="none" stroke="#3c30d8" stroke-width="1.3"/><circle cx="695.1" cy="388.9" r="0.9" fill="#b06070"/><circle cx="701.7" cy="388.8" r="2.3" fill="none" stroke="#3c30d8" stroke-width="1.3"/><circle cx="701.7" cy="388.8" r="0.9" fill="#b06070"/></g>
<g stroke="#3a3a3a" stroke-width="1.1"><line x1="434.9" y1="493.1" x2="437.7" y2="493.1"/><line x1="701.7" y1="493.1" x2="703.6" y2="493.1"/><line x1="432.9" y1="478.8" x2="437.7" y2="478.8"/><line x1="701.7" y1="478.8" x2="705.7" y2="478.8"/><line x1="434.9" y1="464.4" x2="437.7" y2="464.4"/><line x1="701.7" y1="464.4" x2="703.6" y2="464.4"/><line x1="434.9" y1="450.1" x2="437.7" y2="450.1"/><line x1="701.7" y1="450.1" x2="703.6" y2="450.1"/><line x1="434.9" y1="435.7" x2="437.7" y2="435.7"/><line x1="701.7" y1="435.7" x2="703.6" y2="435.7"/><line x1="432.9" y1="421.4" x2="437.7" y2="421.4"/><line x1="701.7" y1="421.4" x2="705.7" y2="421.4"/><line x1="434.9" y1="407.1" x2="437.7" y2="407.1"/><line x1="701.7" y1="407.1" x2="703.6" y2="407.1"/><line x1="434.9" y1="392.7" x2="437.7" y2="392.7"/><line x1="701.7" y1="392.7" x2="703.6" y2="392.7"/><line x1="434.9" y1="378.4" x2="437.7" y2="378.4"/><line x1="701.7" y1="378.4" x2="703.6" y2="378.4"/><line x1="432.9" y1="364" x2="437.7" y2="364"/><line x1="701.7" y1="364" x2="705.7" y2="364"/><line x1="434.9" y1="349.7" x2="437.7" y2="349.7"/><line x1="701.7" y1="349.7" x2="703.6" y2="349.7"/><line x1="434.9" y1="335.3" x2="437.7" y2="335.3"/><line x1="701.7" y1="335.3" x2="703.6" y2="335.3"/><line x1="434.9" y1="321" x2="437.7" y2="321"/><line x1="701.7" y1="321" x2="703.6" y2="321"/><line x1="432.9" y1="306.7" x2="437.7" y2="306.7"/><line x1="701.7" y1="306.7" x2="705.7" y2="306.7"/><line x1="434.9" y1="292.3" x2="437.7" y2="292.3"/><line x1="701.7" y1="292.3" x2="703.6" y2="292.3"/><line x1="434.9" y1="278" x2="437.7" y2="278"/><line x1="701.7" y1="278" x2="703.6" y2="278"/><line x1="434.9" y1="263.6" x2="437.7" y2="263.6"/><line x1="701.7" y1="263.6" x2="703.6" y2="263.6"/><line x1="432.9" y1="249.3" x2="437.7" y2="249.3"/><line x1="701.7" y1="249.3" x2="705.7" y2="249.3"/><line x1="434.9" y1="235" x2="437.7" y2="235"/><line x1="701.7" y1="235" x2="703.6" y2="235"/><line x1="434.9" y1="220.6" x2="437.7" y2="220.6"/><line x1="701.7" y1="220.6" x2="703.6" y2="220.6"/><line x1="434.9" y1="206.3" x2="437.7" y2="206.3"/><line x1="701.7" y1="206.3" x2="703.6" y2="206.3"/><line x1="432.9" y1="191.9" x2="437.7" y2="191.9"/><line x1="701.7" y1="191.9" x2="705.7" y2="191.9"/><line x1="434.9" y1="177.6" x2="437.7" y2="177.6"/><line x1="701.7" y1="177.6" x2="703.6" y2="177.6"/><line x1="434.9" y1="163.2" x2="437.7" y2="163.2"/><line x1="701.7" y1="163.2" x2="703.6" y2="163.2"/><line x1="434.9" y1="148.9" x2="437.7" y2="148.9"/><line x1="701.7" y1="148.9" x2="703.6" y2="148.9"/><line x1="432.9" y1="134.6" x2="437.7" y2="134.6"/><line x1="701.7" y1="134.6" x2="705.7" y2="134.6"/><line x1="434.9" y1="120.2" x2="437.7" y2="120.2"/><line x1="701.7" y1="120.2" x2="703.6" y2="120.2"/><line x1="434.9" y1="105.9" x2="437.7" y2="105.9"/><line x1="701.7" y1="105.9" x2="703.6" y2="105.9"/><line x1="434.9" y1="91.5" x2="437.7" y2="91.5"/><line x1="701.7" y1="91.5" x2="703.6" y2="91.5"/><line x1="432.9" y1="77.2" x2="437.7" y2="77.2"/><line x1="701.7" y1="77.2" x2="705.7" y2="77.2"/><line x1="434.9" y1="62.8" x2="437.7" y2="62.8"/><line x1="701.7" y1="62.8" x2="703.6" y2="62.8"/><line x1="434.9" y1="48.5" x2="437.7" y2="48.5"/><line x1="701.7" y1="48.5" x2="703.6" y2="48.5"/></g>
<rect x="437.7" y="48.5" width="264" height="444.6" fill="none" stroke="#1a1a1a" stroke-width="1.4"/>
<g font-family="Liberation Serif, serif" font-size="25" fill="#111"><text x="430.1" y="487.1" text-anchor="end">-1.2</text><text x="430.1" y="429.7" text-anchor="end">-0.8</text><text x="430.1" y="372.3" text-anchor="end">-0.4</text><text x="430.1" y="315" text-anchor="end">0</text><text x="430.1" y="257.6" text-anchor="end">0.4</text><text x="430.1" y="200.2" text-anchor="end">0.8</text><text x="430.1" y="142.9" text-anchor="end">1.2</text><text x="430.1" y="85.5" text-anchor="end">1.6</text></g>
<text transform="translate(23.2,285.3) rotate(-90)" text-anchor="middle" font-family="Liberation Serif, serif" font-size="25" fill="#111">Energy (eV)</text>
<text transform="translate(382.6,285.3) rotate(-90)" text-anchor="middle" font-family="Liberation Serif, serif" font-size="25" fill="#111">Energy (eV)</text>
<text x="31" y="26.6" font-family="Liberation Serif, serif" font-size="35.5" fill="#111">(a)</text>
<text x="390.3" y="26.6" font-family="Liberation Serif, serif" font-size="35.5" fill="#111">(b)</text>
<text x="133.6" y="35.4" font-family="Liberation Serif, serif" font-size="28" font-weight="bold" fill="#111">V - 15 - WS<tspan font-size="18" dy="6">2</tspan></text>
<text x="493.6" y="35.4" font-family="Liberation Serif, serif" font-size="28" font-weight="bold" fill="#111">Cr - 15 - WS<tspan font-size="18" dy="6">2</tspan></text>
<path d="M74.5,522.1 V504.3 H84.7" fill="none" stroke="#111" stroke-width="2.7"/>
<path d="M434,522.1 V504.3 H444.1" fill="none" stroke="#111" stroke-width="2.7"/>
<text x="340.5" y="520" text-anchor="middle" font-family="Liberation Serif, serif" font-size="25" fill="#111">Y</text>
<text x="699.9" y="520" text-anchor="middle" font-family="Liberation Serif, serif" font-size="25" fill="#111">Y</text>
<text x="264.6" y="74.1" font-family="Liberation Serif, serif" font-weight="bold" font-size="16" fill="#000">W<tspan font-size="11.8" dy="3.8">edge</tspan></text><circle cx="318.5" cy="70.6" r="4.9" fill="none" stroke="#ff4b4b" stroke-width="2.4"/><text x="268.4" y="100.2" font-family="Liberation Serif, serif" font-weight="bold" font-size="19" fill="#000">S<tspan font-size="11.8" dy="3.8">edge</tspan></text><circle cx="318.5" cy="96.7" r="4.9" fill="none" stroke="#4242fa" stroke-width="2.4"/><text x="276.6" y="128.1" font-family="Liberation Serif, serif" font-weight="bold" font-size="18" fill="#000">V</text><circle cx="318.5" cy="122.7" r="4.9" fill="none" stroke="#55f055" stroke-width="2.4"/>
<text x="623.6" y="74.1" font-family="Liberation Serif, serif" font-weight="bold" font-size="16" fill="#000">W<tspan font-size="11.8" dy="3.8">edge</tspan></text><circle cx="678.0" cy="70.6" r="4.9" fill="none" stroke="#ff4b4b" stroke-width="2.4"/><text x="627.3" y="100.2" font-family="Liberation Serif, serif" font-weight="bold" font-size="19" fill="#000">S<tspan font-size="11.8" dy="3.8">edge</tspan></text><circle cx="678.0" cy="96.7" r="4.9" fill="none" stroke="#4242fa" stroke-width="2.4"/><text x="633.8" y="128.1" font-family="Liberation Serif, serif" font-weight="bold" font-size="18" fill="#000">Cr</text><circle cx="678.0" cy="122.7" r="4.9" fill="none" stroke="#55f055" stroke-width="2.4"/>
<g stroke="#111" stroke-width="1.6"><line x1="444.5" y1="261" x2="444.5" y2="310"/></g>
<path d="M444.5,255.2 L441,262.3 L448,262.3 Z M444.5,316.3 L441,309.3 L448,309.3 Z" fill="#111"/>
<text x="453.6" y="294.5" font-family="Liberation Serif, serif" font-size="23" fill="#111">0.472eV</text>
</svg>
</body></html>
